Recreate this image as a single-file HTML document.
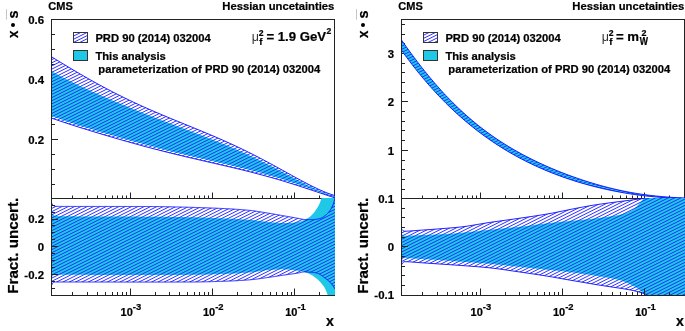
<!DOCTYPE html>
<html><head><meta charset="utf-8"><style>
html,body{margin:0;padding:0;background:#fff;}
svg{display:block;will-change:transform;}
text{font-family:"Liberation Sans",sans-serif;font-weight:bold;fill:#000;stroke:#000;stroke-width:0.22px;}
.lab{font-size:11px;}
.ylab{font-size:11.4px;}
.sup{font-size:9.4px;}
.ax{font-size:15.3px;}
.t{font-size:11px;}
.t2{font-size:11.28px;}
.lg{font-size:11.22px;}
.eq{font-size:13.2px;}
.sup2{font-size:8.6px;}
.mu{font-size:12.5px;font-weight:normal;fill:#333;stroke:none;}
.s2{font-size:8.6px;}
.sf{font-size:9.6px;}
.sw{font-size:10px;}
.s2b{font-size:8.9px;}
</style></head><body>
<svg width="685" height="331" viewBox="0 0 685 331">
<defs>
<pattern id="hatch" patternUnits="userSpaceOnUse" width="38" height="19"><path d="M-82.333,38.000L31.667,-19.000M-76.000,38.000L38.000,-19.000M-69.667,38.000L44.333,-19.000M-63.333,38.000L50.667,-19.000M-57.000,38.000L57.000,-19.000M-50.667,38.000L63.333,-19.000M-44.333,38.000L69.667,-19.000M-38.000,38.000L76.000,-19.000M-31.667,38.000L82.333,-19.000M-25.333,38.000L88.667,-19.000M-19.000,38.000L95.000,-19.000M-12.667,38.000L101.333,-19.000M-6.333,38.000L107.667,-19.000M0.000,38.000L114.000,-19.000M6.333,38.000L120.333,-19.000M12.667,38.000L126.667,-19.000M19.000,38.000L133.000,-19.000M25.333,38.000L139.333,-19.000M31.667,38.000L145.667,-19.000M38.000,38.000L152.000,-19.000" stroke="#1a1aff" stroke-width="0.92" fill="none"/></pattern>
<pattern id="hatchC" patternUnits="userSpaceOnUse" width="38" height="19"><path d="M-82.333,38.000L31.667,-19.000M-76.000,38.000L38.000,-19.000M-69.667,38.000L44.333,-19.000M-63.333,38.000L50.667,-19.000M-57.000,38.000L57.000,-19.000M-50.667,38.000L63.333,-19.000M-44.333,38.000L69.667,-19.000M-38.000,38.000L76.000,-19.000M-31.667,38.000L82.333,-19.000M-25.333,38.000L88.667,-19.000M-19.000,38.000L95.000,-19.000M-12.667,38.000L101.333,-19.000M-6.333,38.000L107.667,-19.000M0.000,38.000L114.000,-19.000M6.333,38.000L120.333,-19.000M12.667,38.000L126.667,-19.000M19.000,38.000L133.000,-19.000M25.333,38.000L139.333,-19.000M31.667,38.000L145.667,-19.000M38.000,38.000L152.000,-19.000" stroke="#1a1aff" stroke-width="0.88" fill="none"/></pattern>
<pattern id="hatchL" patternUnits="userSpaceOnUse" width="38" height="19"><path d="M-82.333,38.000L31.667,-19.000M-76.000,38.000L38.000,-19.000M-69.667,38.000L44.333,-19.000M-63.333,38.000L50.667,-19.000M-57.000,38.000L57.000,-19.000M-50.667,38.000L63.333,-19.000M-44.333,38.000L69.667,-19.000M-38.000,38.000L76.000,-19.000M-31.667,38.000L82.333,-19.000M-25.333,38.000L88.667,-19.000M-19.000,38.000L95.000,-19.000M-12.667,38.000L101.333,-19.000M-6.333,38.000L107.667,-19.000M0.000,38.000L114.000,-19.000M6.333,38.000L120.333,-19.000M12.667,38.000L126.667,-19.000M19.000,38.000L133.000,-19.000M25.333,38.000L139.333,-19.000M31.667,38.000L145.667,-19.000M38.000,38.000L152.000,-19.000" stroke="#1a1aff" stroke-width="0.92" fill="none"/></pattern>
</defs>
<rect width="685" height="331" fill="#fff"/>
<path d="M72.5,198.5v-3 M87.5,198.5v-3 M97.5,198.5v-3 M105.5,198.5v-3 M112.5,198.5v-3 M117.5,198.5v-3 M122.5,198.5v-3 M126.5,198.5v-3 M130.5,198.5v-6 M155.5,198.5v-3 M169.5,198.5v-3 M179.5,198.5v-3 M187.5,198.5v-3 M194.5,198.5v-3 M199.5,198.5v-3 M204.5,198.5v-3 M208.5,198.5v-3 M212.5,198.5v-6 M237.5,198.5v-3 M251.5,198.5v-3 M262.5,198.5v-3 M270.5,198.5v-3 M276.5,198.5v-3 M282.5,198.5v-3 M287.5,198.5v-3 M291.5,198.5v-3 M294.5,198.5v-6 M319.5,198.5v-3 M51.5,184.5h3.5 M51.5,169.5h3.5 M51.5,154.5h3.5 M51.5,139.5h6.5 M51.5,124.5h3.5 M51.5,109.5h3.5 M51.5,94.5h3.5 M51.5,79.5h6.5 M51.5,64.5h3.5 M51.5,49.5h3.5 M51.5,34.5h3.5" stroke="#222" stroke-width="1" fill="none"/>
<rect x="51.5" y="19.5" width="283" height="179" fill="none" stroke="#222" stroke-width="1"/>
<rect x="51.5" y="198.5" width="283" height="97" fill="none" stroke="#222" stroke-width="1"/>
<clipPath id="cLu"><rect x="52" y="20" width="283" height="179"/></clipPath>
<clipPath id="cLl"><rect x="52" y="198" width="283" height="97"/></clipPath>
<clipPath id="cLuc"><path d="M51.0,70.75 L52.0,71.34 L53.0,71.91 L54.0,72.49 L55.0,73.05 L56.0,73.62 L57.0,74.17 L58.0,74.72 L59.0,75.27 L60.0,75.81 L61.0,76.35 L62.0,76.88 L63.0,77.41 L64.0,77.94 L65.0,78.46 L66.0,78.98 L67.0,79.49 L68.0,80.00 L69.0,80.51 L70.0,81.01 L71.0,81.51 L72.0,82.01 L73.0,82.50 L74.0,83.00 L75.0,83.49 L76.0,83.97 L77.0,84.46 L78.0,84.94 L79.0,85.42 L80.0,85.89 L81.0,86.37 L82.0,86.84 L83.0,87.31 L84.0,87.78 L85.0,88.24 L86.0,88.71 L87.0,89.17 L88.0,89.63 L89.0,90.09 L90.0,90.55 L91.0,91.00 L92.0,91.45 L93.0,91.91 L94.0,92.36 L95.0,92.81 L96.0,93.25 L97.0,93.70 L98.0,94.14 L99.0,94.59 L100.0,95.03 L101.0,95.47 L102.0,95.91 L103.0,96.35 L104.0,96.78 L105.0,97.22 L106.0,97.65 L107.0,98.09 L108.0,98.52 L109.0,98.95 L110.0,99.38 L111.0,99.81 L112.0,100.24 L113.0,100.66 L114.0,101.09 L115.0,101.51 L116.0,101.94 L117.0,102.36 L118.0,102.78 L119.0,103.20 L120.0,103.62 L121.0,104.04 L122.0,104.45 L123.0,104.87 L124.0,105.29 L125.0,105.70 L126.0,106.11 L127.0,106.53 L128.0,106.94 L129.0,107.35 L130.0,107.76 L131.0,108.17 L132.0,108.57 L133.0,108.98 L134.0,109.39 L135.0,109.79 L136.0,110.20 L137.0,110.60 L138.0,111.00 L139.0,111.40 L140.0,111.80 L141.0,112.20 L142.0,112.60 L143.0,113.00 L144.0,113.40 L145.0,113.79 L146.0,114.19 L147.0,114.58 L148.0,114.98 L149.0,115.37 L150.0,115.76 L151.0,116.15 L152.0,116.54 L153.0,116.93 L154.0,117.32 L155.0,117.71 L156.0,118.10 L157.0,118.48 L158.0,118.87 L159.0,119.26 L160.0,119.64 L161.0,120.03 L162.0,120.41 L163.0,120.79 L164.0,121.18 L165.0,121.56 L166.0,121.94 L167.0,122.32 L168.0,122.70 L169.0,123.08 L170.0,123.46 L171.0,123.84 L172.0,124.22 L173.0,124.60 L174.0,124.98 L175.0,125.35 L176.0,125.73 L177.0,126.11 L178.0,126.49 L179.0,126.86 L180.0,127.24 L181.0,127.62 L182.0,127.99 L183.0,128.37 L184.0,128.75 L185.0,129.12 L186.0,129.50 L187.0,129.88 L188.0,130.26 L189.0,130.63 L190.0,131.01 L191.0,131.39 L192.0,131.77 L193.0,132.14 L194.0,132.52 L195.0,132.90 L196.0,133.28 L197.0,133.66 L198.0,134.04 L199.0,134.42 L200.0,134.81 L201.0,135.19 L202.0,135.57 L203.0,135.96 L204.0,136.34 L205.0,136.73 L206.0,137.11 L207.0,137.50 L208.0,137.89 L209.0,138.28 L210.0,138.67 L211.0,139.06 L212.0,139.46 L213.0,139.85 L214.0,140.25 L215.0,140.64 L216.0,141.04 L217.0,141.44 L218.0,141.84 L219.0,142.24 L220.0,142.65 L221.0,143.05 L222.0,143.46 L223.0,143.87 L224.0,144.28 L225.0,144.69 L226.0,145.11 L227.0,145.52 L228.0,145.94 L229.0,146.36 L230.0,146.78 L231.0,147.20 L232.0,147.63 L233.0,148.06 L234.0,148.49 L235.0,148.92 L236.0,149.35 L237.0,149.79 L238.0,150.23 L239.0,150.67 L240.0,151.11 L241.0,151.56 L242.0,152.00 L243.0,152.45 L244.0,152.90 L245.0,153.36 L246.0,153.81 L247.0,154.27 L248.0,154.74 L249.0,155.20 L250.0,155.67 L251.0,156.13 L252.0,156.61 L253.0,157.08 L254.0,157.55 L255.0,158.03 L256.0,158.51 L257.0,159.00 L258.0,159.48 L259.0,159.97 L260.0,160.46 L261.0,160.95 L262.0,161.45 L263.0,161.94 L264.0,162.44 L265.0,162.94 L266.0,163.45 L267.0,163.95 L268.0,164.46 L269.0,164.97 L270.0,165.48 L271.0,166.00 L272.0,166.51 L273.0,167.03 L274.0,167.55 L275.0,168.07 L276.0,168.59 L277.0,169.12 L278.0,169.64 L279.0,170.17 L280.0,170.70 L281.0,171.22 L282.0,171.75 L283.0,172.28 L284.0,172.82 L285.0,173.35 L286.0,173.88 L287.0,174.41 L288.0,174.95 L289.0,175.48 L290.0,176.01 L291.0,176.55 L292.0,177.08 L293.0,177.61 L294.0,178.14 L295.0,178.67 L296.0,179.20 L297.0,179.73 L298.0,180.26 L299.0,180.78 L300.0,181.31 L301.0,181.83 L302.0,182.35 L303.0,182.86 L304.0,183.38 L305.0,183.89 L306.0,184.39 L307.0,184.90 L308.0,185.40 L309.0,185.89 L310.0,186.38 L311.0,186.87 L312.0,187.35 L313.0,187.82 L314.0,188.29 L315.0,188.76 L316.0,189.21 L317.0,189.66 L318.0,190.11 L319.0,190.54 L320.0,190.97 L321.0,191.39 L322.0,191.80 L323.0,192.20 L324.0,192.60 L325.0,192.98 L326.0,193.35 L327.0,193.71 L328.0,194.06 L329.0,194.40 L330.0,194.72 L331.0,195.04 L332.0,195.34 L333.0,195.62 L334.0,195.89 L335.0,196.15 L335.0,197.74 L334.0,197.39 L333.0,197.04 L332.0,196.68 L331.0,196.32 L330.0,195.96 L329.0,195.60 L328.0,195.24 L327.0,194.88 L326.0,194.51 L325.0,194.15 L324.0,193.78 L323.0,193.41 L322.0,193.04 L321.0,192.68 L320.0,192.31 L319.0,191.94 L318.0,191.57 L317.0,191.20 L316.0,190.83 L315.0,190.47 L314.0,190.10 L313.0,189.73 L312.0,189.37 L311.0,189.00 L310.0,188.64 L309.0,188.27 L308.0,187.91 L307.0,187.55 L306.0,187.19 L305.0,186.83 L304.0,186.48 L303.0,186.12 L302.0,185.76 L301.0,185.41 L300.0,185.06 L299.0,184.71 L298.0,184.36 L297.0,184.02 L296.0,183.67 L295.0,183.33 L294.0,182.99 L293.0,182.65 L292.0,182.31 L291.0,181.97 L290.0,181.64 L289.0,181.31 L288.0,180.98 L287.0,180.65 L286.0,180.33 L285.0,180.00 L284.0,179.68 L283.0,179.36 L282.0,179.04 L281.0,178.73 L280.0,178.41 L279.0,178.10 L278.0,177.79 L277.0,177.49 L276.0,177.18 L275.0,176.88 L274.0,176.58 L273.0,176.28 L272.0,175.98 L271.0,175.69 L270.0,175.39 L269.0,175.10 L268.0,174.82 L267.0,174.53 L266.0,174.24 L265.0,173.96 L264.0,173.68 L263.0,173.40 L262.0,173.12 L261.0,172.85 L260.0,172.57 L259.0,172.30 L258.0,172.03 L257.0,171.76 L256.0,171.49 L255.0,171.23 L254.0,170.96 L253.0,170.70 L252.0,170.44 L251.0,170.18 L250.0,169.92 L249.0,169.67 L248.0,169.41 L247.0,169.16 L246.0,168.91 L245.0,168.66 L244.0,168.41 L243.0,168.16 L242.0,167.91 L241.0,167.67 L240.0,167.42 L239.0,167.18 L238.0,166.93 L237.0,166.69 L236.0,166.45 L235.0,166.21 L234.0,165.97 L233.0,165.73 L232.0,165.50 L231.0,165.26 L230.0,165.02 L229.0,164.79 L228.0,164.55 L227.0,164.32 L226.0,164.09 L225.0,163.85 L224.0,163.62 L223.0,163.39 L222.0,163.16 L221.0,162.93 L220.0,162.70 L219.0,162.47 L218.0,162.24 L217.0,162.01 L216.0,161.78 L215.0,161.55 L214.0,161.32 L213.0,161.09 L212.0,160.86 L211.0,160.63 L210.0,160.40 L209.0,160.17 L208.0,159.94 L207.0,159.71 L206.0,159.48 L205.0,159.25 L204.0,159.02 L203.0,158.79 L202.0,158.56 L201.0,158.33 L200.0,158.10 L199.0,157.87 L198.0,157.64 L197.0,157.41 L196.0,157.17 L195.0,156.94 L194.0,156.71 L193.0,156.47 L192.0,156.24 L191.0,156.00 L190.0,155.77 L189.0,155.53 L188.0,155.30 L187.0,155.06 L186.0,154.82 L185.0,154.58 L184.0,154.35 L183.0,154.11 L182.0,153.87 L181.0,153.63 L180.0,153.38 L179.0,153.14 L178.0,152.90 L177.0,152.66 L176.0,152.41 L175.0,152.17 L174.0,151.92 L173.0,151.67 L172.0,151.43 L171.0,151.18 L170.0,150.93 L169.0,150.68 L168.0,150.43 L167.0,150.18 L166.0,149.93 L165.0,149.67 L164.0,149.42 L163.0,149.16 L162.0,148.91 L161.0,148.65 L160.0,148.40 L159.0,148.14 L158.0,147.88 L157.0,147.62 L156.0,147.36 L155.0,147.10 L154.0,146.84 L153.0,146.57 L152.0,146.31 L151.0,146.05 L150.0,145.78 L149.0,145.52 L148.0,145.25 L147.0,144.98 L146.0,144.71 L145.0,144.44 L144.0,144.18 L143.0,143.90 L142.0,143.63 L141.0,143.36 L140.0,143.09 L139.0,142.82 L138.0,142.54 L137.0,142.27 L136.0,141.99 L135.0,141.72 L134.0,141.44 L133.0,141.16 L132.0,140.88 L131.0,140.61 L130.0,140.33 L129.0,140.05 L128.0,139.77 L127.0,139.48 L126.0,139.20 L125.0,138.92 L124.0,138.64 L123.0,138.35 L122.0,138.07 L121.0,137.78 L120.0,137.50 L119.0,137.21 L118.0,136.93 L117.0,136.64 L116.0,136.35 L115.0,136.06 L114.0,135.78 L113.0,135.49 L112.0,135.20 L111.0,134.91 L110.0,134.61 L109.0,134.32 L108.0,134.03 L107.0,133.74 L106.0,133.45 L105.0,133.15 L104.0,132.86 L103.0,132.56 L102.0,132.27 L101.0,131.97 L100.0,131.67 L99.0,131.38 L98.0,131.08 L97.0,130.78 L96.0,130.48 L95.0,130.18 L94.0,129.88 L93.0,129.58 L92.0,129.27 L91.0,128.97 L90.0,128.67 L89.0,128.36 L88.0,128.06 L87.0,127.75 L86.0,127.44 L85.0,127.13 L84.0,126.83 L83.0,126.51 L82.0,126.20 L81.0,125.89 L80.0,125.58 L79.0,125.26 L78.0,124.94 L77.0,124.63 L76.0,124.31 L75.0,123.99 L74.0,123.66 L73.0,123.34 L72.0,123.01 L71.0,122.69 L70.0,122.36 L69.0,122.03 L68.0,121.69 L67.0,121.36 L66.0,121.02 L65.0,120.68 L64.0,120.34 L63.0,120.00 L62.0,119.65 L61.0,119.30 L60.0,118.95 L59.0,118.59 L58.0,118.24 L57.0,117.88 L56.0,117.51 L55.0,117.15 L54.0,116.77 L53.0,116.40 L52.0,116.02 L51.0,115.64 Z"/></clipPath>
<g clip-path="url(#cLu)">
<path d="M51.0,56.48 L52.0,57.09 L53.0,57.70 L54.0,58.31 L55.0,58.92 L56.0,59.53 L57.0,60.14 L58.0,60.75 L59.0,61.36 L60.0,61.97 L61.0,62.57 L62.0,63.18 L63.0,63.79 L64.0,64.39 L65.0,64.99 L66.0,65.60 L67.0,66.20 L68.0,66.80 L69.0,67.40 L70.0,67.99 L71.0,68.59 L72.0,69.19 L73.0,69.78 L74.0,70.37 L75.0,70.96 L76.0,71.55 L77.0,72.14 L78.0,72.73 L79.0,73.31 L80.0,73.90 L81.0,74.48 L82.0,75.06 L83.0,75.64 L84.0,76.21 L85.0,76.79 L86.0,77.36 L87.0,77.93 L88.0,78.50 L89.0,79.07 L90.0,79.64 L91.0,80.20 L92.0,80.76 L93.0,81.32 L94.0,81.88 L95.0,82.43 L96.0,82.99 L97.0,83.54 L98.0,84.09 L99.0,84.63 L100.0,85.18 L101.0,85.72 L102.0,86.26 L103.0,86.80 L104.0,87.34 L105.0,87.87 L106.0,88.40 L107.0,88.93 L108.0,89.46 L109.0,89.99 L110.0,90.51 L111.0,91.03 L112.0,91.55 L113.0,92.07 L114.0,92.58 L115.0,93.09 L116.0,93.60 L117.0,94.11 L118.0,94.61 L119.0,95.12 L120.0,95.62 L121.0,96.11 L122.0,96.61 L123.0,97.10 L124.0,97.60 L125.0,98.08 L126.0,98.57 L127.0,99.06 L128.0,99.54 L129.0,100.02 L130.0,100.50 L131.0,100.97 L132.0,101.45 L133.0,101.92 L134.0,102.39 L135.0,102.86 L136.0,103.32 L137.0,103.79 L138.0,104.25 L139.0,104.71 L140.0,105.17 L141.0,105.62 L142.0,106.08 L143.0,106.53 L144.0,106.98 L145.0,107.43 L146.0,107.87 L147.0,108.32 L148.0,108.76 L149.0,109.20 L150.0,109.64 L151.0,110.08 L152.0,110.52 L153.0,110.95 L154.0,111.38 L155.0,111.82 L156.0,112.25 L157.0,112.68 L158.0,113.10 L159.0,113.53 L160.0,113.95 L161.0,114.38 L162.0,114.80 L163.0,115.22 L164.0,115.64 L165.0,116.06 L166.0,116.48 L167.0,116.90 L168.0,117.31 L169.0,117.73 L170.0,118.14 L171.0,118.56 L172.0,118.97 L173.0,119.38 L174.0,119.80 L175.0,120.21 L176.0,120.62 L177.0,121.03 L178.0,121.44 L179.0,121.85 L180.0,122.26 L181.0,122.66 L182.0,123.07 L183.0,123.48 L184.0,123.89 L185.0,124.30 L186.0,124.70 L187.0,125.11 L188.0,125.52 L189.0,125.93 L190.0,126.34 L191.0,126.75 L192.0,127.15 L193.0,127.56 L194.0,127.97 L195.0,128.38 L196.0,128.79 L197.0,129.21 L198.0,129.62 L199.0,130.03 L200.0,130.44 L201.0,130.86 L202.0,131.27 L203.0,131.69 L204.0,132.10 L205.0,132.52 L206.0,132.94 L207.0,133.36 L208.0,133.78 L209.0,134.20 L210.0,134.62 L211.0,135.05 L212.0,135.47 L213.0,135.90 L214.0,136.33 L215.0,136.76 L216.0,137.19 L217.0,137.62 L218.0,138.06 L219.0,138.49 L220.0,138.93 L221.0,139.37 L222.0,139.81 L223.0,140.25 L224.0,140.70 L225.0,141.14 L226.0,141.59 L227.0,142.04 L228.0,142.49 L229.0,142.95 L230.0,143.40 L231.0,143.86 L232.0,144.32 L233.0,144.78 L234.0,145.25 L235.0,145.71 L236.0,146.18 L237.0,146.65 L238.0,147.12 L239.0,147.60 L240.0,148.08 L241.0,148.55 L242.0,149.04 L243.0,149.52 L244.0,150.01 L245.0,150.49 L246.0,150.98 L247.0,151.48 L248.0,151.97 L249.0,152.47 L250.0,152.97 L251.0,153.47 L252.0,153.97 L253.0,154.48 L254.0,154.99 L255.0,155.50 L256.0,156.01 L257.0,156.53 L258.0,157.04 L259.0,157.56 L260.0,158.08 L261.0,158.61 L262.0,159.13 L263.0,159.66 L264.0,160.19 L265.0,160.72 L266.0,161.25 L267.0,161.78 L268.0,162.32 L269.0,162.86 L270.0,163.40 L271.0,163.94 L272.0,164.48 L273.0,165.02 L274.0,165.57 L275.0,166.11 L276.0,166.66 L277.0,167.21 L278.0,167.76 L279.0,168.31 L280.0,168.86 L281.0,169.41 L282.0,169.96 L283.0,170.52 L284.0,171.07 L285.0,171.62 L286.0,172.18 L287.0,172.73 L288.0,173.28 L289.0,173.84 L290.0,174.39 L291.0,174.94 L292.0,175.49 L293.0,176.04 L294.0,176.59 L295.0,177.14 L296.0,177.69 L297.0,178.23 L298.0,178.78 L299.0,179.32 L300.0,179.86 L301.0,180.40 L302.0,180.93 L303.0,181.47 L304.0,182.00 L305.0,182.52 L306.0,183.05 L307.0,183.57 L308.0,184.09 L309.0,184.60 L310.0,185.11 L311.0,185.61 L312.0,186.11 L313.0,186.61 L314.0,187.10 L315.0,187.58 L316.0,188.06 L317.0,188.53 L318.0,189.00 L319.0,189.46 L320.0,189.91 L321.0,190.36 L322.0,190.79 L323.0,191.23 L324.0,191.65 L325.0,192.06 L326.0,192.47 L327.0,192.86 L328.0,193.25 L329.0,193.63 L330.0,193.99 L331.0,194.35 L332.0,194.69 L333.0,195.03 L334.0,195.35 L335.0,195.66 L335.0,197.85 L334.0,197.53 L333.0,197.22 L332.0,196.90 L331.0,196.58 L330.0,196.25 L329.0,195.93 L328.0,195.60 L327.0,195.27 L326.0,194.95 L325.0,194.62 L324.0,194.28 L323.0,193.95 L322.0,193.62 L321.0,193.29 L320.0,192.95 L319.0,192.62 L318.0,192.28 L317.0,191.95 L316.0,191.62 L315.0,191.28 L314.0,190.95 L313.0,190.61 L312.0,190.28 L311.0,189.94 L310.0,189.61 L309.0,189.28 L308.0,188.95 L307.0,188.61 L306.0,188.28 L305.0,187.95 L304.0,187.62 L303.0,187.29 L302.0,186.97 L301.0,186.64 L300.0,186.31 L299.0,185.99 L298.0,185.67 L297.0,185.35 L296.0,185.02 L295.0,184.70 L294.0,184.39 L293.0,184.07 L292.0,183.75 L291.0,183.44 L290.0,183.13 L289.0,182.82 L288.0,182.51 L287.0,182.20 L286.0,181.89 L285.0,181.59 L284.0,181.28 L283.0,180.98 L282.0,180.68 L281.0,180.38 L280.0,180.08 L279.0,179.79 L278.0,179.49 L277.0,179.20 L276.0,178.91 L275.0,178.62 L274.0,178.33 L273.0,178.04 L272.0,177.76 L271.0,177.47 L270.0,177.19 L269.0,176.91 L268.0,176.63 L267.0,176.36 L266.0,176.08 L265.0,175.81 L264.0,175.53 L263.0,175.26 L262.0,174.99 L261.0,174.73 L260.0,174.46 L259.0,174.19 L258.0,173.93 L257.0,173.67 L256.0,173.41 L255.0,173.15 L254.0,172.89 L253.0,172.63 L252.0,172.37 L251.0,172.12 L250.0,171.87 L249.0,171.61 L248.0,171.36 L247.0,171.11 L246.0,170.86 L245.0,170.61 L244.0,170.37 L243.0,170.12 L242.0,169.88 L241.0,169.63 L240.0,169.39 L239.0,169.15 L238.0,168.91 L237.0,168.67 L236.0,168.43 L235.0,168.19 L234.0,167.95 L233.0,167.71 L232.0,167.47 L231.0,167.24 L230.0,167.00 L229.0,166.77 L228.0,166.53 L227.0,166.30 L226.0,166.07 L225.0,165.83 L224.0,165.60 L223.0,165.37 L222.0,165.14 L221.0,164.91 L220.0,164.68 L219.0,164.45 L218.0,164.21 L217.0,163.98 L216.0,163.75 L215.0,163.52 L214.0,163.29 L213.0,163.07 L212.0,162.84 L211.0,162.61 L210.0,162.38 L209.0,162.15 L208.0,161.92 L207.0,161.69 L206.0,161.46 L205.0,161.23 L204.0,161.00 L203.0,160.77 L202.0,160.54 L201.0,160.31 L200.0,160.08 L199.0,159.84 L198.0,159.61 L197.0,159.38 L196.0,159.15 L195.0,158.92 L194.0,158.68 L193.0,158.45 L192.0,158.22 L191.0,157.98 L190.0,157.75 L189.0,157.51 L188.0,157.28 L187.0,157.04 L186.0,156.80 L185.0,156.57 L184.0,156.33 L183.0,156.09 L182.0,155.85 L181.0,155.61 L180.0,155.37 L179.0,155.13 L178.0,154.89 L177.0,154.65 L176.0,154.40 L175.0,154.16 L174.0,153.91 L173.0,153.67 L172.0,153.42 L171.0,153.18 L170.0,152.93 L169.0,152.68 L168.0,152.43 L167.0,152.18 L166.0,151.93 L165.0,151.68 L164.0,151.43 L163.0,151.17 L162.0,150.92 L161.0,150.67 L160.0,150.41 L159.0,150.15 L158.0,149.90 L157.0,149.64 L156.0,149.38 L155.0,149.12 L154.0,148.86 L153.0,148.60 L152.0,148.34 L151.0,148.07 L150.0,147.81 L149.0,147.54 L148.0,147.28 L147.0,147.01 L146.0,146.74 L145.0,146.48 L144.0,146.21 L143.0,145.94 L142.0,145.67 L141.0,145.40 L140.0,145.12 L139.0,144.85 L138.0,144.58 L137.0,144.30 L136.0,144.03 L135.0,143.75 L134.0,143.47 L133.0,143.20 L132.0,142.92 L131.0,142.64 L130.0,142.36 L129.0,142.08 L128.0,141.80 L127.0,141.51 L126.0,141.23 L125.0,140.95 L124.0,140.66 L123.0,140.38 L122.0,140.09 L121.0,139.80 L120.0,139.52 L119.0,139.23 L118.0,138.94 L117.0,138.65 L116.0,138.36 L115.0,138.07 L114.0,137.78 L113.0,137.49 L112.0,137.20 L111.0,136.90 L110.0,136.61 L109.0,136.31 L108.0,136.02 L107.0,135.72 L106.0,135.43 L105.0,135.13 L104.0,134.83 L103.0,134.53 L102.0,134.24 L101.0,133.94 L100.0,133.64 L99.0,133.34 L98.0,133.04 L97.0,132.73 L96.0,132.43 L95.0,132.13 L94.0,131.82 L93.0,131.52 L92.0,131.21 L91.0,130.91 L90.0,130.60 L89.0,130.30 L88.0,129.99 L87.0,129.68 L86.0,129.37 L85.0,129.06 L84.0,128.75 L83.0,128.44 L82.0,128.13 L81.0,127.81 L80.0,127.50 L79.0,127.19 L78.0,126.87 L77.0,126.56 L76.0,126.24 L75.0,125.92 L74.0,125.60 L73.0,125.28 L72.0,124.96 L71.0,124.64 L70.0,124.32 L69.0,123.99 L68.0,123.67 L67.0,123.34 L66.0,123.01 L65.0,122.68 L64.0,122.35 L63.0,122.02 L62.0,121.69 L61.0,121.36 L60.0,121.02 L59.0,120.68 L58.0,120.34 L57.0,120.00 L56.0,119.66 L55.0,119.31 L54.0,118.97 L53.0,118.62 L52.0,118.27 L51.0,117.92 Z" fill="url(#hatch)"/>
<path d="M51.0,70.75 L52.0,71.34 L53.0,71.91 L54.0,72.49 L55.0,73.05 L56.0,73.62 L57.0,74.17 L58.0,74.72 L59.0,75.27 L60.0,75.81 L61.0,76.35 L62.0,76.88 L63.0,77.41 L64.0,77.94 L65.0,78.46 L66.0,78.98 L67.0,79.49 L68.0,80.00 L69.0,80.51 L70.0,81.01 L71.0,81.51 L72.0,82.01 L73.0,82.50 L74.0,83.00 L75.0,83.49 L76.0,83.97 L77.0,84.46 L78.0,84.94 L79.0,85.42 L80.0,85.89 L81.0,86.37 L82.0,86.84 L83.0,87.31 L84.0,87.78 L85.0,88.24 L86.0,88.71 L87.0,89.17 L88.0,89.63 L89.0,90.09 L90.0,90.55 L91.0,91.00 L92.0,91.45 L93.0,91.91 L94.0,92.36 L95.0,92.81 L96.0,93.25 L97.0,93.70 L98.0,94.14 L99.0,94.59 L100.0,95.03 L101.0,95.47 L102.0,95.91 L103.0,96.35 L104.0,96.78 L105.0,97.22 L106.0,97.65 L107.0,98.09 L108.0,98.52 L109.0,98.95 L110.0,99.38 L111.0,99.81 L112.0,100.24 L113.0,100.66 L114.0,101.09 L115.0,101.51 L116.0,101.94 L117.0,102.36 L118.0,102.78 L119.0,103.20 L120.0,103.62 L121.0,104.04 L122.0,104.45 L123.0,104.87 L124.0,105.29 L125.0,105.70 L126.0,106.11 L127.0,106.53 L128.0,106.94 L129.0,107.35 L130.0,107.76 L131.0,108.17 L132.0,108.57 L133.0,108.98 L134.0,109.39 L135.0,109.79 L136.0,110.20 L137.0,110.60 L138.0,111.00 L139.0,111.40 L140.0,111.80 L141.0,112.20 L142.0,112.60 L143.0,113.00 L144.0,113.40 L145.0,113.79 L146.0,114.19 L147.0,114.58 L148.0,114.98 L149.0,115.37 L150.0,115.76 L151.0,116.15 L152.0,116.54 L153.0,116.93 L154.0,117.32 L155.0,117.71 L156.0,118.10 L157.0,118.48 L158.0,118.87 L159.0,119.26 L160.0,119.64 L161.0,120.03 L162.0,120.41 L163.0,120.79 L164.0,121.18 L165.0,121.56 L166.0,121.94 L167.0,122.32 L168.0,122.70 L169.0,123.08 L170.0,123.46 L171.0,123.84 L172.0,124.22 L173.0,124.60 L174.0,124.98 L175.0,125.35 L176.0,125.73 L177.0,126.11 L178.0,126.49 L179.0,126.86 L180.0,127.24 L181.0,127.62 L182.0,127.99 L183.0,128.37 L184.0,128.75 L185.0,129.12 L186.0,129.50 L187.0,129.88 L188.0,130.26 L189.0,130.63 L190.0,131.01 L191.0,131.39 L192.0,131.77 L193.0,132.14 L194.0,132.52 L195.0,132.90 L196.0,133.28 L197.0,133.66 L198.0,134.04 L199.0,134.42 L200.0,134.81 L201.0,135.19 L202.0,135.57 L203.0,135.96 L204.0,136.34 L205.0,136.73 L206.0,137.11 L207.0,137.50 L208.0,137.89 L209.0,138.28 L210.0,138.67 L211.0,139.06 L212.0,139.46 L213.0,139.85 L214.0,140.25 L215.0,140.64 L216.0,141.04 L217.0,141.44 L218.0,141.84 L219.0,142.24 L220.0,142.65 L221.0,143.05 L222.0,143.46 L223.0,143.87 L224.0,144.28 L225.0,144.69 L226.0,145.11 L227.0,145.52 L228.0,145.94 L229.0,146.36 L230.0,146.78 L231.0,147.20 L232.0,147.63 L233.0,148.06 L234.0,148.49 L235.0,148.92 L236.0,149.35 L237.0,149.79 L238.0,150.23 L239.0,150.67 L240.0,151.11 L241.0,151.56 L242.0,152.00 L243.0,152.45 L244.0,152.90 L245.0,153.36 L246.0,153.81 L247.0,154.27 L248.0,154.74 L249.0,155.20 L250.0,155.67 L251.0,156.13 L252.0,156.61 L253.0,157.08 L254.0,157.55 L255.0,158.03 L256.0,158.51 L257.0,159.00 L258.0,159.48 L259.0,159.97 L260.0,160.46 L261.0,160.95 L262.0,161.45 L263.0,161.94 L264.0,162.44 L265.0,162.94 L266.0,163.45 L267.0,163.95 L268.0,164.46 L269.0,164.97 L270.0,165.48 L271.0,166.00 L272.0,166.51 L273.0,167.03 L274.0,167.55 L275.0,168.07 L276.0,168.59 L277.0,169.12 L278.0,169.64 L279.0,170.17 L280.0,170.70 L281.0,171.22 L282.0,171.75 L283.0,172.28 L284.0,172.82 L285.0,173.35 L286.0,173.88 L287.0,174.41 L288.0,174.95 L289.0,175.48 L290.0,176.01 L291.0,176.55 L292.0,177.08 L293.0,177.61 L294.0,178.14 L295.0,178.67 L296.0,179.20 L297.0,179.73 L298.0,180.26 L299.0,180.78 L300.0,181.31 L301.0,181.83 L302.0,182.35 L303.0,182.86 L304.0,183.38 L305.0,183.89 L306.0,184.39 L307.0,184.90 L308.0,185.40 L309.0,185.89 L310.0,186.38 L311.0,186.87 L312.0,187.35 L313.0,187.82 L314.0,188.29 L315.0,188.76 L316.0,189.21 L317.0,189.66 L318.0,190.11 L319.0,190.54 L320.0,190.97 L321.0,191.39 L322.0,191.80 L323.0,192.20 L324.0,192.60 L325.0,192.98 L326.0,193.35 L327.0,193.71 L328.0,194.06 L329.0,194.40 L330.0,194.72 L331.0,195.04 L332.0,195.34 L333.0,195.62 L334.0,195.89 L335.0,196.15 L335.0,197.74 L334.0,197.39 L333.0,197.04 L332.0,196.68 L331.0,196.32 L330.0,195.96 L329.0,195.60 L328.0,195.24 L327.0,194.88 L326.0,194.51 L325.0,194.15 L324.0,193.78 L323.0,193.41 L322.0,193.04 L321.0,192.68 L320.0,192.31 L319.0,191.94 L318.0,191.57 L317.0,191.20 L316.0,190.83 L315.0,190.47 L314.0,190.10 L313.0,189.73 L312.0,189.37 L311.0,189.00 L310.0,188.64 L309.0,188.27 L308.0,187.91 L307.0,187.55 L306.0,187.19 L305.0,186.83 L304.0,186.48 L303.0,186.12 L302.0,185.76 L301.0,185.41 L300.0,185.06 L299.0,184.71 L298.0,184.36 L297.0,184.02 L296.0,183.67 L295.0,183.33 L294.0,182.99 L293.0,182.65 L292.0,182.31 L291.0,181.97 L290.0,181.64 L289.0,181.31 L288.0,180.98 L287.0,180.65 L286.0,180.33 L285.0,180.00 L284.0,179.68 L283.0,179.36 L282.0,179.04 L281.0,178.73 L280.0,178.41 L279.0,178.10 L278.0,177.79 L277.0,177.49 L276.0,177.18 L275.0,176.88 L274.0,176.58 L273.0,176.28 L272.0,175.98 L271.0,175.69 L270.0,175.39 L269.0,175.10 L268.0,174.82 L267.0,174.53 L266.0,174.24 L265.0,173.96 L264.0,173.68 L263.0,173.40 L262.0,173.12 L261.0,172.85 L260.0,172.57 L259.0,172.30 L258.0,172.03 L257.0,171.76 L256.0,171.49 L255.0,171.23 L254.0,170.96 L253.0,170.70 L252.0,170.44 L251.0,170.18 L250.0,169.92 L249.0,169.67 L248.0,169.41 L247.0,169.16 L246.0,168.91 L245.0,168.66 L244.0,168.41 L243.0,168.16 L242.0,167.91 L241.0,167.67 L240.0,167.42 L239.0,167.18 L238.0,166.93 L237.0,166.69 L236.0,166.45 L235.0,166.21 L234.0,165.97 L233.0,165.73 L232.0,165.50 L231.0,165.26 L230.0,165.02 L229.0,164.79 L228.0,164.55 L227.0,164.32 L226.0,164.09 L225.0,163.85 L224.0,163.62 L223.0,163.39 L222.0,163.16 L221.0,162.93 L220.0,162.70 L219.0,162.47 L218.0,162.24 L217.0,162.01 L216.0,161.78 L215.0,161.55 L214.0,161.32 L213.0,161.09 L212.0,160.86 L211.0,160.63 L210.0,160.40 L209.0,160.17 L208.0,159.94 L207.0,159.71 L206.0,159.48 L205.0,159.25 L204.0,159.02 L203.0,158.79 L202.0,158.56 L201.0,158.33 L200.0,158.10 L199.0,157.87 L198.0,157.64 L197.0,157.41 L196.0,157.17 L195.0,156.94 L194.0,156.71 L193.0,156.47 L192.0,156.24 L191.0,156.00 L190.0,155.77 L189.0,155.53 L188.0,155.30 L187.0,155.06 L186.0,154.82 L185.0,154.58 L184.0,154.35 L183.0,154.11 L182.0,153.87 L181.0,153.63 L180.0,153.38 L179.0,153.14 L178.0,152.90 L177.0,152.66 L176.0,152.41 L175.0,152.17 L174.0,151.92 L173.0,151.67 L172.0,151.43 L171.0,151.18 L170.0,150.93 L169.0,150.68 L168.0,150.43 L167.0,150.18 L166.0,149.93 L165.0,149.67 L164.0,149.42 L163.0,149.16 L162.0,148.91 L161.0,148.65 L160.0,148.40 L159.0,148.14 L158.0,147.88 L157.0,147.62 L156.0,147.36 L155.0,147.10 L154.0,146.84 L153.0,146.57 L152.0,146.31 L151.0,146.05 L150.0,145.78 L149.0,145.52 L148.0,145.25 L147.0,144.98 L146.0,144.71 L145.0,144.44 L144.0,144.18 L143.0,143.90 L142.0,143.63 L141.0,143.36 L140.0,143.09 L139.0,142.82 L138.0,142.54 L137.0,142.27 L136.0,141.99 L135.0,141.72 L134.0,141.44 L133.0,141.16 L132.0,140.88 L131.0,140.61 L130.0,140.33 L129.0,140.05 L128.0,139.77 L127.0,139.48 L126.0,139.20 L125.0,138.92 L124.0,138.64 L123.0,138.35 L122.0,138.07 L121.0,137.78 L120.0,137.50 L119.0,137.21 L118.0,136.93 L117.0,136.64 L116.0,136.35 L115.0,136.06 L114.0,135.78 L113.0,135.49 L112.0,135.20 L111.0,134.91 L110.0,134.61 L109.0,134.32 L108.0,134.03 L107.0,133.74 L106.0,133.45 L105.0,133.15 L104.0,132.86 L103.0,132.56 L102.0,132.27 L101.0,131.97 L100.0,131.67 L99.0,131.38 L98.0,131.08 L97.0,130.78 L96.0,130.48 L95.0,130.18 L94.0,129.88 L93.0,129.58 L92.0,129.27 L91.0,128.97 L90.0,128.67 L89.0,128.36 L88.0,128.06 L87.0,127.75 L86.0,127.44 L85.0,127.13 L84.0,126.83 L83.0,126.51 L82.0,126.20 L81.0,125.89 L80.0,125.58 L79.0,125.26 L78.0,124.94 L77.0,124.63 L76.0,124.31 L75.0,123.99 L74.0,123.66 L73.0,123.34 L72.0,123.01 L71.0,122.69 L70.0,122.36 L69.0,122.03 L68.0,121.69 L67.0,121.36 L66.0,121.02 L65.0,120.68 L64.0,120.34 L63.0,120.00 L62.0,119.65 L61.0,119.30 L60.0,118.95 L59.0,118.59 L58.0,118.24 L57.0,117.88 L56.0,117.51 L55.0,117.15 L54.0,116.77 L53.0,116.40 L52.0,116.02 L51.0,115.64 Z" fill="#1ec8e6"/>
<path d="M51.0,56.48 L52.0,57.09 L53.0,57.70 L54.0,58.31 L55.0,58.92 L56.0,59.53 L57.0,60.14 L58.0,60.75 L59.0,61.36 L60.0,61.97 L61.0,62.57 L62.0,63.18 L63.0,63.79 L64.0,64.39 L65.0,64.99 L66.0,65.60 L67.0,66.20 L68.0,66.80 L69.0,67.40 L70.0,67.99 L71.0,68.59 L72.0,69.19 L73.0,69.78 L74.0,70.37 L75.0,70.96 L76.0,71.55 L77.0,72.14 L78.0,72.73 L79.0,73.31 L80.0,73.90 L81.0,74.48 L82.0,75.06 L83.0,75.64 L84.0,76.21 L85.0,76.79 L86.0,77.36 L87.0,77.93 L88.0,78.50 L89.0,79.07 L90.0,79.64 L91.0,80.20 L92.0,80.76 L93.0,81.32 L94.0,81.88 L95.0,82.43 L96.0,82.99 L97.0,83.54 L98.0,84.09 L99.0,84.63 L100.0,85.18 L101.0,85.72 L102.0,86.26 L103.0,86.80 L104.0,87.34 L105.0,87.87 L106.0,88.40 L107.0,88.93 L108.0,89.46 L109.0,89.99 L110.0,90.51 L111.0,91.03 L112.0,91.55 L113.0,92.07 L114.0,92.58 L115.0,93.09 L116.0,93.60 L117.0,94.11 L118.0,94.61 L119.0,95.12 L120.0,95.62 L121.0,96.11 L122.0,96.61 L123.0,97.10 L124.0,97.60 L125.0,98.08 L126.0,98.57 L127.0,99.06 L128.0,99.54 L129.0,100.02 L130.0,100.50 L131.0,100.97 L132.0,101.45 L133.0,101.92 L134.0,102.39 L135.0,102.86 L136.0,103.32 L137.0,103.79 L138.0,104.25 L139.0,104.71 L140.0,105.17 L141.0,105.62 L142.0,106.08 L143.0,106.53 L144.0,106.98 L145.0,107.43 L146.0,107.87 L147.0,108.32 L148.0,108.76 L149.0,109.20 L150.0,109.64 L151.0,110.08 L152.0,110.52 L153.0,110.95 L154.0,111.38 L155.0,111.82 L156.0,112.25 L157.0,112.68 L158.0,113.10 L159.0,113.53 L160.0,113.95 L161.0,114.38 L162.0,114.80 L163.0,115.22 L164.0,115.64 L165.0,116.06 L166.0,116.48 L167.0,116.90 L168.0,117.31 L169.0,117.73 L170.0,118.14 L171.0,118.56 L172.0,118.97 L173.0,119.38 L174.0,119.80 L175.0,120.21 L176.0,120.62 L177.0,121.03 L178.0,121.44 L179.0,121.85 L180.0,122.26 L181.0,122.66 L182.0,123.07 L183.0,123.48 L184.0,123.89 L185.0,124.30 L186.0,124.70 L187.0,125.11 L188.0,125.52 L189.0,125.93 L190.0,126.34 L191.0,126.75 L192.0,127.15 L193.0,127.56 L194.0,127.97 L195.0,128.38 L196.0,128.79 L197.0,129.21 L198.0,129.62 L199.0,130.03 L200.0,130.44 L201.0,130.86 L202.0,131.27 L203.0,131.69 L204.0,132.10 L205.0,132.52 L206.0,132.94 L207.0,133.36 L208.0,133.78 L209.0,134.20 L210.0,134.62 L211.0,135.05 L212.0,135.47 L213.0,135.90 L214.0,136.33 L215.0,136.76 L216.0,137.19 L217.0,137.62 L218.0,138.06 L219.0,138.49 L220.0,138.93 L221.0,139.37 L222.0,139.81 L223.0,140.25 L224.0,140.70 L225.0,141.14 L226.0,141.59 L227.0,142.04 L228.0,142.49 L229.0,142.95 L230.0,143.40 L231.0,143.86 L232.0,144.32 L233.0,144.78 L234.0,145.25 L235.0,145.71 L236.0,146.18 L237.0,146.65 L238.0,147.12 L239.0,147.60 L240.0,148.08 L241.0,148.55 L242.0,149.04 L243.0,149.52 L244.0,150.01 L245.0,150.49 L246.0,150.98 L247.0,151.48 L248.0,151.97 L249.0,152.47 L250.0,152.97 L251.0,153.47 L252.0,153.97 L253.0,154.48 L254.0,154.99 L255.0,155.50 L256.0,156.01 L257.0,156.53 L258.0,157.04 L259.0,157.56 L260.0,158.08 L261.0,158.61 L262.0,159.13 L263.0,159.66 L264.0,160.19 L265.0,160.72 L266.0,161.25 L267.0,161.78 L268.0,162.32 L269.0,162.86 L270.0,163.40 L271.0,163.94 L272.0,164.48 L273.0,165.02 L274.0,165.57 L275.0,166.11 L276.0,166.66 L277.0,167.21 L278.0,167.76 L279.0,168.31 L280.0,168.86 L281.0,169.41 L282.0,169.96 L283.0,170.52 L284.0,171.07 L285.0,171.62 L286.0,172.18 L287.0,172.73 L288.0,173.28 L289.0,173.84 L290.0,174.39 L291.0,174.94 L292.0,175.49 L293.0,176.04 L294.0,176.59 L295.0,177.14 L296.0,177.69 L297.0,178.23 L298.0,178.78 L299.0,179.32 L300.0,179.86 L301.0,180.40 L302.0,180.93 L303.0,181.47 L304.0,182.00 L305.0,182.52 L306.0,183.05 L307.0,183.57 L308.0,184.09 L309.0,184.60 L310.0,185.11 L311.0,185.61 L312.0,186.11 L313.0,186.61 L314.0,187.10 L315.0,187.58 L316.0,188.06 L317.0,188.53 L318.0,189.00 L319.0,189.46 L320.0,189.91 L321.0,190.36 L322.0,190.79 L323.0,191.23 L324.0,191.65 L325.0,192.06 L326.0,192.47 L327.0,192.86 L328.0,193.25 L329.0,193.63 L330.0,193.99 L331.0,194.35 L332.0,194.69 L333.0,195.03 L334.0,195.35 L335.0,195.66 L335.0,197.85 L334.0,197.53 L333.0,197.22 L332.0,196.90 L331.0,196.58 L330.0,196.25 L329.0,195.93 L328.0,195.60 L327.0,195.27 L326.0,194.95 L325.0,194.62 L324.0,194.28 L323.0,193.95 L322.0,193.62 L321.0,193.29 L320.0,192.95 L319.0,192.62 L318.0,192.28 L317.0,191.95 L316.0,191.62 L315.0,191.28 L314.0,190.95 L313.0,190.61 L312.0,190.28 L311.0,189.94 L310.0,189.61 L309.0,189.28 L308.0,188.95 L307.0,188.61 L306.0,188.28 L305.0,187.95 L304.0,187.62 L303.0,187.29 L302.0,186.97 L301.0,186.64 L300.0,186.31 L299.0,185.99 L298.0,185.67 L297.0,185.35 L296.0,185.02 L295.0,184.70 L294.0,184.39 L293.0,184.07 L292.0,183.75 L291.0,183.44 L290.0,183.13 L289.0,182.82 L288.0,182.51 L287.0,182.20 L286.0,181.89 L285.0,181.59 L284.0,181.28 L283.0,180.98 L282.0,180.68 L281.0,180.38 L280.0,180.08 L279.0,179.79 L278.0,179.49 L277.0,179.20 L276.0,178.91 L275.0,178.62 L274.0,178.33 L273.0,178.04 L272.0,177.76 L271.0,177.47 L270.0,177.19 L269.0,176.91 L268.0,176.63 L267.0,176.36 L266.0,176.08 L265.0,175.81 L264.0,175.53 L263.0,175.26 L262.0,174.99 L261.0,174.73 L260.0,174.46 L259.0,174.19 L258.0,173.93 L257.0,173.67 L256.0,173.41 L255.0,173.15 L254.0,172.89 L253.0,172.63 L252.0,172.37 L251.0,172.12 L250.0,171.87 L249.0,171.61 L248.0,171.36 L247.0,171.11 L246.0,170.86 L245.0,170.61 L244.0,170.37 L243.0,170.12 L242.0,169.88 L241.0,169.63 L240.0,169.39 L239.0,169.15 L238.0,168.91 L237.0,168.67 L236.0,168.43 L235.0,168.19 L234.0,167.95 L233.0,167.71 L232.0,167.47 L231.0,167.24 L230.0,167.00 L229.0,166.77 L228.0,166.53 L227.0,166.30 L226.0,166.07 L225.0,165.83 L224.0,165.60 L223.0,165.37 L222.0,165.14 L221.0,164.91 L220.0,164.68 L219.0,164.45 L218.0,164.21 L217.0,163.98 L216.0,163.75 L215.0,163.52 L214.0,163.29 L213.0,163.07 L212.0,162.84 L211.0,162.61 L210.0,162.38 L209.0,162.15 L208.0,161.92 L207.0,161.69 L206.0,161.46 L205.0,161.23 L204.0,161.00 L203.0,160.77 L202.0,160.54 L201.0,160.31 L200.0,160.08 L199.0,159.84 L198.0,159.61 L197.0,159.38 L196.0,159.15 L195.0,158.92 L194.0,158.68 L193.0,158.45 L192.0,158.22 L191.0,157.98 L190.0,157.75 L189.0,157.51 L188.0,157.28 L187.0,157.04 L186.0,156.80 L185.0,156.57 L184.0,156.33 L183.0,156.09 L182.0,155.85 L181.0,155.61 L180.0,155.37 L179.0,155.13 L178.0,154.89 L177.0,154.65 L176.0,154.40 L175.0,154.16 L174.0,153.91 L173.0,153.67 L172.0,153.42 L171.0,153.18 L170.0,152.93 L169.0,152.68 L168.0,152.43 L167.0,152.18 L166.0,151.93 L165.0,151.68 L164.0,151.43 L163.0,151.17 L162.0,150.92 L161.0,150.67 L160.0,150.41 L159.0,150.15 L158.0,149.90 L157.0,149.64 L156.0,149.38 L155.0,149.12 L154.0,148.86 L153.0,148.60 L152.0,148.34 L151.0,148.07 L150.0,147.81 L149.0,147.54 L148.0,147.28 L147.0,147.01 L146.0,146.74 L145.0,146.48 L144.0,146.21 L143.0,145.94 L142.0,145.67 L141.0,145.40 L140.0,145.12 L139.0,144.85 L138.0,144.58 L137.0,144.30 L136.0,144.03 L135.0,143.75 L134.0,143.47 L133.0,143.20 L132.0,142.92 L131.0,142.64 L130.0,142.36 L129.0,142.08 L128.0,141.80 L127.0,141.51 L126.0,141.23 L125.0,140.95 L124.0,140.66 L123.0,140.38 L122.0,140.09 L121.0,139.80 L120.0,139.52 L119.0,139.23 L118.0,138.94 L117.0,138.65 L116.0,138.36 L115.0,138.07 L114.0,137.78 L113.0,137.49 L112.0,137.20 L111.0,136.90 L110.0,136.61 L109.0,136.31 L108.0,136.02 L107.0,135.72 L106.0,135.43 L105.0,135.13 L104.0,134.83 L103.0,134.53 L102.0,134.24 L101.0,133.94 L100.0,133.64 L99.0,133.34 L98.0,133.04 L97.0,132.73 L96.0,132.43 L95.0,132.13 L94.0,131.82 L93.0,131.52 L92.0,131.21 L91.0,130.91 L90.0,130.60 L89.0,130.30 L88.0,129.99 L87.0,129.68 L86.0,129.37 L85.0,129.06 L84.0,128.75 L83.0,128.44 L82.0,128.13 L81.0,127.81 L80.0,127.50 L79.0,127.19 L78.0,126.87 L77.0,126.56 L76.0,126.24 L75.0,125.92 L74.0,125.60 L73.0,125.28 L72.0,124.96 L71.0,124.64 L70.0,124.32 L69.0,123.99 L68.0,123.67 L67.0,123.34 L66.0,123.01 L65.0,122.68 L64.0,122.35 L63.0,122.02 L62.0,121.69 L61.0,121.36 L60.0,121.02 L59.0,120.68 L58.0,120.34 L57.0,120.00 L56.0,119.66 L55.0,119.31 L54.0,118.97 L53.0,118.62 L52.0,118.27 L51.0,117.92 Z" fill="url(#hatchC)" clip-path="url(#cLuc)"/>
<path d="M51.0,56.48 L52.0,57.09 L53.0,57.70 L54.0,58.31 L55.0,58.92 L56.0,59.53 L57.0,60.14 L58.0,60.75 L59.0,61.36 L60.0,61.97 L61.0,62.57 L62.0,63.18 L63.0,63.79 L64.0,64.39 L65.0,64.99 L66.0,65.60 L67.0,66.20 L68.0,66.80 L69.0,67.40 L70.0,67.99 L71.0,68.59 L72.0,69.19 L73.0,69.78 L74.0,70.37 L75.0,70.96 L76.0,71.55 L77.0,72.14 L78.0,72.73 L79.0,73.31 L80.0,73.90 L81.0,74.48 L82.0,75.06 L83.0,75.64 L84.0,76.21 L85.0,76.79 L86.0,77.36 L87.0,77.93 L88.0,78.50 L89.0,79.07 L90.0,79.64 L91.0,80.20 L92.0,80.76 L93.0,81.32 L94.0,81.88 L95.0,82.43 L96.0,82.99 L97.0,83.54 L98.0,84.09 L99.0,84.63 L100.0,85.18 L101.0,85.72 L102.0,86.26 L103.0,86.80 L104.0,87.34 L105.0,87.87 L106.0,88.40 L107.0,88.93 L108.0,89.46 L109.0,89.99 L110.0,90.51 L111.0,91.03 L112.0,91.55 L113.0,92.07 L114.0,92.58 L115.0,93.09 L116.0,93.60 L117.0,94.11 L118.0,94.61 L119.0,95.12 L120.0,95.62 L121.0,96.11 L122.0,96.61 L123.0,97.10 L124.0,97.60 L125.0,98.08 L126.0,98.57 L127.0,99.06 L128.0,99.54 L129.0,100.02 L130.0,100.50 L131.0,100.97 L132.0,101.45 L133.0,101.92 L134.0,102.39 L135.0,102.86 L136.0,103.32 L137.0,103.79 L138.0,104.25 L139.0,104.71 L140.0,105.17 L141.0,105.62 L142.0,106.08 L143.0,106.53 L144.0,106.98 L145.0,107.43 L146.0,107.87 L147.0,108.32 L148.0,108.76 L149.0,109.20 L150.0,109.64 L151.0,110.08 L152.0,110.52 L153.0,110.95 L154.0,111.38 L155.0,111.82 L156.0,112.25 L157.0,112.68 L158.0,113.10 L159.0,113.53 L160.0,113.95 L161.0,114.38 L162.0,114.80 L163.0,115.22 L164.0,115.64 L165.0,116.06 L166.0,116.48 L167.0,116.90 L168.0,117.31 L169.0,117.73 L170.0,118.14 L171.0,118.56 L172.0,118.97 L173.0,119.38 L174.0,119.80 L175.0,120.21 L176.0,120.62 L177.0,121.03 L178.0,121.44 L179.0,121.85 L180.0,122.26 L181.0,122.66 L182.0,123.07 L183.0,123.48 L184.0,123.89 L185.0,124.30 L186.0,124.70 L187.0,125.11 L188.0,125.52 L189.0,125.93 L190.0,126.34 L191.0,126.75 L192.0,127.15 L193.0,127.56 L194.0,127.97 L195.0,128.38 L196.0,128.79 L197.0,129.21 L198.0,129.62 L199.0,130.03 L200.0,130.44 L201.0,130.86 L202.0,131.27 L203.0,131.69 L204.0,132.10 L205.0,132.52 L206.0,132.94 L207.0,133.36 L208.0,133.78 L209.0,134.20 L210.0,134.62 L211.0,135.05 L212.0,135.47 L213.0,135.90 L214.0,136.33 L215.0,136.76 L216.0,137.19 L217.0,137.62 L218.0,138.06 L219.0,138.49 L220.0,138.93 L221.0,139.37 L222.0,139.81 L223.0,140.25 L224.0,140.70 L225.0,141.14 L226.0,141.59 L227.0,142.04 L228.0,142.49 L229.0,142.95 L230.0,143.40 L231.0,143.86 L232.0,144.32 L233.0,144.78 L234.0,145.25 L235.0,145.71 L236.0,146.18 L237.0,146.65 L238.0,147.12 L239.0,147.60 L240.0,148.08 L241.0,148.55 L242.0,149.04 L243.0,149.52 L244.0,150.01 L245.0,150.49 L246.0,150.98 L247.0,151.48 L248.0,151.97 L249.0,152.47 L250.0,152.97 L251.0,153.47 L252.0,153.97 L253.0,154.48 L254.0,154.99 L255.0,155.50 L256.0,156.01 L257.0,156.53 L258.0,157.04 L259.0,157.56 L260.0,158.08 L261.0,158.61 L262.0,159.13 L263.0,159.66 L264.0,160.19 L265.0,160.72 L266.0,161.25 L267.0,161.78 L268.0,162.32 L269.0,162.86 L270.0,163.40 L271.0,163.94 L272.0,164.48 L273.0,165.02 L274.0,165.57 L275.0,166.11 L276.0,166.66 L277.0,167.21 L278.0,167.76 L279.0,168.31 L280.0,168.86 L281.0,169.41 L282.0,169.96 L283.0,170.52 L284.0,171.07 L285.0,171.62 L286.0,172.18 L287.0,172.73 L288.0,173.28 L289.0,173.84 L290.0,174.39 L291.0,174.94 L292.0,175.49 L293.0,176.04 L294.0,176.59 L295.0,177.14 L296.0,177.69 L297.0,178.23 L298.0,178.78 L299.0,179.32 L300.0,179.86 L301.0,180.40 L302.0,180.93 L303.0,181.47 L304.0,182.00 L305.0,182.52 L306.0,183.05 L307.0,183.57 L308.0,184.09 L309.0,184.60 L310.0,185.11 L311.0,185.61 L312.0,186.11 L313.0,186.61 L314.0,187.10 L315.0,187.58 L316.0,188.06 L317.0,188.53 L318.0,189.00 L319.0,189.46 L320.0,189.91 L321.0,190.36 L322.0,190.79 L323.0,191.23 L324.0,191.65 L325.0,192.06 L326.0,192.47 L327.0,192.86 L328.0,193.25 L329.0,193.63 L330.0,193.99 L331.0,194.35 L332.0,194.69 L333.0,195.03 L334.0,195.35 L335.0,195.66" fill="none" stroke="#1010ff" stroke-width="0.9"/>
<path d="M51.0,117.92 L52.0,118.27 L53.0,118.62 L54.0,118.97 L55.0,119.31 L56.0,119.66 L57.0,120.00 L58.0,120.34 L59.0,120.68 L60.0,121.02 L61.0,121.36 L62.0,121.69 L63.0,122.02 L64.0,122.35 L65.0,122.68 L66.0,123.01 L67.0,123.34 L68.0,123.67 L69.0,123.99 L70.0,124.32 L71.0,124.64 L72.0,124.96 L73.0,125.28 L74.0,125.60 L75.0,125.92 L76.0,126.24 L77.0,126.56 L78.0,126.87 L79.0,127.19 L80.0,127.50 L81.0,127.81 L82.0,128.13 L83.0,128.44 L84.0,128.75 L85.0,129.06 L86.0,129.37 L87.0,129.68 L88.0,129.99 L89.0,130.30 L90.0,130.60 L91.0,130.91 L92.0,131.21 L93.0,131.52 L94.0,131.82 L95.0,132.13 L96.0,132.43 L97.0,132.73 L98.0,133.04 L99.0,133.34 L100.0,133.64 L101.0,133.94 L102.0,134.24 L103.0,134.53 L104.0,134.83 L105.0,135.13 L106.0,135.43 L107.0,135.72 L108.0,136.02 L109.0,136.31 L110.0,136.61 L111.0,136.90 L112.0,137.20 L113.0,137.49 L114.0,137.78 L115.0,138.07 L116.0,138.36 L117.0,138.65 L118.0,138.94 L119.0,139.23 L120.0,139.52 L121.0,139.80 L122.0,140.09 L123.0,140.38 L124.0,140.66 L125.0,140.95 L126.0,141.23 L127.0,141.51 L128.0,141.80 L129.0,142.08 L130.0,142.36 L131.0,142.64 L132.0,142.92 L133.0,143.20 L134.0,143.47 L135.0,143.75 L136.0,144.03 L137.0,144.30 L138.0,144.58 L139.0,144.85 L140.0,145.12 L141.0,145.40 L142.0,145.67 L143.0,145.94 L144.0,146.21 L145.0,146.48 L146.0,146.74 L147.0,147.01 L148.0,147.28 L149.0,147.54 L150.0,147.81 L151.0,148.07 L152.0,148.34 L153.0,148.60 L154.0,148.86 L155.0,149.12 L156.0,149.38 L157.0,149.64 L158.0,149.90 L159.0,150.15 L160.0,150.41 L161.0,150.67 L162.0,150.92 L163.0,151.17 L164.0,151.43 L165.0,151.68 L166.0,151.93 L167.0,152.18 L168.0,152.43 L169.0,152.68 L170.0,152.93 L171.0,153.18 L172.0,153.42 L173.0,153.67 L174.0,153.91 L175.0,154.16 L176.0,154.40 L177.0,154.65 L178.0,154.89 L179.0,155.13 L180.0,155.37 L181.0,155.61 L182.0,155.85 L183.0,156.09 L184.0,156.33 L185.0,156.57 L186.0,156.80 L187.0,157.04 L188.0,157.28 L189.0,157.51 L190.0,157.75 L191.0,157.98 L192.0,158.22 L193.0,158.45 L194.0,158.68 L195.0,158.92 L196.0,159.15 L197.0,159.38 L198.0,159.61 L199.0,159.84 L200.0,160.08 L201.0,160.31 L202.0,160.54 L203.0,160.77 L204.0,161.00 L205.0,161.23 L206.0,161.46 L207.0,161.69 L208.0,161.92 L209.0,162.15 L210.0,162.38 L211.0,162.61 L212.0,162.84 L213.0,163.07 L214.0,163.29 L215.0,163.52 L216.0,163.75 L217.0,163.98 L218.0,164.21 L219.0,164.45 L220.0,164.68 L221.0,164.91 L222.0,165.14 L223.0,165.37 L224.0,165.60 L225.0,165.83 L226.0,166.07 L227.0,166.30 L228.0,166.53 L229.0,166.77 L230.0,167.00 L231.0,167.24 L232.0,167.47 L233.0,167.71 L234.0,167.95 L235.0,168.19 L236.0,168.43 L237.0,168.67 L238.0,168.91 L239.0,169.15 L240.0,169.39 L241.0,169.63 L242.0,169.88 L243.0,170.12 L244.0,170.37 L245.0,170.61 L246.0,170.86 L247.0,171.11 L248.0,171.36 L249.0,171.61 L250.0,171.87 L251.0,172.12 L252.0,172.37 L253.0,172.63 L254.0,172.89 L255.0,173.15 L256.0,173.41 L257.0,173.67 L258.0,173.93 L259.0,174.19 L260.0,174.46 L261.0,174.73 L262.0,174.99 L263.0,175.26 L264.0,175.53 L265.0,175.81 L266.0,176.08 L267.0,176.36 L268.0,176.63 L269.0,176.91 L270.0,177.19 L271.0,177.47 L272.0,177.76 L273.0,178.04 L274.0,178.33 L275.0,178.62 L276.0,178.91 L277.0,179.20 L278.0,179.49 L279.0,179.79 L280.0,180.08 L281.0,180.38 L282.0,180.68 L283.0,180.98 L284.0,181.28 L285.0,181.59 L286.0,181.89 L287.0,182.20 L288.0,182.51 L289.0,182.82 L290.0,183.13 L291.0,183.44 L292.0,183.75 L293.0,184.07 L294.0,184.39 L295.0,184.70 L296.0,185.02 L297.0,185.35 L298.0,185.67 L299.0,185.99 L300.0,186.31 L301.0,186.64 L302.0,186.97 L303.0,187.29 L304.0,187.62 L305.0,187.95 L306.0,188.28 L307.0,188.61 L308.0,188.95 L309.0,189.28 L310.0,189.61 L311.0,189.94 L312.0,190.28 L313.0,190.61 L314.0,190.95 L315.0,191.28 L316.0,191.62 L317.0,191.95 L318.0,192.28 L319.0,192.62 L320.0,192.95 L321.0,193.29 L322.0,193.62 L323.0,193.95 L324.0,194.28 L325.0,194.62 L326.0,194.95 L327.0,195.27 L328.0,195.60 L329.0,195.93 L330.0,196.25 L331.0,196.58 L332.0,196.90 L333.0,197.22 L334.0,197.53 L335.0,197.85" fill="none" stroke="#1010ff" stroke-width="0.9"/>
</g>
<clipPath id="cLlc"><path d="M51.5,212.60 L52.5,213.67 L53.5,214.80 L54.5,215.62 L55.5,215.87 L56.5,216.00 L57.5,216.09 L58.5,216.15 L59.5,216.19 L60.5,216.21 L61.5,216.22 L62.5,216.23 L63.5,216.25 L64.5,216.26 L65.5,216.27 L66.5,216.28 L67.5,216.29 L68.5,216.30 L69.5,216.31 L70.5,216.32 L71.5,216.33 L72.5,216.34 L73.5,216.35 L74.5,216.36 L75.5,216.37 L76.5,216.38 L77.5,216.39 L78.5,216.39 L79.5,216.40 L80.5,216.41 L81.5,216.41 L82.5,216.42 L83.5,216.43 L84.5,216.43 L85.5,216.44 L86.5,216.44 L87.5,216.45 L88.5,216.45 L89.5,216.46 L90.5,216.46 L91.5,216.47 L92.5,216.47 L93.5,216.48 L94.5,216.48 L95.5,216.48 L96.5,216.49 L97.5,216.49 L98.5,216.49 L99.5,216.50 L100.5,216.50 L101.5,216.50 L102.5,216.51 L103.5,216.51 L104.5,216.51 L105.5,216.52 L106.5,216.52 L107.5,216.52 L108.5,216.52 L109.5,216.53 L110.5,216.53 L111.5,216.53 L112.5,216.53 L113.5,216.54 L114.5,216.54 L115.5,216.54 L116.5,216.54 L117.5,216.55 L118.5,216.55 L119.5,216.55 L120.5,216.55 L121.5,216.56 L122.5,216.56 L123.5,216.56 L124.5,216.57 L125.5,216.57 L126.5,216.57 L127.5,216.58 L128.5,216.58 L129.5,216.58 L130.5,216.59 L131.5,216.59 L132.5,216.59 L133.5,216.60 L134.5,216.60 L135.5,216.61 L136.5,216.61 L137.5,216.62 L138.5,216.62 L139.5,216.63 L140.5,216.63 L141.5,216.64 L142.5,216.65 L143.5,216.65 L144.5,216.66 L145.5,216.67 L146.5,216.67 L147.5,216.68 L148.5,216.69 L149.5,216.70 L150.5,216.70 L151.5,216.71 L152.5,216.72 L153.5,216.73 L154.5,216.74 L155.5,216.75 L156.5,216.76 L157.5,216.77 L158.5,216.78 L159.5,216.79 L160.5,216.80 L161.5,216.81 L162.5,216.82 L163.5,216.83 L164.5,216.84 L165.5,216.85 L166.5,216.86 L167.5,216.88 L168.5,216.89 L169.5,216.90 L170.5,216.91 L171.5,216.93 L172.5,216.94 L173.5,216.95 L174.5,216.97 L175.5,216.98 L176.5,217.00 L177.5,217.01 L178.5,217.03 L179.5,217.04 L180.5,217.06 L181.5,217.07 L182.5,217.09 L183.5,217.11 L184.5,217.12 L185.5,217.14 L186.5,217.16 L187.5,217.18 L188.5,217.20 L189.5,217.21 L190.5,217.23 L191.5,217.25 L192.5,217.27 L193.5,217.29 L194.5,217.31 L195.5,217.34 L196.5,217.36 L197.5,217.39 L198.5,217.42 L199.5,217.45 L200.5,217.48 L201.5,217.51 L202.5,217.54 L203.5,217.58 L204.5,217.61 L205.5,217.65 L206.5,217.69 L207.5,217.73 L208.5,217.77 L209.5,217.81 L210.5,217.85 L211.5,217.89 L212.5,217.93 L213.5,217.98 L214.5,218.02 L215.5,218.06 L216.5,218.11 L217.5,218.15 L218.5,218.20 L219.5,218.24 L220.5,218.29 L221.5,218.33 L222.5,218.38 L223.5,218.42 L224.5,218.47 L225.5,218.51 L226.5,218.56 L227.5,218.60 L228.5,218.65 L229.5,218.70 L230.5,218.74 L231.5,218.79 L232.5,218.84 L233.5,218.89 L234.5,218.94 L235.5,218.99 L236.5,219.04 L237.5,219.10 L238.5,219.15 L239.5,219.21 L240.5,219.27 L241.5,219.33 L242.5,219.39 L243.5,219.45 L244.5,219.51 L245.5,219.58 L246.5,219.65 L247.5,219.72 L248.5,219.79 L249.5,219.86 L250.5,219.94 L251.5,220.03 L252.5,220.12 L253.5,220.23 L254.5,220.34 L255.5,220.46 L256.5,220.58 L257.5,220.71 L258.5,220.84 L259.5,220.97 L260.5,221.10 L261.5,221.23 L262.5,221.36 L263.5,221.49 L264.5,221.61 L265.5,221.73 L266.5,221.84 L267.5,221.94 L268.5,222.04 L269.5,222.13 L270.5,222.21 L271.5,222.31 L272.5,222.40 L273.5,222.49 L274.5,222.58 L275.5,222.67 L276.5,222.75 L277.5,222.83 L278.5,222.90 L279.5,222.97 L280.5,223.02 L281.5,223.06 L282.5,223.09 L283.5,223.10 L284.5,223.10 L285.5,223.09 L286.5,223.06 L287.5,223.03 L288.5,222.99 L289.5,222.94 L290.5,222.88 L291.5,222.81 L292.5,222.73 L293.5,222.64 L294.5,222.55 L295.5,222.44 L296.5,222.33 L297.5,222.21 L298.5,222.09 L299.5,221.87 L300.5,221.54 L301.5,221.13 L302.5,220.68 L303.5,220.21 L304.5,219.77 L305.5,219.33 L306.5,218.86 L307.5,218.35 L308.5,217.76 L309.5,217.07 L310.5,216.26 L311.5,215.34 L312.5,214.33 L313.5,213.23 L314.5,211.95 L315.5,210.52 L316.5,209.00 L317.5,207.43 L318.5,205.74 L319.5,203.77 L320.5,201.14 L321.5,198.00 L322.5,195.32 L323.0,194.00 L330.0,150.00 L340.0,150.00 L340.0,340.00 L328.5,298.00 L327.5,294.51 L326.5,291.75 L325.5,289.47 L324.5,287.62 L323.5,286.05 L322.5,284.68 L321.5,283.44 L320.5,282.29 L319.5,281.22 L318.5,280.22 L317.5,279.30 L316.5,278.46 L315.5,277.68 L314.5,276.94 L313.5,276.25 L312.5,275.60 L311.5,275.00 L310.5,274.45 L309.5,273.96 L308.5,273.49 L307.5,273.05 L306.5,272.64 L305.5,272.28 L304.5,271.98 L303.5,271.73 L302.5,271.50 L301.5,271.30 L300.5,271.12 L299.5,270.96 L298.5,270.81 L297.5,270.67 L296.5,270.53 L295.5,270.39 L294.5,270.24 L293.5,270.11 L292.5,269.97 L291.5,269.84 L290.5,269.73 L289.5,269.62 L288.5,269.52 L287.5,269.44 L286.5,269.38 L285.5,269.33 L284.5,269.31 L283.5,269.30 L282.5,269.31 L281.5,269.33 L280.5,269.35 L279.5,269.39 L278.5,269.43 L277.5,269.47 L276.5,269.52 L275.5,269.58 L274.5,269.64 L273.5,269.71 L272.5,269.77 L271.5,269.84 L270.5,269.91 L269.5,269.98 L268.5,270.05 L267.5,270.14 L266.5,270.25 L265.5,270.36 L264.5,270.49 L263.5,270.63 L262.5,270.77 L261.5,270.93 L260.5,271.08 L259.5,271.24 L258.5,271.40 L257.5,271.55 L256.5,271.71 L255.5,271.86 L254.5,272.00 L253.5,272.13 L252.5,272.25 L251.5,272.36 L250.5,272.46 L249.5,272.54 L248.5,272.62 L247.5,272.69 L246.5,272.77 L245.5,272.84 L244.5,272.91 L243.5,272.97 L242.5,273.04 L241.5,273.10 L240.5,273.16 L239.5,273.22 L238.5,273.28 L237.5,273.34 L236.5,273.39 L235.5,273.45 L234.5,273.50 L233.5,273.55 L232.5,273.60 L231.5,273.65 L230.5,273.69 L229.5,273.74 L228.5,273.78 L227.5,273.82 L226.5,273.86 L225.5,273.90 L224.5,273.94 L223.5,273.98 L222.5,274.02 L221.5,274.06 L220.5,274.09 L219.5,274.13 L218.5,274.16 L217.5,274.20 L216.5,274.23 L215.5,274.27 L214.5,274.30 L213.5,274.33 L212.5,274.37 L211.5,274.40 L210.5,274.43 L209.5,274.46 L208.5,274.49 L207.5,274.52 L206.5,274.55 L205.5,274.57 L204.5,274.60 L203.5,274.62 L202.5,274.65 L201.5,274.67 L200.5,274.69 L199.5,274.71 L198.5,274.73 L197.5,274.75 L196.5,274.76 L195.5,274.78 L194.5,274.79 L193.5,274.80 L192.5,274.81 L191.5,274.83 L190.5,274.84 L189.5,274.85 L188.5,274.86 L187.5,274.87 L186.5,274.88 L185.5,274.89 L184.5,274.90 L183.5,274.91 L182.5,274.92 L181.5,274.93 L180.5,274.94 L179.5,274.95 L178.5,274.96 L177.5,274.97 L176.5,274.98 L175.5,274.98 L174.5,274.99 L173.5,275.00 L172.5,275.01 L171.5,275.02 L170.5,275.02 L169.5,275.03 L168.5,275.04 L167.5,275.04 L166.5,275.05 L165.5,275.05 L164.5,275.06 L163.5,275.06 L162.5,275.07 L161.5,275.07 L160.5,275.08 L159.5,275.08 L158.5,275.09 L157.5,275.09 L156.5,275.09 L155.5,275.09 L154.5,275.10 L153.5,275.10 L152.5,275.10 L151.5,275.10 L150.5,275.10 L149.5,275.10 L148.5,275.10 L147.5,275.10 L146.5,275.10 L145.5,275.10 L144.5,275.10 L143.5,275.10 L142.5,275.09 L141.5,275.09 L140.5,275.09 L139.5,275.09 L138.5,275.09 L137.5,275.08 L136.5,275.08 L135.5,275.08 L134.5,275.08 L133.5,275.07 L132.5,275.07 L131.5,275.07 L130.5,275.06 L129.5,275.06 L128.5,275.06 L127.5,275.05 L126.5,275.05 L125.5,275.05 L124.5,275.04 L123.5,275.04 L122.5,275.03 L121.5,275.03 L120.5,275.02 L119.5,275.02 L118.5,275.02 L117.5,275.01 L116.5,275.01 L115.5,275.00 L114.5,275.00 L113.5,274.99 L112.5,274.99 L111.5,274.98 L110.5,274.98 L109.5,274.97 L108.5,274.97 L107.5,274.96 L106.5,274.96 L105.5,274.95 L104.5,274.95 L103.5,274.94 L102.5,274.94 L101.5,274.93 L100.5,274.93 L99.5,274.92 L98.5,274.92 L97.5,274.91 L96.5,274.91 L95.5,274.90 L94.5,274.90 L93.5,274.89 L92.5,274.89 L91.5,274.88 L90.5,274.88 L89.5,274.88 L88.5,274.87 L87.5,274.87 L86.5,274.86 L85.5,274.86 L84.5,274.85 L83.5,274.85 L82.5,274.85 L81.5,274.84 L80.5,274.84 L79.5,274.84 L78.5,274.83 L77.5,274.83 L76.5,274.83 L75.5,274.82 L74.5,274.82 L73.5,274.82 L72.5,274.82 L71.5,274.81 L70.5,274.81 L69.5,274.81 L68.5,274.81 L67.5,274.81 L66.5,274.80 L65.5,274.80 L64.5,274.80 L63.5,274.80 L62.5,274.80 L61.5,274.80 L60.5,274.80 L59.5,274.80 L58.5,274.81 L57.5,274.82 L56.5,274.85 L55.5,274.89 L54.5,274.94 L53.5,275.00 L52.5,276.14 L51.5,278.00 Z"/></clipPath>
<g clip-path="url(#cLl)">
<path d="M51.5,203.10 L52.5,204.44 L53.5,205.76 L54.5,206.30 L55.5,206.34 L56.5,206.36 L57.5,206.38 L58.5,206.39 L59.5,206.40 L60.5,206.40 L61.5,206.40 L62.5,206.41 L63.5,206.41 L64.5,206.41 L65.5,206.41 L66.5,206.42 L67.5,206.42 L68.5,206.42 L69.5,206.42 L70.5,206.42 L71.5,206.43 L72.5,206.43 L73.5,206.43 L74.5,206.43 L75.5,206.43 L76.5,206.43 L77.5,206.44 L78.5,206.44 L79.5,206.44 L80.5,206.44 L81.5,206.44 L82.5,206.44 L83.5,206.44 L84.5,206.44 L85.5,206.44 L86.5,206.44 L87.5,206.45 L88.5,206.45 L89.5,206.45 L90.5,206.45 L91.5,206.45 L92.5,206.45 L93.5,206.45 L94.5,206.45 L95.5,206.45 L96.5,206.45 L97.5,206.45 L98.5,206.45 L99.5,206.45 L100.5,206.45 L101.5,206.45 L102.5,206.45 L103.5,206.45 L104.5,206.45 L105.5,206.45 L106.5,206.45 L107.5,206.46 L108.5,206.46 L109.5,206.46 L110.5,206.46 L111.5,206.46 L112.5,206.46 L113.5,206.46 L114.5,206.46 L115.5,206.46 L116.5,206.46 L117.5,206.46 L118.5,206.46 L119.5,206.46 L120.5,206.46 L121.5,206.46 L122.5,206.46 L123.5,206.46 L124.5,206.46 L125.5,206.46 L126.5,206.46 L127.5,206.47 L128.5,206.47 L129.5,206.47 L130.5,206.47 L131.5,206.47 L132.5,206.47 L133.5,206.47 L134.5,206.47 L135.5,206.47 L136.5,206.47 L137.5,206.48 L138.5,206.48 L139.5,206.48 L140.5,206.48 L141.5,206.48 L142.5,206.48 L143.5,206.49 L144.5,206.49 L145.5,206.49 L146.5,206.49 L147.5,206.49 L148.5,206.50 L149.5,206.50 L150.5,206.50 L151.5,206.51 L152.5,206.51 L153.5,206.52 L154.5,206.53 L155.5,206.54 L156.5,206.55 L157.5,206.56 L158.5,206.57 L159.5,206.59 L160.5,206.60 L161.5,206.62 L162.5,206.64 L163.5,206.66 L164.5,206.68 L165.5,206.70 L166.5,206.72 L167.5,206.74 L168.5,206.76 L169.5,206.78 L170.5,206.80 L171.5,206.83 L172.5,206.85 L173.5,206.87 L174.5,206.89 L175.5,206.92 L176.5,206.94 L177.5,206.96 L178.5,206.98 L179.5,207.01 L180.5,207.03 L181.5,207.05 L182.5,207.08 L183.5,207.10 L184.5,207.13 L185.5,207.15 L186.5,207.18 L187.5,207.21 L188.5,207.24 L189.5,207.26 L190.5,207.29 L191.5,207.32 L192.5,207.35 L193.5,207.39 L194.5,207.42 L195.5,207.45 L196.5,207.48 L197.5,207.51 L198.5,207.55 L199.5,207.58 L200.5,207.62 L201.5,207.65 L202.5,207.69 L203.5,207.72 L204.5,207.76 L205.5,207.79 L206.5,207.83 L207.5,207.87 L208.5,207.90 L209.5,207.94 L210.5,207.98 L211.5,208.02 L212.5,208.06 L213.5,208.10 L214.5,208.14 L215.5,208.18 L216.5,208.22 L217.5,208.26 L218.5,208.31 L219.5,208.35 L220.5,208.40 L221.5,208.44 L222.5,208.49 L223.5,208.54 L224.5,208.59 L225.5,208.64 L226.5,208.69 L227.5,208.74 L228.5,208.80 L229.5,208.85 L230.5,208.91 L231.5,208.97 L232.5,209.03 L233.5,209.09 L234.5,209.15 L235.5,209.22 L236.5,209.28 L237.5,209.35 L238.5,209.42 L239.5,209.49 L240.5,209.57 L241.5,209.64 L242.5,209.72 L243.5,209.80 L244.5,209.89 L245.5,209.97 L246.5,210.06 L247.5,210.16 L248.5,210.25 L249.5,210.35 L250.5,210.45 L251.5,210.56 L252.5,210.68 L253.5,210.81 L254.5,210.94 L255.5,211.08 L256.5,211.23 L257.5,211.38 L258.5,211.53 L259.5,211.69 L260.5,211.85 L261.5,212.02 L262.5,212.18 L263.5,212.35 L264.5,212.52 L265.5,212.69 L266.5,212.86 L267.5,213.02 L268.5,213.19 L269.5,213.35 L270.5,213.51 L271.5,213.68 L272.5,213.84 L273.5,214.01 L274.5,214.18 L275.5,214.35 L276.5,214.53 L277.5,214.70 L278.5,214.87 L279.5,215.05 L280.5,215.22 L281.5,215.40 L282.5,215.57 L283.5,215.75 L284.5,215.92 L285.5,216.10 L286.5,216.28 L287.5,216.46 L288.5,216.64 L289.5,216.82 L290.5,217.00 L291.5,217.18 L292.5,217.36 L293.5,217.54 L294.5,217.72 L295.5,217.90 L296.5,218.07 L297.5,218.25 L298.5,218.42 L299.5,218.61 L300.5,218.82 L301.5,219.04 L302.5,219.24 L303.5,219.42 L304.5,219.54 L305.5,219.60 L306.5,219.60 L307.5,219.60 L308.5,219.60 L309.5,219.60 L310.5,219.60 L311.5,219.60 L312.5,219.60 L313.5,219.59 L314.5,219.53 L315.5,219.42 L316.5,219.27 L317.5,219.08 L318.5,218.85 L319.5,218.61 L320.5,218.34 L321.5,217.96 L322.5,217.44 L323.5,216.80 L324.5,216.07 L325.5,215.29 L326.5,214.46 L327.5,213.50 L328.5,212.39 L329.5,211.13 L330.5,209.70 L331.5,208.04 L332.5,206.01 L333.5,203.52 L334.5,199.96 L335.5,196.02 L336.0,194.00 L336.0,290.50 L335.5,289.67 L334.5,288.09 L333.5,286.60 L332.5,285.16 L331.5,283.85 L330.5,282.70 L329.5,281.71 L328.5,280.80 L327.5,279.97 L326.5,279.19 L325.5,278.44 L324.5,277.68 L323.5,276.91 L322.5,276.11 L321.5,275.36 L320.5,274.71 L319.5,274.17 L318.5,273.67 L317.5,273.24 L316.5,272.94 L315.5,272.76 L314.5,272.62 L313.5,272.50 L312.5,272.40 L311.5,272.31 L310.5,272.24 L309.5,272.16 L308.5,272.09 L307.5,272.02 L306.5,271.97 L305.5,271.92 L304.5,271.90 L303.5,271.93 L302.5,272.07 L301.5,272.28 L300.5,272.53 L299.5,272.78 L298.5,272.98 L297.5,273.15 L296.5,273.31 L295.5,273.46 L294.5,273.61 L293.5,273.75 L292.5,273.89 L291.5,274.03 L290.5,274.17 L289.5,274.30 L288.5,274.44 L287.5,274.58 L286.5,274.72 L285.5,274.86 L284.5,275.00 L283.5,275.14 L282.5,275.29 L281.5,275.44 L280.5,275.60 L279.5,275.75 L278.5,275.90 L277.5,276.06 L276.5,276.21 L275.5,276.37 L274.5,276.52 L273.5,276.67 L272.5,276.82 L271.5,276.97 L270.5,277.12 L269.5,277.26 L268.5,277.40 L267.5,277.54 L266.5,277.69 L265.5,277.83 L264.5,277.98 L263.5,278.13 L262.5,278.28 L261.5,278.42 L260.5,278.57 L259.5,278.71 L258.5,278.85 L257.5,278.98 L256.5,279.11 L255.5,279.24 L254.5,279.36 L253.5,279.47 L252.5,279.57 L251.5,279.67 L250.5,279.76 L249.5,279.84 L248.5,279.92 L247.5,279.99 L246.5,280.07 L245.5,280.14 L244.5,280.21 L243.5,280.28 L242.5,280.34 L241.5,280.41 L240.5,280.47 L239.5,280.53 L238.5,280.59 L237.5,280.65 L236.5,280.71 L235.5,280.76 L234.5,280.81 L233.5,280.86 L232.5,280.91 L231.5,280.96 L230.5,281.01 L229.5,281.05 L228.5,281.09 L227.5,281.13 L226.5,281.17 L225.5,281.21 L224.5,281.25 L223.5,281.28 L222.5,281.32 L221.5,281.35 L220.5,281.38 L219.5,281.42 L218.5,281.45 L217.5,281.48 L216.5,281.52 L215.5,281.55 L214.5,281.58 L213.5,281.61 L212.5,281.64 L211.5,281.67 L210.5,281.70 L209.5,281.73 L208.5,281.75 L207.5,281.78 L206.5,281.81 L205.5,281.83 L204.5,281.85 L203.5,281.87 L202.5,281.89 L201.5,281.91 L200.5,281.93 L199.5,281.94 L198.5,281.96 L197.5,281.97 L196.5,281.98 L195.5,281.99 L194.5,282.00 L193.5,282.00 L192.5,282.01 L191.5,282.01 L190.5,282.01 L189.5,282.02 L188.5,282.02 L187.5,282.03 L186.5,282.03 L185.5,282.03 L184.5,282.04 L183.5,282.04 L182.5,282.04 L181.5,282.05 L180.5,282.05 L179.5,282.05 L178.5,282.06 L177.5,282.06 L176.5,282.06 L175.5,282.07 L174.5,282.07 L173.5,282.07 L172.5,282.07 L171.5,282.08 L170.5,282.08 L169.5,282.08 L168.5,282.08 L167.5,282.08 L166.5,282.09 L165.5,282.09 L164.5,282.09 L163.5,282.09 L162.5,282.09 L161.5,282.09 L160.5,282.09 L159.5,282.10 L158.5,282.10 L157.5,282.10 L156.5,282.10 L155.5,282.10 L154.5,282.10 L153.5,282.10 L152.5,282.10 L151.5,282.10 L150.5,282.10 L149.5,282.10 L148.5,282.10 L147.5,282.10 L146.5,282.10 L145.5,282.10 L144.5,282.10 L143.5,282.10 L142.5,282.10 L141.5,282.10 L140.5,282.10 L139.5,282.10 L138.5,282.10 L137.5,282.09 L136.5,282.09 L135.5,282.09 L134.5,282.09 L133.5,282.09 L132.5,282.09 L131.5,282.09 L130.5,282.09 L129.5,282.09 L128.5,282.09 L127.5,282.08 L126.5,282.08 L125.5,282.08 L124.5,282.08 L123.5,282.08 L122.5,282.08 L121.5,282.08 L120.5,282.07 L119.5,282.07 L118.5,282.07 L117.5,282.07 L116.5,282.07 L115.5,282.07 L114.5,282.07 L113.5,282.06 L112.5,282.06 L111.5,282.06 L110.5,282.06 L109.5,282.06 L108.5,282.06 L107.5,282.05 L106.5,282.05 L105.5,282.05 L104.5,282.05 L103.5,282.05 L102.5,282.05 L101.5,282.04 L100.5,282.04 L99.5,282.04 L98.5,282.04 L97.5,282.04 L96.5,282.04 L95.5,282.03 L94.5,282.03 L93.5,282.03 L92.5,282.03 L91.5,282.03 L90.5,282.03 L89.5,282.03 L88.5,282.02 L87.5,282.02 L86.5,282.02 L85.5,282.02 L84.5,282.02 L83.5,282.02 L82.5,282.02 L81.5,282.01 L80.5,282.01 L79.5,282.01 L78.5,282.01 L77.5,282.01 L76.5,282.01 L75.5,282.01 L74.5,282.01 L73.5,282.01 L72.5,282.01 L71.5,282.00 L70.5,282.00 L69.5,282.00 L68.5,282.00 L67.5,282.00 L66.5,282.00 L65.5,282.00 L64.5,282.00 L63.5,282.00 L62.5,282.00 L61.5,282.00 L60.5,282.00 L59.5,282.00 L58.5,282.00 L57.5,282.01 L56.5,282.02 L55.5,282.04 L54.5,282.07 L53.5,282.10 L52.5,283.35 L51.5,285.40 Z" fill="url(#hatch)"/>
<path d="M51.5,212.60 L52.5,213.67 L53.5,214.80 L54.5,215.62 L55.5,215.87 L56.5,216.00 L57.5,216.09 L58.5,216.15 L59.5,216.19 L60.5,216.21 L61.5,216.22 L62.5,216.23 L63.5,216.25 L64.5,216.26 L65.5,216.27 L66.5,216.28 L67.5,216.29 L68.5,216.30 L69.5,216.31 L70.5,216.32 L71.5,216.33 L72.5,216.34 L73.5,216.35 L74.5,216.36 L75.5,216.37 L76.5,216.38 L77.5,216.39 L78.5,216.39 L79.5,216.40 L80.5,216.41 L81.5,216.41 L82.5,216.42 L83.5,216.43 L84.5,216.43 L85.5,216.44 L86.5,216.44 L87.5,216.45 L88.5,216.45 L89.5,216.46 L90.5,216.46 L91.5,216.47 L92.5,216.47 L93.5,216.48 L94.5,216.48 L95.5,216.48 L96.5,216.49 L97.5,216.49 L98.5,216.49 L99.5,216.50 L100.5,216.50 L101.5,216.50 L102.5,216.51 L103.5,216.51 L104.5,216.51 L105.5,216.52 L106.5,216.52 L107.5,216.52 L108.5,216.52 L109.5,216.53 L110.5,216.53 L111.5,216.53 L112.5,216.53 L113.5,216.54 L114.5,216.54 L115.5,216.54 L116.5,216.54 L117.5,216.55 L118.5,216.55 L119.5,216.55 L120.5,216.55 L121.5,216.56 L122.5,216.56 L123.5,216.56 L124.5,216.57 L125.5,216.57 L126.5,216.57 L127.5,216.58 L128.5,216.58 L129.5,216.58 L130.5,216.59 L131.5,216.59 L132.5,216.59 L133.5,216.60 L134.5,216.60 L135.5,216.61 L136.5,216.61 L137.5,216.62 L138.5,216.62 L139.5,216.63 L140.5,216.63 L141.5,216.64 L142.5,216.65 L143.5,216.65 L144.5,216.66 L145.5,216.67 L146.5,216.67 L147.5,216.68 L148.5,216.69 L149.5,216.70 L150.5,216.70 L151.5,216.71 L152.5,216.72 L153.5,216.73 L154.5,216.74 L155.5,216.75 L156.5,216.76 L157.5,216.77 L158.5,216.78 L159.5,216.79 L160.5,216.80 L161.5,216.81 L162.5,216.82 L163.5,216.83 L164.5,216.84 L165.5,216.85 L166.5,216.86 L167.5,216.88 L168.5,216.89 L169.5,216.90 L170.5,216.91 L171.5,216.93 L172.5,216.94 L173.5,216.95 L174.5,216.97 L175.5,216.98 L176.5,217.00 L177.5,217.01 L178.5,217.03 L179.5,217.04 L180.5,217.06 L181.5,217.07 L182.5,217.09 L183.5,217.11 L184.5,217.12 L185.5,217.14 L186.5,217.16 L187.5,217.18 L188.5,217.20 L189.5,217.21 L190.5,217.23 L191.5,217.25 L192.5,217.27 L193.5,217.29 L194.5,217.31 L195.5,217.34 L196.5,217.36 L197.5,217.39 L198.5,217.42 L199.5,217.45 L200.5,217.48 L201.5,217.51 L202.5,217.54 L203.5,217.58 L204.5,217.61 L205.5,217.65 L206.5,217.69 L207.5,217.73 L208.5,217.77 L209.5,217.81 L210.5,217.85 L211.5,217.89 L212.5,217.93 L213.5,217.98 L214.5,218.02 L215.5,218.06 L216.5,218.11 L217.5,218.15 L218.5,218.20 L219.5,218.24 L220.5,218.29 L221.5,218.33 L222.5,218.38 L223.5,218.42 L224.5,218.47 L225.5,218.51 L226.5,218.56 L227.5,218.60 L228.5,218.65 L229.5,218.70 L230.5,218.74 L231.5,218.79 L232.5,218.84 L233.5,218.89 L234.5,218.94 L235.5,218.99 L236.5,219.04 L237.5,219.10 L238.5,219.15 L239.5,219.21 L240.5,219.27 L241.5,219.33 L242.5,219.39 L243.5,219.45 L244.5,219.51 L245.5,219.58 L246.5,219.65 L247.5,219.72 L248.5,219.79 L249.5,219.86 L250.5,219.94 L251.5,220.03 L252.5,220.12 L253.5,220.23 L254.5,220.34 L255.5,220.46 L256.5,220.58 L257.5,220.71 L258.5,220.84 L259.5,220.97 L260.5,221.10 L261.5,221.23 L262.5,221.36 L263.5,221.49 L264.5,221.61 L265.5,221.73 L266.5,221.84 L267.5,221.94 L268.5,222.04 L269.5,222.13 L270.5,222.21 L271.5,222.31 L272.5,222.40 L273.5,222.49 L274.5,222.58 L275.5,222.67 L276.5,222.75 L277.5,222.83 L278.5,222.90 L279.5,222.97 L280.5,223.02 L281.5,223.06 L282.5,223.09 L283.5,223.10 L284.5,223.10 L285.5,223.09 L286.5,223.06 L287.5,223.03 L288.5,222.99 L289.5,222.94 L290.5,222.88 L291.5,222.81 L292.5,222.73 L293.5,222.64 L294.5,222.55 L295.5,222.44 L296.5,222.33 L297.5,222.21 L298.5,222.09 L299.5,221.87 L300.5,221.54 L301.5,221.13 L302.5,220.68 L303.5,220.21 L304.5,219.77 L305.5,219.33 L306.5,218.86 L307.5,218.35 L308.5,217.76 L309.5,217.07 L310.5,216.26 L311.5,215.34 L312.5,214.33 L313.5,213.23 L314.5,211.95 L315.5,210.52 L316.5,209.00 L317.5,207.43 L318.5,205.74 L319.5,203.77 L320.5,201.14 L321.5,198.00 L322.5,195.32 L323.0,194.00 L330.0,150.00 L340.0,150.00 L340.0,340.00 L328.5,298.00 L327.5,294.51 L326.5,291.75 L325.5,289.47 L324.5,287.62 L323.5,286.05 L322.5,284.68 L321.5,283.44 L320.5,282.29 L319.5,281.22 L318.5,280.22 L317.5,279.30 L316.5,278.46 L315.5,277.68 L314.5,276.94 L313.5,276.25 L312.5,275.60 L311.5,275.00 L310.5,274.45 L309.5,273.96 L308.5,273.49 L307.5,273.05 L306.5,272.64 L305.5,272.28 L304.5,271.98 L303.5,271.73 L302.5,271.50 L301.5,271.30 L300.5,271.12 L299.5,270.96 L298.5,270.81 L297.5,270.67 L296.5,270.53 L295.5,270.39 L294.5,270.24 L293.5,270.11 L292.5,269.97 L291.5,269.84 L290.5,269.73 L289.5,269.62 L288.5,269.52 L287.5,269.44 L286.5,269.38 L285.5,269.33 L284.5,269.31 L283.5,269.30 L282.5,269.31 L281.5,269.33 L280.5,269.35 L279.5,269.39 L278.5,269.43 L277.5,269.47 L276.5,269.52 L275.5,269.58 L274.5,269.64 L273.5,269.71 L272.5,269.77 L271.5,269.84 L270.5,269.91 L269.5,269.98 L268.5,270.05 L267.5,270.14 L266.5,270.25 L265.5,270.36 L264.5,270.49 L263.5,270.63 L262.5,270.77 L261.5,270.93 L260.5,271.08 L259.5,271.24 L258.5,271.40 L257.5,271.55 L256.5,271.71 L255.5,271.86 L254.5,272.00 L253.5,272.13 L252.5,272.25 L251.5,272.36 L250.5,272.46 L249.5,272.54 L248.5,272.62 L247.5,272.69 L246.5,272.77 L245.5,272.84 L244.5,272.91 L243.5,272.97 L242.5,273.04 L241.5,273.10 L240.5,273.16 L239.5,273.22 L238.5,273.28 L237.5,273.34 L236.5,273.39 L235.5,273.45 L234.5,273.50 L233.5,273.55 L232.5,273.60 L231.5,273.65 L230.5,273.69 L229.5,273.74 L228.5,273.78 L227.5,273.82 L226.5,273.86 L225.5,273.90 L224.5,273.94 L223.5,273.98 L222.5,274.02 L221.5,274.06 L220.5,274.09 L219.5,274.13 L218.5,274.16 L217.5,274.20 L216.5,274.23 L215.5,274.27 L214.5,274.30 L213.5,274.33 L212.5,274.37 L211.5,274.40 L210.5,274.43 L209.5,274.46 L208.5,274.49 L207.5,274.52 L206.5,274.55 L205.5,274.57 L204.5,274.60 L203.5,274.62 L202.5,274.65 L201.5,274.67 L200.5,274.69 L199.5,274.71 L198.5,274.73 L197.5,274.75 L196.5,274.76 L195.5,274.78 L194.5,274.79 L193.5,274.80 L192.5,274.81 L191.5,274.83 L190.5,274.84 L189.5,274.85 L188.5,274.86 L187.5,274.87 L186.5,274.88 L185.5,274.89 L184.5,274.90 L183.5,274.91 L182.5,274.92 L181.5,274.93 L180.5,274.94 L179.5,274.95 L178.5,274.96 L177.5,274.97 L176.5,274.98 L175.5,274.98 L174.5,274.99 L173.5,275.00 L172.5,275.01 L171.5,275.02 L170.5,275.02 L169.5,275.03 L168.5,275.04 L167.5,275.04 L166.5,275.05 L165.5,275.05 L164.5,275.06 L163.5,275.06 L162.5,275.07 L161.5,275.07 L160.5,275.08 L159.5,275.08 L158.5,275.09 L157.5,275.09 L156.5,275.09 L155.5,275.09 L154.5,275.10 L153.5,275.10 L152.5,275.10 L151.5,275.10 L150.5,275.10 L149.5,275.10 L148.5,275.10 L147.5,275.10 L146.5,275.10 L145.5,275.10 L144.5,275.10 L143.5,275.10 L142.5,275.09 L141.5,275.09 L140.5,275.09 L139.5,275.09 L138.5,275.09 L137.5,275.08 L136.5,275.08 L135.5,275.08 L134.5,275.08 L133.5,275.07 L132.5,275.07 L131.5,275.07 L130.5,275.06 L129.5,275.06 L128.5,275.06 L127.5,275.05 L126.5,275.05 L125.5,275.05 L124.5,275.04 L123.5,275.04 L122.5,275.03 L121.5,275.03 L120.5,275.02 L119.5,275.02 L118.5,275.02 L117.5,275.01 L116.5,275.01 L115.5,275.00 L114.5,275.00 L113.5,274.99 L112.5,274.99 L111.5,274.98 L110.5,274.98 L109.5,274.97 L108.5,274.97 L107.5,274.96 L106.5,274.96 L105.5,274.95 L104.5,274.95 L103.5,274.94 L102.5,274.94 L101.5,274.93 L100.5,274.93 L99.5,274.92 L98.5,274.92 L97.5,274.91 L96.5,274.91 L95.5,274.90 L94.5,274.90 L93.5,274.89 L92.5,274.89 L91.5,274.88 L90.5,274.88 L89.5,274.88 L88.5,274.87 L87.5,274.87 L86.5,274.86 L85.5,274.86 L84.5,274.85 L83.5,274.85 L82.5,274.85 L81.5,274.84 L80.5,274.84 L79.5,274.84 L78.5,274.83 L77.5,274.83 L76.5,274.83 L75.5,274.82 L74.5,274.82 L73.5,274.82 L72.5,274.82 L71.5,274.81 L70.5,274.81 L69.5,274.81 L68.5,274.81 L67.5,274.81 L66.5,274.80 L65.5,274.80 L64.5,274.80 L63.5,274.80 L62.5,274.80 L61.5,274.80 L60.5,274.80 L59.5,274.80 L58.5,274.81 L57.5,274.82 L56.5,274.85 L55.5,274.89 L54.5,274.94 L53.5,275.00 L52.5,276.14 L51.5,278.00 Z" fill="#1ec8e6"/>
<path d="M51.5,203.10 L52.5,204.44 L53.5,205.76 L54.5,206.30 L55.5,206.34 L56.5,206.36 L57.5,206.38 L58.5,206.39 L59.5,206.40 L60.5,206.40 L61.5,206.40 L62.5,206.41 L63.5,206.41 L64.5,206.41 L65.5,206.41 L66.5,206.42 L67.5,206.42 L68.5,206.42 L69.5,206.42 L70.5,206.42 L71.5,206.43 L72.5,206.43 L73.5,206.43 L74.5,206.43 L75.5,206.43 L76.5,206.43 L77.5,206.44 L78.5,206.44 L79.5,206.44 L80.5,206.44 L81.5,206.44 L82.5,206.44 L83.5,206.44 L84.5,206.44 L85.5,206.44 L86.5,206.44 L87.5,206.45 L88.5,206.45 L89.5,206.45 L90.5,206.45 L91.5,206.45 L92.5,206.45 L93.5,206.45 L94.5,206.45 L95.5,206.45 L96.5,206.45 L97.5,206.45 L98.5,206.45 L99.5,206.45 L100.5,206.45 L101.5,206.45 L102.5,206.45 L103.5,206.45 L104.5,206.45 L105.5,206.45 L106.5,206.45 L107.5,206.46 L108.5,206.46 L109.5,206.46 L110.5,206.46 L111.5,206.46 L112.5,206.46 L113.5,206.46 L114.5,206.46 L115.5,206.46 L116.5,206.46 L117.5,206.46 L118.5,206.46 L119.5,206.46 L120.5,206.46 L121.5,206.46 L122.5,206.46 L123.5,206.46 L124.5,206.46 L125.5,206.46 L126.5,206.46 L127.5,206.47 L128.5,206.47 L129.5,206.47 L130.5,206.47 L131.5,206.47 L132.5,206.47 L133.5,206.47 L134.5,206.47 L135.5,206.47 L136.5,206.47 L137.5,206.48 L138.5,206.48 L139.5,206.48 L140.5,206.48 L141.5,206.48 L142.5,206.48 L143.5,206.49 L144.5,206.49 L145.5,206.49 L146.5,206.49 L147.5,206.49 L148.5,206.50 L149.5,206.50 L150.5,206.50 L151.5,206.51 L152.5,206.51 L153.5,206.52 L154.5,206.53 L155.5,206.54 L156.5,206.55 L157.5,206.56 L158.5,206.57 L159.5,206.59 L160.5,206.60 L161.5,206.62 L162.5,206.64 L163.5,206.66 L164.5,206.68 L165.5,206.70 L166.5,206.72 L167.5,206.74 L168.5,206.76 L169.5,206.78 L170.5,206.80 L171.5,206.83 L172.5,206.85 L173.5,206.87 L174.5,206.89 L175.5,206.92 L176.5,206.94 L177.5,206.96 L178.5,206.98 L179.5,207.01 L180.5,207.03 L181.5,207.05 L182.5,207.08 L183.5,207.10 L184.5,207.13 L185.5,207.15 L186.5,207.18 L187.5,207.21 L188.5,207.24 L189.5,207.26 L190.5,207.29 L191.5,207.32 L192.5,207.35 L193.5,207.39 L194.5,207.42 L195.5,207.45 L196.5,207.48 L197.5,207.51 L198.5,207.55 L199.5,207.58 L200.5,207.62 L201.5,207.65 L202.5,207.69 L203.5,207.72 L204.5,207.76 L205.5,207.79 L206.5,207.83 L207.5,207.87 L208.5,207.90 L209.5,207.94 L210.5,207.98 L211.5,208.02 L212.5,208.06 L213.5,208.10 L214.5,208.14 L215.5,208.18 L216.5,208.22 L217.5,208.26 L218.5,208.31 L219.5,208.35 L220.5,208.40 L221.5,208.44 L222.5,208.49 L223.5,208.54 L224.5,208.59 L225.5,208.64 L226.5,208.69 L227.5,208.74 L228.5,208.80 L229.5,208.85 L230.5,208.91 L231.5,208.97 L232.5,209.03 L233.5,209.09 L234.5,209.15 L235.5,209.22 L236.5,209.28 L237.5,209.35 L238.5,209.42 L239.5,209.49 L240.5,209.57 L241.5,209.64 L242.5,209.72 L243.5,209.80 L244.5,209.89 L245.5,209.97 L246.5,210.06 L247.5,210.16 L248.5,210.25 L249.5,210.35 L250.5,210.45 L251.5,210.56 L252.5,210.68 L253.5,210.81 L254.5,210.94 L255.5,211.08 L256.5,211.23 L257.5,211.38 L258.5,211.53 L259.5,211.69 L260.5,211.85 L261.5,212.02 L262.5,212.18 L263.5,212.35 L264.5,212.52 L265.5,212.69 L266.5,212.86 L267.5,213.02 L268.5,213.19 L269.5,213.35 L270.5,213.51 L271.5,213.68 L272.5,213.84 L273.5,214.01 L274.5,214.18 L275.5,214.35 L276.5,214.53 L277.5,214.70 L278.5,214.87 L279.5,215.05 L280.5,215.22 L281.5,215.40 L282.5,215.57 L283.5,215.75 L284.5,215.92 L285.5,216.10 L286.5,216.28 L287.5,216.46 L288.5,216.64 L289.5,216.82 L290.5,217.00 L291.5,217.18 L292.5,217.36 L293.5,217.54 L294.5,217.72 L295.5,217.90 L296.5,218.07 L297.5,218.25 L298.5,218.42 L299.5,218.61 L300.5,218.82 L301.5,219.04 L302.5,219.24 L303.5,219.42 L304.5,219.54 L305.5,219.60 L306.5,219.60 L307.5,219.60 L308.5,219.60 L309.5,219.60 L310.5,219.60 L311.5,219.60 L312.5,219.60 L313.5,219.59 L314.5,219.53 L315.5,219.42 L316.5,219.27 L317.5,219.08 L318.5,218.85 L319.5,218.61 L320.5,218.34 L321.5,217.96 L322.5,217.44 L323.5,216.80 L324.5,216.07 L325.5,215.29 L326.5,214.46 L327.5,213.50 L328.5,212.39 L329.5,211.13 L330.5,209.70 L331.5,208.04 L332.5,206.01 L333.5,203.52 L334.5,199.96 L335.5,196.02 L336.0,194.00 L336.0,290.50 L335.5,289.67 L334.5,288.09 L333.5,286.60 L332.5,285.16 L331.5,283.85 L330.5,282.70 L329.5,281.71 L328.5,280.80 L327.5,279.97 L326.5,279.19 L325.5,278.44 L324.5,277.68 L323.5,276.91 L322.5,276.11 L321.5,275.36 L320.5,274.71 L319.5,274.17 L318.5,273.67 L317.5,273.24 L316.5,272.94 L315.5,272.76 L314.5,272.62 L313.5,272.50 L312.5,272.40 L311.5,272.31 L310.5,272.24 L309.5,272.16 L308.5,272.09 L307.5,272.02 L306.5,271.97 L305.5,271.92 L304.5,271.90 L303.5,271.93 L302.5,272.07 L301.5,272.28 L300.5,272.53 L299.5,272.78 L298.5,272.98 L297.5,273.15 L296.5,273.31 L295.5,273.46 L294.5,273.61 L293.5,273.75 L292.5,273.89 L291.5,274.03 L290.5,274.17 L289.5,274.30 L288.5,274.44 L287.5,274.58 L286.5,274.72 L285.5,274.86 L284.5,275.00 L283.5,275.14 L282.5,275.29 L281.5,275.44 L280.5,275.60 L279.5,275.75 L278.5,275.90 L277.5,276.06 L276.5,276.21 L275.5,276.37 L274.5,276.52 L273.5,276.67 L272.5,276.82 L271.5,276.97 L270.5,277.12 L269.5,277.26 L268.5,277.40 L267.5,277.54 L266.5,277.69 L265.5,277.83 L264.5,277.98 L263.5,278.13 L262.5,278.28 L261.5,278.42 L260.5,278.57 L259.5,278.71 L258.5,278.85 L257.5,278.98 L256.5,279.11 L255.5,279.24 L254.5,279.36 L253.5,279.47 L252.5,279.57 L251.5,279.67 L250.5,279.76 L249.5,279.84 L248.5,279.92 L247.5,279.99 L246.5,280.07 L245.5,280.14 L244.5,280.21 L243.5,280.28 L242.5,280.34 L241.5,280.41 L240.5,280.47 L239.5,280.53 L238.5,280.59 L237.5,280.65 L236.5,280.71 L235.5,280.76 L234.5,280.81 L233.5,280.86 L232.5,280.91 L231.5,280.96 L230.5,281.01 L229.5,281.05 L228.5,281.09 L227.5,281.13 L226.5,281.17 L225.5,281.21 L224.5,281.25 L223.5,281.28 L222.5,281.32 L221.5,281.35 L220.5,281.38 L219.5,281.42 L218.5,281.45 L217.5,281.48 L216.5,281.52 L215.5,281.55 L214.5,281.58 L213.5,281.61 L212.5,281.64 L211.5,281.67 L210.5,281.70 L209.5,281.73 L208.5,281.75 L207.5,281.78 L206.5,281.81 L205.5,281.83 L204.5,281.85 L203.5,281.87 L202.5,281.89 L201.5,281.91 L200.5,281.93 L199.5,281.94 L198.5,281.96 L197.5,281.97 L196.5,281.98 L195.5,281.99 L194.5,282.00 L193.5,282.00 L192.5,282.01 L191.5,282.01 L190.5,282.01 L189.5,282.02 L188.5,282.02 L187.5,282.03 L186.5,282.03 L185.5,282.03 L184.5,282.04 L183.5,282.04 L182.5,282.04 L181.5,282.05 L180.5,282.05 L179.5,282.05 L178.5,282.06 L177.5,282.06 L176.5,282.06 L175.5,282.07 L174.5,282.07 L173.5,282.07 L172.5,282.07 L171.5,282.08 L170.5,282.08 L169.5,282.08 L168.5,282.08 L167.5,282.08 L166.5,282.09 L165.5,282.09 L164.5,282.09 L163.5,282.09 L162.5,282.09 L161.5,282.09 L160.5,282.09 L159.5,282.10 L158.5,282.10 L157.5,282.10 L156.5,282.10 L155.5,282.10 L154.5,282.10 L153.5,282.10 L152.5,282.10 L151.5,282.10 L150.5,282.10 L149.5,282.10 L148.5,282.10 L147.5,282.10 L146.5,282.10 L145.5,282.10 L144.5,282.10 L143.5,282.10 L142.5,282.10 L141.5,282.10 L140.5,282.10 L139.5,282.10 L138.5,282.10 L137.5,282.09 L136.5,282.09 L135.5,282.09 L134.5,282.09 L133.5,282.09 L132.5,282.09 L131.5,282.09 L130.5,282.09 L129.5,282.09 L128.5,282.09 L127.5,282.08 L126.5,282.08 L125.5,282.08 L124.5,282.08 L123.5,282.08 L122.5,282.08 L121.5,282.08 L120.5,282.07 L119.5,282.07 L118.5,282.07 L117.5,282.07 L116.5,282.07 L115.5,282.07 L114.5,282.07 L113.5,282.06 L112.5,282.06 L111.5,282.06 L110.5,282.06 L109.5,282.06 L108.5,282.06 L107.5,282.05 L106.5,282.05 L105.5,282.05 L104.5,282.05 L103.5,282.05 L102.5,282.05 L101.5,282.04 L100.5,282.04 L99.5,282.04 L98.5,282.04 L97.5,282.04 L96.5,282.04 L95.5,282.03 L94.5,282.03 L93.5,282.03 L92.5,282.03 L91.5,282.03 L90.5,282.03 L89.5,282.03 L88.5,282.02 L87.5,282.02 L86.5,282.02 L85.5,282.02 L84.5,282.02 L83.5,282.02 L82.5,282.02 L81.5,282.01 L80.5,282.01 L79.5,282.01 L78.5,282.01 L77.5,282.01 L76.5,282.01 L75.5,282.01 L74.5,282.01 L73.5,282.01 L72.5,282.01 L71.5,282.00 L70.5,282.00 L69.5,282.00 L68.5,282.00 L67.5,282.00 L66.5,282.00 L65.5,282.00 L64.5,282.00 L63.5,282.00 L62.5,282.00 L61.5,282.00 L60.5,282.00 L59.5,282.00 L58.5,282.00 L57.5,282.01 L56.5,282.02 L55.5,282.04 L54.5,282.07 L53.5,282.10 L52.5,283.35 L51.5,285.40 Z" fill="url(#hatchC)" clip-path="url(#cLlc)"/>
<path d="M51.5,203.10 L52.5,204.44 L53.5,205.76 L54.5,206.30 L55.5,206.34 L56.5,206.36 L57.5,206.38 L58.5,206.39 L59.5,206.40 L60.5,206.40 L61.5,206.40 L62.5,206.41 L63.5,206.41 L64.5,206.41 L65.5,206.41 L66.5,206.42 L67.5,206.42 L68.5,206.42 L69.5,206.42 L70.5,206.42 L71.5,206.43 L72.5,206.43 L73.5,206.43 L74.5,206.43 L75.5,206.43 L76.5,206.43 L77.5,206.44 L78.5,206.44 L79.5,206.44 L80.5,206.44 L81.5,206.44 L82.5,206.44 L83.5,206.44 L84.5,206.44 L85.5,206.44 L86.5,206.44 L87.5,206.45 L88.5,206.45 L89.5,206.45 L90.5,206.45 L91.5,206.45 L92.5,206.45 L93.5,206.45 L94.5,206.45 L95.5,206.45 L96.5,206.45 L97.5,206.45 L98.5,206.45 L99.5,206.45 L100.5,206.45 L101.5,206.45 L102.5,206.45 L103.5,206.45 L104.5,206.45 L105.5,206.45 L106.5,206.45 L107.5,206.46 L108.5,206.46 L109.5,206.46 L110.5,206.46 L111.5,206.46 L112.5,206.46 L113.5,206.46 L114.5,206.46 L115.5,206.46 L116.5,206.46 L117.5,206.46 L118.5,206.46 L119.5,206.46 L120.5,206.46 L121.5,206.46 L122.5,206.46 L123.5,206.46 L124.5,206.46 L125.5,206.46 L126.5,206.46 L127.5,206.47 L128.5,206.47 L129.5,206.47 L130.5,206.47 L131.5,206.47 L132.5,206.47 L133.5,206.47 L134.5,206.47 L135.5,206.47 L136.5,206.47 L137.5,206.48 L138.5,206.48 L139.5,206.48 L140.5,206.48 L141.5,206.48 L142.5,206.48 L143.5,206.49 L144.5,206.49 L145.5,206.49 L146.5,206.49 L147.5,206.49 L148.5,206.50 L149.5,206.50 L150.5,206.50 L151.5,206.51 L152.5,206.51 L153.5,206.52 L154.5,206.53 L155.5,206.54 L156.5,206.55 L157.5,206.56 L158.5,206.57 L159.5,206.59 L160.5,206.60 L161.5,206.62 L162.5,206.64 L163.5,206.66 L164.5,206.68 L165.5,206.70 L166.5,206.72 L167.5,206.74 L168.5,206.76 L169.5,206.78 L170.5,206.80 L171.5,206.83 L172.5,206.85 L173.5,206.87 L174.5,206.89 L175.5,206.92 L176.5,206.94 L177.5,206.96 L178.5,206.98 L179.5,207.01 L180.5,207.03 L181.5,207.05 L182.5,207.08 L183.5,207.10 L184.5,207.13 L185.5,207.15 L186.5,207.18 L187.5,207.21 L188.5,207.24 L189.5,207.26 L190.5,207.29 L191.5,207.32 L192.5,207.35 L193.5,207.39 L194.5,207.42 L195.5,207.45 L196.5,207.48 L197.5,207.51 L198.5,207.55 L199.5,207.58 L200.5,207.62 L201.5,207.65 L202.5,207.69 L203.5,207.72 L204.5,207.76 L205.5,207.79 L206.5,207.83 L207.5,207.87 L208.5,207.90 L209.5,207.94 L210.5,207.98 L211.5,208.02 L212.5,208.06 L213.5,208.10 L214.5,208.14 L215.5,208.18 L216.5,208.22 L217.5,208.26 L218.5,208.31 L219.5,208.35 L220.5,208.40 L221.5,208.44 L222.5,208.49 L223.5,208.54 L224.5,208.59 L225.5,208.64 L226.5,208.69 L227.5,208.74 L228.5,208.80 L229.5,208.85 L230.5,208.91 L231.5,208.97 L232.5,209.03 L233.5,209.09 L234.5,209.15 L235.5,209.22 L236.5,209.28 L237.5,209.35 L238.5,209.42 L239.5,209.49 L240.5,209.57 L241.5,209.64 L242.5,209.72 L243.5,209.80 L244.5,209.89 L245.5,209.97 L246.5,210.06 L247.5,210.16 L248.5,210.25 L249.5,210.35 L250.5,210.45 L251.5,210.56 L252.5,210.68 L253.5,210.81 L254.5,210.94 L255.5,211.08 L256.5,211.23 L257.5,211.38 L258.5,211.53 L259.5,211.69 L260.5,211.85 L261.5,212.02 L262.5,212.18 L263.5,212.35 L264.5,212.52 L265.5,212.69 L266.5,212.86 L267.5,213.02 L268.5,213.19 L269.5,213.35 L270.5,213.51 L271.5,213.68 L272.5,213.84 L273.5,214.01 L274.5,214.18 L275.5,214.35 L276.5,214.53 L277.5,214.70 L278.5,214.87 L279.5,215.05 L280.5,215.22 L281.5,215.40 L282.5,215.57 L283.5,215.75 L284.5,215.92 L285.5,216.10 L286.5,216.28 L287.5,216.46 L288.5,216.64 L289.5,216.82 L290.5,217.00 L291.5,217.18 L292.5,217.36 L293.5,217.54 L294.5,217.72 L295.5,217.90 L296.5,218.07 L297.5,218.25 L298.5,218.42 L299.5,218.61 L300.5,218.82 L301.5,219.04 L302.5,219.24 L303.5,219.42 L304.5,219.54 L305.5,219.60 L306.5,219.60 L307.5,219.60 L308.5,219.60 L309.5,219.60 L310.5,219.60 L311.5,219.60 L312.5,219.60 L313.5,219.59 L314.5,219.53 L315.5,219.42 L316.5,219.27 L317.5,219.08 L318.5,218.85 L319.5,218.61 L320.5,218.34 L321.5,217.96 L322.5,217.44 L323.5,216.80 L324.5,216.07 L325.5,215.29 L326.5,214.46 L327.5,213.50 L328.5,212.39 L329.5,211.13 L330.5,209.70 L331.5,208.04 L332.5,206.01 L333.5,203.52 L334.5,199.96 L335.5,196.02 L336.0,194.00" fill="none" stroke="#1010ff" stroke-width="0.9"/>
<path d="M51.5,285.40 L52.5,283.35 L53.5,282.10 L54.5,282.07 L55.5,282.04 L56.5,282.02 L57.5,282.01 L58.5,282.00 L59.5,282.00 L60.5,282.00 L61.5,282.00 L62.5,282.00 L63.5,282.00 L64.5,282.00 L65.5,282.00 L66.5,282.00 L67.5,282.00 L68.5,282.00 L69.5,282.00 L70.5,282.00 L71.5,282.00 L72.5,282.01 L73.5,282.01 L74.5,282.01 L75.5,282.01 L76.5,282.01 L77.5,282.01 L78.5,282.01 L79.5,282.01 L80.5,282.01 L81.5,282.01 L82.5,282.02 L83.5,282.02 L84.5,282.02 L85.5,282.02 L86.5,282.02 L87.5,282.02 L88.5,282.02 L89.5,282.03 L90.5,282.03 L91.5,282.03 L92.5,282.03 L93.5,282.03 L94.5,282.03 L95.5,282.03 L96.5,282.04 L97.5,282.04 L98.5,282.04 L99.5,282.04 L100.5,282.04 L101.5,282.04 L102.5,282.05 L103.5,282.05 L104.5,282.05 L105.5,282.05 L106.5,282.05 L107.5,282.05 L108.5,282.06 L109.5,282.06 L110.5,282.06 L111.5,282.06 L112.5,282.06 L113.5,282.06 L114.5,282.07 L115.5,282.07 L116.5,282.07 L117.5,282.07 L118.5,282.07 L119.5,282.07 L120.5,282.07 L121.5,282.08 L122.5,282.08 L123.5,282.08 L124.5,282.08 L125.5,282.08 L126.5,282.08 L127.5,282.08 L128.5,282.09 L129.5,282.09 L130.5,282.09 L131.5,282.09 L132.5,282.09 L133.5,282.09 L134.5,282.09 L135.5,282.09 L136.5,282.09 L137.5,282.09 L138.5,282.10 L139.5,282.10 L140.5,282.10 L141.5,282.10 L142.5,282.10 L143.5,282.10 L144.5,282.10 L145.5,282.10 L146.5,282.10 L147.5,282.10 L148.5,282.10 L149.5,282.10 L150.5,282.10 L151.5,282.10 L152.5,282.10 L153.5,282.10 L154.5,282.10 L155.5,282.10 L156.5,282.10 L157.5,282.10 L158.5,282.10 L159.5,282.10 L160.5,282.09 L161.5,282.09 L162.5,282.09 L163.5,282.09 L164.5,282.09 L165.5,282.09 L166.5,282.09 L167.5,282.08 L168.5,282.08 L169.5,282.08 L170.5,282.08 L171.5,282.08 L172.5,282.07 L173.5,282.07 L174.5,282.07 L175.5,282.07 L176.5,282.06 L177.5,282.06 L178.5,282.06 L179.5,282.05 L180.5,282.05 L181.5,282.05 L182.5,282.04 L183.5,282.04 L184.5,282.04 L185.5,282.03 L186.5,282.03 L187.5,282.03 L188.5,282.02 L189.5,282.02 L190.5,282.01 L191.5,282.01 L192.5,282.01 L193.5,282.00 L194.5,282.00 L195.5,281.99 L196.5,281.98 L197.5,281.97 L198.5,281.96 L199.5,281.94 L200.5,281.93 L201.5,281.91 L202.5,281.89 L203.5,281.87 L204.5,281.85 L205.5,281.83 L206.5,281.81 L207.5,281.78 L208.5,281.75 L209.5,281.73 L210.5,281.70 L211.5,281.67 L212.5,281.64 L213.5,281.61 L214.5,281.58 L215.5,281.55 L216.5,281.52 L217.5,281.48 L218.5,281.45 L219.5,281.42 L220.5,281.38 L221.5,281.35 L222.5,281.32 L223.5,281.28 L224.5,281.25 L225.5,281.21 L226.5,281.17 L227.5,281.13 L228.5,281.09 L229.5,281.05 L230.5,281.01 L231.5,280.96 L232.5,280.91 L233.5,280.86 L234.5,280.81 L235.5,280.76 L236.5,280.71 L237.5,280.65 L238.5,280.59 L239.5,280.53 L240.5,280.47 L241.5,280.41 L242.5,280.34 L243.5,280.28 L244.5,280.21 L245.5,280.14 L246.5,280.07 L247.5,279.99 L248.5,279.92 L249.5,279.84 L250.5,279.76 L251.5,279.67 L252.5,279.57 L253.5,279.47 L254.5,279.36 L255.5,279.24 L256.5,279.11 L257.5,278.98 L258.5,278.85 L259.5,278.71 L260.5,278.57 L261.5,278.42 L262.5,278.28 L263.5,278.13 L264.5,277.98 L265.5,277.83 L266.5,277.69 L267.5,277.54 L268.5,277.40 L269.5,277.26 L270.5,277.12 L271.5,276.97 L272.5,276.82 L273.5,276.67 L274.5,276.52 L275.5,276.37 L276.5,276.21 L277.5,276.06 L278.5,275.90 L279.5,275.75 L280.5,275.60 L281.5,275.44 L282.5,275.29 L283.5,275.14 L284.5,275.00 L285.5,274.86 L286.5,274.72 L287.5,274.58 L288.5,274.44 L289.5,274.30 L290.5,274.17 L291.5,274.03 L292.5,273.89 L293.5,273.75 L294.5,273.61 L295.5,273.46 L296.5,273.31 L297.5,273.15 L298.5,272.98 L299.5,272.78 L300.5,272.53 L301.5,272.28 L302.5,272.07 L303.5,271.93 L304.5,271.90 L305.5,271.92 L306.5,271.97 L307.5,272.02 L308.5,272.09 L309.5,272.16 L310.5,272.24 L311.5,272.31 L312.5,272.40 L313.5,272.50 L314.5,272.62 L315.5,272.76 L316.5,272.94 L317.5,273.24 L318.5,273.67 L319.5,274.17 L320.5,274.71 L321.5,275.36 L322.5,276.11 L323.5,276.91 L324.5,277.68 L325.5,278.44 L326.5,279.19 L327.5,279.97 L328.5,280.80 L329.5,281.71 L330.5,282.70 L331.5,283.85 L332.5,285.16 L333.5,286.60 L334.5,288.09 L335.5,289.67 L336.0,290.50" fill="none" stroke="#1010ff" stroke-width="0.9"/>
</g>
<path d="M51.5,19V199" stroke="#222" stroke-width="1" fill="none"/>
<path d="M72.5,295.5v-3.5 M87.5,295.5v-3.5 M97.5,295.5v-3.5 M105.5,295.5v-3.5 M112.5,295.5v-3.5 M117.5,295.5v-3.5 M122.5,295.5v-3.5 M126.5,295.5v-3.5 M130.5,295.5v-7 M155.5,295.5v-3.5 M169.5,295.5v-3.5 M179.5,295.5v-3.5 M187.5,295.5v-3.5 M194.5,295.5v-3.5 M199.5,295.5v-3.5 M204.5,295.5v-3.5 M208.5,295.5v-3.5 M212.5,295.5v-7 M237.5,295.5v-3.5 M251.5,295.5v-3.5 M262.5,295.5v-3.5 M270.5,295.5v-3.5 M276.5,295.5v-3.5 M282.5,295.5v-3.5 M287.5,295.5v-3.5 M291.5,295.5v-3.5 M294.5,295.5v-7 M319.5,295.5v-3.5 M51.5,288.5h3.5 M51.5,281.5h3.5 M51.5,274.5h6.5 M51.5,267.5h3.5 M51.5,260.5h3.5 M51.5,253.5h3.5 M51.5,246.5h6.5 M51.5,239.5h3.5 M51.5,232.5h3.5 M51.5,225.5h3.5 M51.5,219.5h6.5 M51.5,212.5h3.5 M51.5,205.5h3.5" stroke="#222" stroke-width="1" fill="none"/>
<path d="M51.5,198V295.5H335" stroke="#222" stroke-width="1" fill="none"/>
<text x="44.0" y="23.85" text-anchor="end" class="ylab">0.6</text>
<text x="44.0" y="83.85" text-anchor="end" class="ylab">0.4</text>
<text x="44.0" y="143.85" text-anchor="end" class="ylab">0.2</text>
<text x="44.0" y="223.38" text-anchor="end" class="ylab">0.2</text>
<text x="44.0" y="251.10" text-anchor="end" class="ylab">0</text>
<text x="44.0" y="278.82" text-anchor="end" class="ylab">-0.2</text>
<text x="120.60" y="315.8" class="lab">10<tspan class="sup" dy="-5.4">-3</tspan></text>
<text x="202.90" y="315.8" class="lab">10<tspan class="sup" dy="-5.4">-2</tspan></text>
<text x="285.20" y="315.8" class="lab">10<tspan class="sup" dy="-5.4">-1</tspan></text>
<text transform="translate(325.9,325.8) scale(0.93,1)" class="ax">x</text>
<text x="48.3" y="10.25" class="t">CMS</text>
<text x="334.4" y="10.3" text-anchor="end" class="t2">Hessian uncetainties</text>
<text transform="translate(18.1,37.9) rotate(-90) scale(0.87,1)" class="ax">x</text>
<circle cx="13.0" cy="25.0" r="2.0" fill="#000"/>
<text transform="translate(18.1,18.6) rotate(-90) scale(0.94,1)" class="ax">s</text>
<text transform="translate(18.3,293.7) rotate(-90) scale(0.99,1)" class="ax">Fract. uncert.</text>
<rect x="6" y="9.2" width="1" height="10.4" fill="#c4c4c4"/>
<rect x="73.5" y="32.5" width="14" height="10" fill="#fff" stroke="#333" stroke-width="1"/>
<rect x="73.5" y="32.5" width="14" height="10" fill="url(#hatchL)"/>
<rect x="73.5" y="32.5" width="14" height="10" fill="none" stroke="#333" stroke-width="1"/>
<rect x="73.5" y="50.5" width="14" height="10" fill="#1ec8e6" stroke="#333" stroke-width="1"/>
<text x="95.4" y="41.7" class="lg">PRD 90 (2014) 032004</text>
<text x="95.4" y="59.6" class="lg">This analysis</text>
<text x="98.3" y="72.9" class="lg">parameterization of PRD 90 (2014) 032004</text>
<path d="M422.5,198.5v-3 M437.5,198.5v-3 M447.5,198.5v-3 M455.5,198.5v-3 M462.5,198.5v-3 M467.5,198.5v-3 M472.5,198.5v-3 M476.5,198.5v-3 M480.5,198.5v-6 M505.5,198.5v-3 M519.5,198.5v-3 M529.5,198.5v-3 M537.5,198.5v-3 M544.5,198.5v-3 M549.5,198.5v-3 M554.5,198.5v-3 M558.5,198.5v-3 M562.5,198.5v-6 M587.5,198.5v-3 M601.5,198.5v-3 M612.5,198.5v-3 M620.5,198.5v-3 M626.5,198.5v-3 M632.5,198.5v-3 M637.5,198.5v-3 M641.5,198.5v-3 M644.5,198.5v-6 M669.5,198.5v-3 M401.5,189.5h3.5 M401.5,179.5h3.5 M401.5,169.5h3.5 M401.5,160.5h3.5 M401.5,150.5h6.5 M401.5,140.5h3.5 M401.5,130.5h3.5 M401.5,121.5h3.5 M401.5,111.5h3.5 M401.5,101.5h6.5 M401.5,92.5h3.5 M401.5,82.5h3.5 M401.5,72.5h3.5 M401.5,63.5h3.5 M401.5,53.5h6.5 M401.5,43.5h3.5 M401.5,34.5h3.5 M401.5,24.5h3.5" stroke="#222" stroke-width="1" fill="none"/>
<rect x="401.5" y="19.5" width="283" height="179" fill="none" stroke="#222" stroke-width="1"/>
<rect x="401.5" y="198.5" width="283" height="97" fill="none" stroke="#222" stroke-width="1"/>
<clipPath id="cRu"><rect x="402" y="20" width="283" height="179"/></clipPath>
<clipPath id="cRl"><rect x="402" y="198" width="283" height="97"/></clipPath>
<clipPath id="cRuc"><path d="M401.0,39.25 L402.0,40.68 L403.0,42.11 L404.0,43.52 L405.0,44.93 L406.0,46.33 L407.0,47.72 L408.0,49.11 L409.0,50.49 L410.0,51.86 L411.0,53.22 L412.0,54.58 L413.0,55.93 L414.0,57.27 L415.0,58.60 L416.0,59.92 L417.0,61.24 L418.0,62.54 L419.0,63.84 L420.0,65.13 L421.0,66.42 L422.0,67.69 L423.0,68.95 L424.0,70.21 L425.0,71.46 L426.0,72.70 L427.0,73.93 L428.0,75.15 L429.0,76.36 L430.0,77.57 L431.0,78.76 L432.0,79.95 L433.0,81.13 L434.0,82.30 L435.0,83.46 L436.0,84.61 L437.0,85.75 L438.0,86.88 L439.0,88.01 L440.0,89.12 L441.0,90.23 L442.0,91.33 L443.0,92.42 L444.0,93.50 L445.0,94.57 L446.0,95.63 L447.0,96.68 L448.0,97.73 L449.0,98.77 L450.0,99.79 L451.0,100.81 L452.0,101.82 L453.0,102.83 L454.0,103.82 L455.0,104.80 L456.0,105.78 L457.0,106.75 L458.0,107.71 L459.0,108.66 L460.0,109.60 L461.0,110.54 L462.0,111.46 L463.0,112.38 L464.0,113.29 L465.0,114.19 L466.0,115.09 L467.0,115.97 L468.0,116.85 L469.0,117.72 L470.0,118.58 L471.0,119.44 L472.0,120.28 L473.0,121.12 L474.0,121.95 L475.0,122.78 L476.0,123.60 L477.0,124.40 L478.0,125.21 L479.0,126.00 L480.0,126.79 L481.0,127.57 L482.0,128.34 L483.0,129.11 L484.0,129.87 L485.0,130.62 L486.0,131.36 L487.0,132.10 L488.0,132.84 L489.0,133.56 L490.0,134.28 L491.0,134.99 L492.0,135.70 L493.0,136.40 L494.0,137.09 L495.0,137.78 L496.0,138.46 L497.0,139.13 L498.0,139.80 L499.0,140.46 L500.0,141.12 L501.0,141.77 L502.0,142.41 L503.0,143.05 L504.0,143.69 L505.0,144.32 L506.0,144.94 L507.0,145.55 L508.0,146.17 L509.0,146.77 L510.0,147.37 L511.0,147.97 L512.0,148.56 L513.0,149.14 L514.0,149.72 L515.0,150.30 L516.0,150.87 L517.0,151.44 L518.0,152.00 L519.0,152.55 L520.0,153.10 L521.0,153.65 L522.0,154.19 L523.0,154.73 L524.0,155.26 L525.0,155.79 L526.0,156.32 L527.0,156.84 L528.0,157.35 L529.0,157.86 L530.0,158.37 L531.0,158.87 L532.0,159.37 L533.0,159.87 L534.0,160.36 L535.0,160.84 L536.0,161.33 L537.0,161.81 L538.0,162.28 L539.0,162.75 L540.0,163.22 L541.0,163.68 L542.0,164.15 L543.0,164.60 L544.0,165.05 L545.0,165.50 L546.0,165.95 L547.0,166.39 L548.0,166.83 L549.0,167.27 L550.0,167.70 L551.0,168.13 L552.0,168.55 L553.0,168.98 L554.0,169.39 L555.0,169.81 L556.0,170.22 L557.0,170.63 L558.0,171.04 L559.0,171.44 L560.0,171.84 L561.0,172.24 L562.0,172.63 L563.0,173.02 L564.0,173.41 L565.0,173.79 L566.0,174.17 L567.0,174.55 L568.0,174.92 L569.0,175.29 L570.0,175.66 L571.0,176.03 L572.0,176.39 L573.0,176.75 L574.0,177.11 L575.0,177.46 L576.0,177.81 L577.0,178.16 L578.0,178.51 L579.0,178.85 L580.0,179.19 L581.0,179.52 L582.0,179.86 L583.0,180.19 L584.0,180.51 L585.0,180.84 L586.0,181.16 L587.0,181.48 L588.0,181.79 L589.0,182.11 L590.0,182.42 L591.0,182.72 L592.0,183.03 L593.0,183.33 L594.0,183.62 L595.0,183.92 L596.0,184.21 L597.0,184.50 L598.0,184.78 L599.0,185.07 L600.0,185.35 L601.0,185.62 L602.0,185.90 L603.0,186.17 L604.0,186.44 L605.0,186.70 L606.0,186.96 L607.0,187.22 L608.0,187.48 L609.0,187.73 L610.0,187.98 L611.0,188.22 L612.0,188.47 L613.0,188.71 L614.0,188.94 L615.0,189.18 L616.0,189.41 L617.0,189.63 L618.0,189.86 L619.0,190.08 L620.0,190.30 L621.0,190.51 L622.0,190.72 L623.0,190.93 L624.0,191.14 L625.0,191.34 L626.0,191.54 L627.0,191.73 L628.0,191.92 L629.0,192.11 L630.0,192.30 L631.0,192.48 L632.0,192.66 L633.0,192.84 L634.0,193.01 L635.0,193.18 L636.0,193.35 L637.0,193.51 L638.0,193.67 L639.0,193.83 L640.0,193.98 L641.0,194.13 L642.0,194.28 L643.0,194.42 L644.0,194.56 L645.0,194.70 L646.0,194.83 L647.0,194.96 L648.0,195.09 L649.0,195.22 L650.0,195.34 L651.0,195.46 L652.0,195.58 L653.0,195.69 L654.0,195.80 L655.0,195.91 L656.0,196.01 L657.0,196.11 L658.0,196.21 L659.0,196.31 L660.0,196.40 L661.0,196.49 L662.0,196.58 L663.0,196.67 L664.0,196.75 L665.0,196.83 L666.0,196.91 L667.0,196.99 L668.0,197.06 L669.0,197.13 L670.0,197.20 L671.0,197.27 L672.0,197.33 L673.0,197.40 L674.0,197.46 L675.0,197.52 L676.0,197.58 L677.0,197.64 L678.0,197.69 L679.0,197.75 L680.0,197.80 L681.0,197.85 L682.0,197.90 L683.0,197.95 L684.0,198.00 L685.0,198.05 L685.0,198.32 L684.0,198.32 L683.0,198.31 L682.0,198.30 L681.0,198.29 L680.0,198.27 L679.0,198.25 L678.0,198.23 L677.0,198.21 L676.0,198.18 L675.0,198.15 L674.0,198.11 L673.0,198.07 L672.0,198.03 L671.0,197.99 L670.0,197.95 L669.0,197.90 L668.0,197.85 L667.0,197.79 L666.0,197.73 L665.0,197.67 L664.0,197.61 L663.0,197.54 L662.0,197.47 L661.0,197.40 L660.0,197.33 L659.0,197.25 L658.0,197.17 L657.0,197.09 L656.0,197.00 L655.0,196.92 L654.0,196.82 L653.0,196.73 L652.0,196.63 L651.0,196.54 L650.0,196.43 L649.0,196.33 L648.0,196.22 L647.0,196.11 L646.0,196.00 L645.0,195.89 L644.0,195.77 L643.0,195.65 L642.0,195.52 L641.0,195.40 L640.0,195.27 L639.0,195.14 L638.0,195.01 L637.0,194.87 L636.0,194.73 L635.0,194.59 L634.0,194.45 L633.0,194.30 L632.0,194.15 L631.0,194.00 L630.0,193.84 L629.0,193.68 L628.0,193.52 L627.0,193.36 L626.0,193.20 L625.0,193.03 L624.0,192.86 L623.0,192.68 L622.0,192.51 L621.0,192.33 L620.0,192.15 L619.0,191.96 L618.0,191.78 L617.0,191.59 L616.0,191.40 L615.0,191.20 L614.0,191.00 L613.0,190.80 L612.0,190.60 L611.0,190.40 L610.0,190.19 L609.0,189.98 L608.0,189.76 L607.0,189.54 L606.0,189.33 L605.0,189.10 L604.0,188.88 L603.0,188.65 L602.0,188.42 L601.0,188.18 L600.0,187.95 L599.0,187.71 L598.0,187.47 L597.0,187.22 L596.0,186.97 L595.0,186.72 L594.0,186.47 L593.0,186.21 L592.0,185.95 L591.0,185.69 L590.0,185.42 L589.0,185.15 L588.0,184.88 L587.0,184.61 L586.0,184.33 L585.0,184.05 L584.0,183.76 L583.0,183.48 L582.0,183.19 L581.0,182.89 L580.0,182.60 L579.0,182.30 L578.0,181.99 L577.0,181.69 L576.0,181.38 L575.0,181.07 L574.0,180.75 L573.0,180.43 L572.0,180.11 L571.0,179.78 L570.0,179.45 L569.0,179.12 L568.0,178.78 L567.0,178.45 L566.0,178.10 L565.0,177.76 L564.0,177.41 L563.0,177.05 L562.0,176.70 L561.0,176.34 L560.0,175.97 L559.0,175.60 L558.0,175.23 L557.0,174.86 L556.0,174.48 L555.0,174.10 L554.0,173.71 L553.0,173.32 L552.0,172.93 L551.0,172.53 L550.0,172.13 L549.0,171.73 L548.0,171.32 L547.0,170.90 L546.0,170.49 L545.0,170.07 L544.0,169.64 L543.0,169.21 L542.0,168.78 L541.0,168.35 L540.0,167.91 L539.0,167.46 L538.0,167.01 L537.0,166.56 L536.0,166.10 L535.0,165.64 L534.0,165.17 L533.0,164.70 L532.0,164.23 L531.0,163.75 L530.0,163.27 L529.0,162.78 L528.0,162.29 L527.0,161.79 L526.0,161.29 L525.0,160.78 L524.0,160.27 L523.0,159.76 L522.0,159.24 L521.0,158.71 L520.0,158.19 L519.0,157.65 L518.0,157.11 L517.0,156.57 L516.0,156.02 L515.0,155.47 L514.0,154.91 L513.0,154.35 L512.0,153.78 L511.0,153.21 L510.0,152.63 L509.0,152.05 L508.0,151.46 L507.0,150.87 L506.0,150.27 L505.0,149.66 L504.0,149.05 L503.0,148.44 L502.0,147.82 L501.0,147.19 L500.0,146.56 L499.0,145.93 L498.0,145.29 L497.0,144.64 L496.0,143.99 L495.0,143.33 L494.0,142.66 L493.0,141.99 L492.0,141.32 L491.0,140.64 L490.0,139.95 L489.0,139.26 L488.0,138.56 L487.0,137.85 L486.0,137.14 L485.0,136.42 L484.0,135.70 L483.0,134.97 L482.0,134.23 L481.0,133.49 L480.0,132.74 L479.0,131.99 L478.0,131.23 L477.0,130.46 L476.0,129.69 L475.0,128.91 L474.0,128.12 L473.0,127.33 L472.0,126.53 L471.0,125.72 L470.0,124.91 L469.0,124.09 L468.0,123.26 L467.0,122.43 L466.0,121.59 L465.0,120.74 L464.0,119.89 L463.0,119.02 L462.0,118.16 L461.0,117.28 L460.0,116.40 L459.0,115.51 L458.0,114.61 L457.0,113.70 L456.0,112.79 L455.0,111.87 L454.0,110.94 L453.0,110.01 L452.0,109.07 L451.0,108.12 L450.0,107.16 L449.0,106.19 L448.0,105.22 L447.0,104.24 L446.0,103.25 L445.0,102.25 L444.0,101.24 L443.0,100.23 L442.0,99.21 L441.0,98.18 L440.0,97.14 L439.0,96.09 L438.0,95.04 L437.0,93.97 L436.0,92.90 L435.0,91.82 L434.0,90.73 L433.0,89.63 L432.0,88.53 L431.0,87.41 L430.0,86.29 L429.0,85.15 L428.0,84.01 L427.0,82.86 L426.0,81.70 L425.0,80.53 L424.0,79.35 L423.0,78.16 L422.0,76.97 L421.0,75.76 L420.0,74.54 L419.0,73.32 L418.0,72.08 L417.0,70.84 L416.0,69.58 L415.0,68.32 L414.0,67.04 L413.0,65.76 L412.0,64.46 L411.0,63.16 L410.0,61.84 L409.0,60.52 L408.0,59.18 L407.0,57.84 L406.0,56.48 L405.0,55.12 L404.0,53.74 L403.0,52.35 L402.0,50.95 L401.0,49.54 Z"/></clipPath>
<g clip-path="url(#cRu)">
<path d="M401.0,39.25 L402.0,40.68 L403.0,42.11 L404.0,43.52 L405.0,44.93 L406.0,46.33 L407.0,47.72 L408.0,49.11 L409.0,50.49 L410.0,51.86 L411.0,53.22 L412.0,54.58 L413.0,55.93 L414.0,57.27 L415.0,58.60 L416.0,59.92 L417.0,61.24 L418.0,62.54 L419.0,63.84 L420.0,65.13 L421.0,66.42 L422.0,67.69 L423.0,68.95 L424.0,70.21 L425.0,71.46 L426.0,72.70 L427.0,73.93 L428.0,75.15 L429.0,76.36 L430.0,77.57 L431.0,78.76 L432.0,79.95 L433.0,81.13 L434.0,82.30 L435.0,83.46 L436.0,84.61 L437.0,85.75 L438.0,86.88 L439.0,88.01 L440.0,89.12 L441.0,90.23 L442.0,91.33 L443.0,92.42 L444.0,93.50 L445.0,94.57 L446.0,95.63 L447.0,96.68 L448.0,97.73 L449.0,98.77 L450.0,99.79 L451.0,100.81 L452.0,101.82 L453.0,102.83 L454.0,103.82 L455.0,104.80 L456.0,105.78 L457.0,106.75 L458.0,107.71 L459.0,108.66 L460.0,109.60 L461.0,110.54 L462.0,111.46 L463.0,112.38 L464.0,113.29 L465.0,114.19 L466.0,115.09 L467.0,115.97 L468.0,116.85 L469.0,117.72 L470.0,118.58 L471.0,119.44 L472.0,120.28 L473.0,121.12 L474.0,121.95 L475.0,122.78 L476.0,123.60 L477.0,124.40 L478.0,125.21 L479.0,126.00 L480.0,126.79 L481.0,127.57 L482.0,128.34 L483.0,129.11 L484.0,129.87 L485.0,130.62 L486.0,131.36 L487.0,132.10 L488.0,132.84 L489.0,133.56 L490.0,134.28 L491.0,134.99 L492.0,135.70 L493.0,136.40 L494.0,137.09 L495.0,137.78 L496.0,138.46 L497.0,139.13 L498.0,139.80 L499.0,140.46 L500.0,141.12 L501.0,141.77 L502.0,142.41 L503.0,143.05 L504.0,143.69 L505.0,144.32 L506.0,144.94 L507.0,145.55 L508.0,146.17 L509.0,146.77 L510.0,147.37 L511.0,147.97 L512.0,148.56 L513.0,149.14 L514.0,149.72 L515.0,150.30 L516.0,150.87 L517.0,151.44 L518.0,152.00 L519.0,152.55 L520.0,153.10 L521.0,153.65 L522.0,154.19 L523.0,154.73 L524.0,155.26 L525.0,155.79 L526.0,156.32 L527.0,156.84 L528.0,157.35 L529.0,157.86 L530.0,158.37 L531.0,158.87 L532.0,159.37 L533.0,159.87 L534.0,160.36 L535.0,160.84 L536.0,161.33 L537.0,161.81 L538.0,162.28 L539.0,162.75 L540.0,163.22 L541.0,163.68 L542.0,164.15 L543.0,164.60 L544.0,165.05 L545.0,165.50 L546.0,165.95 L547.0,166.39 L548.0,166.83 L549.0,167.27 L550.0,167.70 L551.0,168.13 L552.0,168.55 L553.0,168.98 L554.0,169.39 L555.0,169.81 L556.0,170.22 L557.0,170.63 L558.0,171.04 L559.0,171.44 L560.0,171.84 L561.0,172.24 L562.0,172.63 L563.0,173.02 L564.0,173.41 L565.0,173.79 L566.0,174.17 L567.0,174.55 L568.0,174.92 L569.0,175.29 L570.0,175.66 L571.0,176.03 L572.0,176.39 L573.0,176.75 L574.0,177.11 L575.0,177.46 L576.0,177.81 L577.0,178.16 L578.0,178.51 L579.0,178.85 L580.0,179.19 L581.0,179.52 L582.0,179.86 L583.0,180.19 L584.0,180.51 L585.0,180.84 L586.0,181.16 L587.0,181.48 L588.0,181.79 L589.0,182.11 L590.0,182.42 L591.0,182.72 L592.0,183.03 L593.0,183.33 L594.0,183.62 L595.0,183.92 L596.0,184.21 L597.0,184.50 L598.0,184.78 L599.0,185.07 L600.0,185.35 L601.0,185.62 L602.0,185.90 L603.0,186.17 L604.0,186.44 L605.0,186.70 L606.0,186.96 L607.0,187.22 L608.0,187.48 L609.0,187.73 L610.0,187.98 L611.0,188.22 L612.0,188.47 L613.0,188.71 L614.0,188.94 L615.0,189.18 L616.0,189.41 L617.0,189.63 L618.0,189.86 L619.0,190.08 L620.0,190.30 L621.0,190.51 L622.0,190.72 L623.0,190.93 L624.0,191.14 L625.0,191.34 L626.0,191.54 L627.0,191.73 L628.0,191.92 L629.0,192.11 L630.0,192.30 L631.0,192.48 L632.0,192.66 L633.0,192.84 L634.0,193.01 L635.0,193.18 L636.0,193.35 L637.0,193.51 L638.0,193.67 L639.0,193.83 L640.0,193.98 L641.0,194.13 L642.0,194.28 L643.0,194.42 L644.0,194.56 L645.0,194.70 L646.0,194.83 L647.0,194.96 L648.0,195.09 L649.0,195.22 L650.0,195.34 L651.0,195.46 L652.0,195.58 L653.0,195.69 L654.0,195.80 L655.0,195.91 L656.0,196.01 L657.0,196.11 L658.0,196.21 L659.0,196.31 L660.0,196.40 L661.0,196.49 L662.0,196.58 L663.0,196.67 L664.0,196.75 L665.0,196.83 L666.0,196.91 L667.0,196.99 L668.0,197.06 L669.0,197.13 L670.0,197.20 L671.0,197.27 L672.0,197.33 L673.0,197.40 L674.0,197.46 L675.0,197.52 L676.0,197.58 L677.0,197.64 L678.0,197.69 L679.0,197.75 L680.0,197.80 L681.0,197.85 L682.0,197.90 L683.0,197.95 L684.0,198.00 L685.0,198.05 L685.0,198.32 L684.0,198.32 L683.0,198.31 L682.0,198.30 L681.0,198.29 L680.0,198.27 L679.0,198.25 L678.0,198.23 L677.0,198.21 L676.0,198.18 L675.0,198.15 L674.0,198.11 L673.0,198.07 L672.0,198.03 L671.0,197.99 L670.0,197.95 L669.0,197.90 L668.0,197.85 L667.0,197.79 L666.0,197.73 L665.0,197.67 L664.0,197.61 L663.0,197.54 L662.0,197.47 L661.0,197.40 L660.0,197.33 L659.0,197.25 L658.0,197.17 L657.0,197.09 L656.0,197.00 L655.0,196.92 L654.0,196.82 L653.0,196.73 L652.0,196.63 L651.0,196.54 L650.0,196.43 L649.0,196.33 L648.0,196.22 L647.0,196.11 L646.0,196.00 L645.0,195.89 L644.0,195.77 L643.0,195.65 L642.0,195.52 L641.0,195.40 L640.0,195.27 L639.0,195.14 L638.0,195.01 L637.0,194.87 L636.0,194.73 L635.0,194.59 L634.0,194.45 L633.0,194.30 L632.0,194.15 L631.0,194.00 L630.0,193.84 L629.0,193.68 L628.0,193.52 L627.0,193.36 L626.0,193.20 L625.0,193.03 L624.0,192.86 L623.0,192.68 L622.0,192.51 L621.0,192.33 L620.0,192.15 L619.0,191.96 L618.0,191.78 L617.0,191.59 L616.0,191.40 L615.0,191.20 L614.0,191.00 L613.0,190.80 L612.0,190.60 L611.0,190.40 L610.0,190.19 L609.0,189.98 L608.0,189.76 L607.0,189.54 L606.0,189.33 L605.0,189.10 L604.0,188.88 L603.0,188.65 L602.0,188.42 L601.0,188.18 L600.0,187.95 L599.0,187.71 L598.0,187.47 L597.0,187.22 L596.0,186.97 L595.0,186.72 L594.0,186.47 L593.0,186.21 L592.0,185.95 L591.0,185.69 L590.0,185.42 L589.0,185.15 L588.0,184.88 L587.0,184.61 L586.0,184.33 L585.0,184.05 L584.0,183.76 L583.0,183.48 L582.0,183.19 L581.0,182.89 L580.0,182.60 L579.0,182.30 L578.0,181.99 L577.0,181.69 L576.0,181.38 L575.0,181.07 L574.0,180.75 L573.0,180.43 L572.0,180.11 L571.0,179.78 L570.0,179.45 L569.0,179.12 L568.0,178.78 L567.0,178.45 L566.0,178.10 L565.0,177.76 L564.0,177.41 L563.0,177.05 L562.0,176.70 L561.0,176.34 L560.0,175.97 L559.0,175.60 L558.0,175.23 L557.0,174.86 L556.0,174.48 L555.0,174.10 L554.0,173.71 L553.0,173.32 L552.0,172.93 L551.0,172.53 L550.0,172.13 L549.0,171.73 L548.0,171.32 L547.0,170.90 L546.0,170.49 L545.0,170.07 L544.0,169.64 L543.0,169.21 L542.0,168.78 L541.0,168.35 L540.0,167.91 L539.0,167.46 L538.0,167.01 L537.0,166.56 L536.0,166.10 L535.0,165.64 L534.0,165.17 L533.0,164.70 L532.0,164.23 L531.0,163.75 L530.0,163.27 L529.0,162.78 L528.0,162.29 L527.0,161.79 L526.0,161.29 L525.0,160.78 L524.0,160.27 L523.0,159.76 L522.0,159.24 L521.0,158.71 L520.0,158.19 L519.0,157.65 L518.0,157.11 L517.0,156.57 L516.0,156.02 L515.0,155.47 L514.0,154.91 L513.0,154.35 L512.0,153.78 L511.0,153.21 L510.0,152.63 L509.0,152.05 L508.0,151.46 L507.0,150.87 L506.0,150.27 L505.0,149.66 L504.0,149.05 L503.0,148.44 L502.0,147.82 L501.0,147.19 L500.0,146.56 L499.0,145.93 L498.0,145.29 L497.0,144.64 L496.0,143.99 L495.0,143.33 L494.0,142.66 L493.0,141.99 L492.0,141.32 L491.0,140.64 L490.0,139.95 L489.0,139.26 L488.0,138.56 L487.0,137.85 L486.0,137.14 L485.0,136.42 L484.0,135.70 L483.0,134.97 L482.0,134.23 L481.0,133.49 L480.0,132.74 L479.0,131.99 L478.0,131.23 L477.0,130.46 L476.0,129.69 L475.0,128.91 L474.0,128.12 L473.0,127.33 L472.0,126.53 L471.0,125.72 L470.0,124.91 L469.0,124.09 L468.0,123.26 L467.0,122.43 L466.0,121.59 L465.0,120.74 L464.0,119.89 L463.0,119.02 L462.0,118.16 L461.0,117.28 L460.0,116.40 L459.0,115.51 L458.0,114.61 L457.0,113.70 L456.0,112.79 L455.0,111.87 L454.0,110.94 L453.0,110.01 L452.0,109.07 L451.0,108.12 L450.0,107.16 L449.0,106.19 L448.0,105.22 L447.0,104.24 L446.0,103.25 L445.0,102.25 L444.0,101.24 L443.0,100.23 L442.0,99.21 L441.0,98.18 L440.0,97.14 L439.0,96.09 L438.0,95.04 L437.0,93.97 L436.0,92.90 L435.0,91.82 L434.0,90.73 L433.0,89.63 L432.0,88.53 L431.0,87.41 L430.0,86.29 L429.0,85.15 L428.0,84.01 L427.0,82.86 L426.0,81.70 L425.0,80.53 L424.0,79.35 L423.0,78.16 L422.0,76.97 L421.0,75.76 L420.0,74.54 L419.0,73.32 L418.0,72.08 L417.0,70.84 L416.0,69.58 L415.0,68.32 L414.0,67.04 L413.0,65.76 L412.0,64.46 L411.0,63.16 L410.0,61.84 L409.0,60.52 L408.0,59.18 L407.0,57.84 L406.0,56.48 L405.0,55.12 L404.0,53.74 L403.0,52.35 L402.0,50.95 L401.0,49.54 Z" fill="url(#hatch)"/>
<path d="M401.0,39.25 L402.0,40.68 L403.0,42.11 L404.0,43.52 L405.0,44.93 L406.0,46.33 L407.0,47.72 L408.0,49.11 L409.0,50.49 L410.0,51.86 L411.0,53.22 L412.0,54.58 L413.0,55.93 L414.0,57.27 L415.0,58.60 L416.0,59.92 L417.0,61.24 L418.0,62.54 L419.0,63.84 L420.0,65.13 L421.0,66.42 L422.0,67.69 L423.0,68.95 L424.0,70.21 L425.0,71.46 L426.0,72.70 L427.0,73.93 L428.0,75.15 L429.0,76.36 L430.0,77.57 L431.0,78.76 L432.0,79.95 L433.0,81.13 L434.0,82.30 L435.0,83.46 L436.0,84.61 L437.0,85.75 L438.0,86.88 L439.0,88.01 L440.0,89.12 L441.0,90.23 L442.0,91.33 L443.0,92.42 L444.0,93.50 L445.0,94.57 L446.0,95.63 L447.0,96.68 L448.0,97.73 L449.0,98.77 L450.0,99.79 L451.0,100.81 L452.0,101.82 L453.0,102.83 L454.0,103.82 L455.0,104.80 L456.0,105.78 L457.0,106.75 L458.0,107.71 L459.0,108.66 L460.0,109.60 L461.0,110.54 L462.0,111.46 L463.0,112.38 L464.0,113.29 L465.0,114.19 L466.0,115.09 L467.0,115.97 L468.0,116.85 L469.0,117.72 L470.0,118.58 L471.0,119.44 L472.0,120.28 L473.0,121.12 L474.0,121.95 L475.0,122.78 L476.0,123.60 L477.0,124.40 L478.0,125.21 L479.0,126.00 L480.0,126.79 L481.0,127.57 L482.0,128.34 L483.0,129.11 L484.0,129.87 L485.0,130.62 L486.0,131.36 L487.0,132.10 L488.0,132.84 L489.0,133.56 L490.0,134.28 L491.0,134.99 L492.0,135.70 L493.0,136.40 L494.0,137.09 L495.0,137.78 L496.0,138.46 L497.0,139.13 L498.0,139.80 L499.0,140.46 L500.0,141.12 L501.0,141.77 L502.0,142.41 L503.0,143.05 L504.0,143.69 L505.0,144.32 L506.0,144.94 L507.0,145.55 L508.0,146.17 L509.0,146.77 L510.0,147.37 L511.0,147.97 L512.0,148.56 L513.0,149.14 L514.0,149.72 L515.0,150.30 L516.0,150.87 L517.0,151.44 L518.0,152.00 L519.0,152.55 L520.0,153.10 L521.0,153.65 L522.0,154.19 L523.0,154.73 L524.0,155.26 L525.0,155.79 L526.0,156.32 L527.0,156.84 L528.0,157.35 L529.0,157.86 L530.0,158.37 L531.0,158.87 L532.0,159.37 L533.0,159.87 L534.0,160.36 L535.0,160.84 L536.0,161.33 L537.0,161.81 L538.0,162.28 L539.0,162.75 L540.0,163.22 L541.0,163.68 L542.0,164.15 L543.0,164.60 L544.0,165.05 L545.0,165.50 L546.0,165.95 L547.0,166.39 L548.0,166.83 L549.0,167.27 L550.0,167.70 L551.0,168.13 L552.0,168.55 L553.0,168.98 L554.0,169.39 L555.0,169.81 L556.0,170.22 L557.0,170.63 L558.0,171.04 L559.0,171.44 L560.0,171.84 L561.0,172.24 L562.0,172.63 L563.0,173.02 L564.0,173.41 L565.0,173.79 L566.0,174.17 L567.0,174.55 L568.0,174.92 L569.0,175.29 L570.0,175.66 L571.0,176.03 L572.0,176.39 L573.0,176.75 L574.0,177.11 L575.0,177.46 L576.0,177.81 L577.0,178.16 L578.0,178.51 L579.0,178.85 L580.0,179.19 L581.0,179.52 L582.0,179.86 L583.0,180.19 L584.0,180.51 L585.0,180.84 L586.0,181.16 L587.0,181.48 L588.0,181.79 L589.0,182.11 L590.0,182.42 L591.0,182.72 L592.0,183.03 L593.0,183.33 L594.0,183.62 L595.0,183.92 L596.0,184.21 L597.0,184.50 L598.0,184.78 L599.0,185.07 L600.0,185.35 L601.0,185.62 L602.0,185.90 L603.0,186.17 L604.0,186.44 L605.0,186.70 L606.0,186.96 L607.0,187.22 L608.0,187.48 L609.0,187.73 L610.0,187.98 L611.0,188.22 L612.0,188.47 L613.0,188.71 L614.0,188.94 L615.0,189.18 L616.0,189.41 L617.0,189.63 L618.0,189.86 L619.0,190.08 L620.0,190.30 L621.0,190.51 L622.0,190.72 L623.0,190.93 L624.0,191.14 L625.0,191.34 L626.0,191.54 L627.0,191.73 L628.0,191.92 L629.0,192.11 L630.0,192.30 L631.0,192.48 L632.0,192.66 L633.0,192.84 L634.0,193.01 L635.0,193.18 L636.0,193.35 L637.0,193.51 L638.0,193.67 L639.0,193.83 L640.0,193.98 L641.0,194.13 L642.0,194.28 L643.0,194.42 L644.0,194.56 L645.0,194.70 L646.0,194.83 L647.0,194.96 L648.0,195.09 L649.0,195.22 L650.0,195.34 L651.0,195.46 L652.0,195.58 L653.0,195.69 L654.0,195.80 L655.0,195.91 L656.0,196.01 L657.0,196.11 L658.0,196.21 L659.0,196.31 L660.0,196.40 L661.0,196.49 L662.0,196.58 L663.0,196.67 L664.0,196.75 L665.0,196.83 L666.0,196.91 L667.0,196.99 L668.0,197.06 L669.0,197.13 L670.0,197.20 L671.0,197.27 L672.0,197.33 L673.0,197.40 L674.0,197.46 L675.0,197.52 L676.0,197.58 L677.0,197.64 L678.0,197.69 L679.0,197.75 L680.0,197.80 L681.0,197.85 L682.0,197.90 L683.0,197.95 L684.0,198.00 L685.0,198.05 L685.0,198.32 L684.0,198.32 L683.0,198.31 L682.0,198.30 L681.0,198.29 L680.0,198.27 L679.0,198.25 L678.0,198.23 L677.0,198.21 L676.0,198.18 L675.0,198.15 L674.0,198.11 L673.0,198.07 L672.0,198.03 L671.0,197.99 L670.0,197.95 L669.0,197.90 L668.0,197.85 L667.0,197.79 L666.0,197.73 L665.0,197.67 L664.0,197.61 L663.0,197.54 L662.0,197.47 L661.0,197.40 L660.0,197.33 L659.0,197.25 L658.0,197.17 L657.0,197.09 L656.0,197.00 L655.0,196.92 L654.0,196.82 L653.0,196.73 L652.0,196.63 L651.0,196.54 L650.0,196.43 L649.0,196.33 L648.0,196.22 L647.0,196.11 L646.0,196.00 L645.0,195.89 L644.0,195.77 L643.0,195.65 L642.0,195.52 L641.0,195.40 L640.0,195.27 L639.0,195.14 L638.0,195.01 L637.0,194.87 L636.0,194.73 L635.0,194.59 L634.0,194.45 L633.0,194.30 L632.0,194.15 L631.0,194.00 L630.0,193.84 L629.0,193.68 L628.0,193.52 L627.0,193.36 L626.0,193.20 L625.0,193.03 L624.0,192.86 L623.0,192.68 L622.0,192.51 L621.0,192.33 L620.0,192.15 L619.0,191.96 L618.0,191.78 L617.0,191.59 L616.0,191.40 L615.0,191.20 L614.0,191.00 L613.0,190.80 L612.0,190.60 L611.0,190.40 L610.0,190.19 L609.0,189.98 L608.0,189.76 L607.0,189.54 L606.0,189.33 L605.0,189.10 L604.0,188.88 L603.0,188.65 L602.0,188.42 L601.0,188.18 L600.0,187.95 L599.0,187.71 L598.0,187.47 L597.0,187.22 L596.0,186.97 L595.0,186.72 L594.0,186.47 L593.0,186.21 L592.0,185.95 L591.0,185.69 L590.0,185.42 L589.0,185.15 L588.0,184.88 L587.0,184.61 L586.0,184.33 L585.0,184.05 L584.0,183.76 L583.0,183.48 L582.0,183.19 L581.0,182.89 L580.0,182.60 L579.0,182.30 L578.0,181.99 L577.0,181.69 L576.0,181.38 L575.0,181.07 L574.0,180.75 L573.0,180.43 L572.0,180.11 L571.0,179.78 L570.0,179.45 L569.0,179.12 L568.0,178.78 L567.0,178.45 L566.0,178.10 L565.0,177.76 L564.0,177.41 L563.0,177.05 L562.0,176.70 L561.0,176.34 L560.0,175.97 L559.0,175.60 L558.0,175.23 L557.0,174.86 L556.0,174.48 L555.0,174.10 L554.0,173.71 L553.0,173.32 L552.0,172.93 L551.0,172.53 L550.0,172.13 L549.0,171.73 L548.0,171.32 L547.0,170.90 L546.0,170.49 L545.0,170.07 L544.0,169.64 L543.0,169.21 L542.0,168.78 L541.0,168.35 L540.0,167.91 L539.0,167.46 L538.0,167.01 L537.0,166.56 L536.0,166.10 L535.0,165.64 L534.0,165.17 L533.0,164.70 L532.0,164.23 L531.0,163.75 L530.0,163.27 L529.0,162.78 L528.0,162.29 L527.0,161.79 L526.0,161.29 L525.0,160.78 L524.0,160.27 L523.0,159.76 L522.0,159.24 L521.0,158.71 L520.0,158.19 L519.0,157.65 L518.0,157.11 L517.0,156.57 L516.0,156.02 L515.0,155.47 L514.0,154.91 L513.0,154.35 L512.0,153.78 L511.0,153.21 L510.0,152.63 L509.0,152.05 L508.0,151.46 L507.0,150.87 L506.0,150.27 L505.0,149.66 L504.0,149.05 L503.0,148.44 L502.0,147.82 L501.0,147.19 L500.0,146.56 L499.0,145.93 L498.0,145.29 L497.0,144.64 L496.0,143.99 L495.0,143.33 L494.0,142.66 L493.0,141.99 L492.0,141.32 L491.0,140.64 L490.0,139.95 L489.0,139.26 L488.0,138.56 L487.0,137.85 L486.0,137.14 L485.0,136.42 L484.0,135.70 L483.0,134.97 L482.0,134.23 L481.0,133.49 L480.0,132.74 L479.0,131.99 L478.0,131.23 L477.0,130.46 L476.0,129.69 L475.0,128.91 L474.0,128.12 L473.0,127.33 L472.0,126.53 L471.0,125.72 L470.0,124.91 L469.0,124.09 L468.0,123.26 L467.0,122.43 L466.0,121.59 L465.0,120.74 L464.0,119.89 L463.0,119.02 L462.0,118.16 L461.0,117.28 L460.0,116.40 L459.0,115.51 L458.0,114.61 L457.0,113.70 L456.0,112.79 L455.0,111.87 L454.0,110.94 L453.0,110.01 L452.0,109.07 L451.0,108.12 L450.0,107.16 L449.0,106.19 L448.0,105.22 L447.0,104.24 L446.0,103.25 L445.0,102.25 L444.0,101.24 L443.0,100.23 L442.0,99.21 L441.0,98.18 L440.0,97.14 L439.0,96.09 L438.0,95.04 L437.0,93.97 L436.0,92.90 L435.0,91.82 L434.0,90.73 L433.0,89.63 L432.0,88.53 L431.0,87.41 L430.0,86.29 L429.0,85.15 L428.0,84.01 L427.0,82.86 L426.0,81.70 L425.0,80.53 L424.0,79.35 L423.0,78.16 L422.0,76.97 L421.0,75.76 L420.0,74.54 L419.0,73.32 L418.0,72.08 L417.0,70.84 L416.0,69.58 L415.0,68.32 L414.0,67.04 L413.0,65.76 L412.0,64.46 L411.0,63.16 L410.0,61.84 L409.0,60.52 L408.0,59.18 L407.0,57.84 L406.0,56.48 L405.0,55.12 L404.0,53.74 L403.0,52.35 L402.0,50.95 L401.0,49.54 Z" fill="#1ec8e6"/>
<path d="M401.0,39.25 L402.0,40.68 L403.0,42.11 L404.0,43.52 L405.0,44.93 L406.0,46.33 L407.0,47.72 L408.0,49.11 L409.0,50.49 L410.0,51.86 L411.0,53.22 L412.0,54.58 L413.0,55.93 L414.0,57.27 L415.0,58.60 L416.0,59.92 L417.0,61.24 L418.0,62.54 L419.0,63.84 L420.0,65.13 L421.0,66.42 L422.0,67.69 L423.0,68.95 L424.0,70.21 L425.0,71.46 L426.0,72.70 L427.0,73.93 L428.0,75.15 L429.0,76.36 L430.0,77.57 L431.0,78.76 L432.0,79.95 L433.0,81.13 L434.0,82.30 L435.0,83.46 L436.0,84.61 L437.0,85.75 L438.0,86.88 L439.0,88.01 L440.0,89.12 L441.0,90.23 L442.0,91.33 L443.0,92.42 L444.0,93.50 L445.0,94.57 L446.0,95.63 L447.0,96.68 L448.0,97.73 L449.0,98.77 L450.0,99.79 L451.0,100.81 L452.0,101.82 L453.0,102.83 L454.0,103.82 L455.0,104.80 L456.0,105.78 L457.0,106.75 L458.0,107.71 L459.0,108.66 L460.0,109.60 L461.0,110.54 L462.0,111.46 L463.0,112.38 L464.0,113.29 L465.0,114.19 L466.0,115.09 L467.0,115.97 L468.0,116.85 L469.0,117.72 L470.0,118.58 L471.0,119.44 L472.0,120.28 L473.0,121.12 L474.0,121.95 L475.0,122.78 L476.0,123.60 L477.0,124.40 L478.0,125.21 L479.0,126.00 L480.0,126.79 L481.0,127.57 L482.0,128.34 L483.0,129.11 L484.0,129.87 L485.0,130.62 L486.0,131.36 L487.0,132.10 L488.0,132.84 L489.0,133.56 L490.0,134.28 L491.0,134.99 L492.0,135.70 L493.0,136.40 L494.0,137.09 L495.0,137.78 L496.0,138.46 L497.0,139.13 L498.0,139.80 L499.0,140.46 L500.0,141.12 L501.0,141.77 L502.0,142.41 L503.0,143.05 L504.0,143.69 L505.0,144.32 L506.0,144.94 L507.0,145.55 L508.0,146.17 L509.0,146.77 L510.0,147.37 L511.0,147.97 L512.0,148.56 L513.0,149.14 L514.0,149.72 L515.0,150.30 L516.0,150.87 L517.0,151.44 L518.0,152.00 L519.0,152.55 L520.0,153.10 L521.0,153.65 L522.0,154.19 L523.0,154.73 L524.0,155.26 L525.0,155.79 L526.0,156.32 L527.0,156.84 L528.0,157.35 L529.0,157.86 L530.0,158.37 L531.0,158.87 L532.0,159.37 L533.0,159.87 L534.0,160.36 L535.0,160.84 L536.0,161.33 L537.0,161.81 L538.0,162.28 L539.0,162.75 L540.0,163.22 L541.0,163.68 L542.0,164.15 L543.0,164.60 L544.0,165.05 L545.0,165.50 L546.0,165.95 L547.0,166.39 L548.0,166.83 L549.0,167.27 L550.0,167.70 L551.0,168.13 L552.0,168.55 L553.0,168.98 L554.0,169.39 L555.0,169.81 L556.0,170.22 L557.0,170.63 L558.0,171.04 L559.0,171.44 L560.0,171.84 L561.0,172.24 L562.0,172.63 L563.0,173.02 L564.0,173.41 L565.0,173.79 L566.0,174.17 L567.0,174.55 L568.0,174.92 L569.0,175.29 L570.0,175.66 L571.0,176.03 L572.0,176.39 L573.0,176.75 L574.0,177.11 L575.0,177.46 L576.0,177.81 L577.0,178.16 L578.0,178.51 L579.0,178.85 L580.0,179.19 L581.0,179.52 L582.0,179.86 L583.0,180.19 L584.0,180.51 L585.0,180.84 L586.0,181.16 L587.0,181.48 L588.0,181.79 L589.0,182.11 L590.0,182.42 L591.0,182.72 L592.0,183.03 L593.0,183.33 L594.0,183.62 L595.0,183.92 L596.0,184.21 L597.0,184.50 L598.0,184.78 L599.0,185.07 L600.0,185.35 L601.0,185.62 L602.0,185.90 L603.0,186.17 L604.0,186.44 L605.0,186.70 L606.0,186.96 L607.0,187.22 L608.0,187.48 L609.0,187.73 L610.0,187.98 L611.0,188.22 L612.0,188.47 L613.0,188.71 L614.0,188.94 L615.0,189.18 L616.0,189.41 L617.0,189.63 L618.0,189.86 L619.0,190.08 L620.0,190.30 L621.0,190.51 L622.0,190.72 L623.0,190.93 L624.0,191.14 L625.0,191.34 L626.0,191.54 L627.0,191.73 L628.0,191.92 L629.0,192.11 L630.0,192.30 L631.0,192.48 L632.0,192.66 L633.0,192.84 L634.0,193.01 L635.0,193.18 L636.0,193.35 L637.0,193.51 L638.0,193.67 L639.0,193.83 L640.0,193.98 L641.0,194.13 L642.0,194.28 L643.0,194.42 L644.0,194.56 L645.0,194.70 L646.0,194.83 L647.0,194.96 L648.0,195.09 L649.0,195.22 L650.0,195.34 L651.0,195.46 L652.0,195.58 L653.0,195.69 L654.0,195.80 L655.0,195.91 L656.0,196.01 L657.0,196.11 L658.0,196.21 L659.0,196.31 L660.0,196.40 L661.0,196.49 L662.0,196.58 L663.0,196.67 L664.0,196.75 L665.0,196.83 L666.0,196.91 L667.0,196.99 L668.0,197.06 L669.0,197.13 L670.0,197.20 L671.0,197.27 L672.0,197.33 L673.0,197.40 L674.0,197.46 L675.0,197.52 L676.0,197.58 L677.0,197.64 L678.0,197.69 L679.0,197.75 L680.0,197.80 L681.0,197.85 L682.0,197.90 L683.0,197.95 L684.0,198.00 L685.0,198.05 L685.0,198.32 L684.0,198.32 L683.0,198.31 L682.0,198.30 L681.0,198.29 L680.0,198.27 L679.0,198.25 L678.0,198.23 L677.0,198.21 L676.0,198.18 L675.0,198.15 L674.0,198.11 L673.0,198.07 L672.0,198.03 L671.0,197.99 L670.0,197.95 L669.0,197.90 L668.0,197.85 L667.0,197.79 L666.0,197.73 L665.0,197.67 L664.0,197.61 L663.0,197.54 L662.0,197.47 L661.0,197.40 L660.0,197.33 L659.0,197.25 L658.0,197.17 L657.0,197.09 L656.0,197.00 L655.0,196.92 L654.0,196.82 L653.0,196.73 L652.0,196.63 L651.0,196.54 L650.0,196.43 L649.0,196.33 L648.0,196.22 L647.0,196.11 L646.0,196.00 L645.0,195.89 L644.0,195.77 L643.0,195.65 L642.0,195.52 L641.0,195.40 L640.0,195.27 L639.0,195.14 L638.0,195.01 L637.0,194.87 L636.0,194.73 L635.0,194.59 L634.0,194.45 L633.0,194.30 L632.0,194.15 L631.0,194.00 L630.0,193.84 L629.0,193.68 L628.0,193.52 L627.0,193.36 L626.0,193.20 L625.0,193.03 L624.0,192.86 L623.0,192.68 L622.0,192.51 L621.0,192.33 L620.0,192.15 L619.0,191.96 L618.0,191.78 L617.0,191.59 L616.0,191.40 L615.0,191.20 L614.0,191.00 L613.0,190.80 L612.0,190.60 L611.0,190.40 L610.0,190.19 L609.0,189.98 L608.0,189.76 L607.0,189.54 L606.0,189.33 L605.0,189.10 L604.0,188.88 L603.0,188.65 L602.0,188.42 L601.0,188.18 L600.0,187.95 L599.0,187.71 L598.0,187.47 L597.0,187.22 L596.0,186.97 L595.0,186.72 L594.0,186.47 L593.0,186.21 L592.0,185.95 L591.0,185.69 L590.0,185.42 L589.0,185.15 L588.0,184.88 L587.0,184.61 L586.0,184.33 L585.0,184.05 L584.0,183.76 L583.0,183.48 L582.0,183.19 L581.0,182.89 L580.0,182.60 L579.0,182.30 L578.0,181.99 L577.0,181.69 L576.0,181.38 L575.0,181.07 L574.0,180.75 L573.0,180.43 L572.0,180.11 L571.0,179.78 L570.0,179.45 L569.0,179.12 L568.0,178.78 L567.0,178.45 L566.0,178.10 L565.0,177.76 L564.0,177.41 L563.0,177.05 L562.0,176.70 L561.0,176.34 L560.0,175.97 L559.0,175.60 L558.0,175.23 L557.0,174.86 L556.0,174.48 L555.0,174.10 L554.0,173.71 L553.0,173.32 L552.0,172.93 L551.0,172.53 L550.0,172.13 L549.0,171.73 L548.0,171.32 L547.0,170.90 L546.0,170.49 L545.0,170.07 L544.0,169.64 L543.0,169.21 L542.0,168.78 L541.0,168.35 L540.0,167.91 L539.0,167.46 L538.0,167.01 L537.0,166.56 L536.0,166.10 L535.0,165.64 L534.0,165.17 L533.0,164.70 L532.0,164.23 L531.0,163.75 L530.0,163.27 L529.0,162.78 L528.0,162.29 L527.0,161.79 L526.0,161.29 L525.0,160.78 L524.0,160.27 L523.0,159.76 L522.0,159.24 L521.0,158.71 L520.0,158.19 L519.0,157.65 L518.0,157.11 L517.0,156.57 L516.0,156.02 L515.0,155.47 L514.0,154.91 L513.0,154.35 L512.0,153.78 L511.0,153.21 L510.0,152.63 L509.0,152.05 L508.0,151.46 L507.0,150.87 L506.0,150.27 L505.0,149.66 L504.0,149.05 L503.0,148.44 L502.0,147.82 L501.0,147.19 L500.0,146.56 L499.0,145.93 L498.0,145.29 L497.0,144.64 L496.0,143.99 L495.0,143.33 L494.0,142.66 L493.0,141.99 L492.0,141.32 L491.0,140.64 L490.0,139.95 L489.0,139.26 L488.0,138.56 L487.0,137.85 L486.0,137.14 L485.0,136.42 L484.0,135.70 L483.0,134.97 L482.0,134.23 L481.0,133.49 L480.0,132.74 L479.0,131.99 L478.0,131.23 L477.0,130.46 L476.0,129.69 L475.0,128.91 L474.0,128.12 L473.0,127.33 L472.0,126.53 L471.0,125.72 L470.0,124.91 L469.0,124.09 L468.0,123.26 L467.0,122.43 L466.0,121.59 L465.0,120.74 L464.0,119.89 L463.0,119.02 L462.0,118.16 L461.0,117.28 L460.0,116.40 L459.0,115.51 L458.0,114.61 L457.0,113.70 L456.0,112.79 L455.0,111.87 L454.0,110.94 L453.0,110.01 L452.0,109.07 L451.0,108.12 L450.0,107.16 L449.0,106.19 L448.0,105.22 L447.0,104.24 L446.0,103.25 L445.0,102.25 L444.0,101.24 L443.0,100.23 L442.0,99.21 L441.0,98.18 L440.0,97.14 L439.0,96.09 L438.0,95.04 L437.0,93.97 L436.0,92.90 L435.0,91.82 L434.0,90.73 L433.0,89.63 L432.0,88.53 L431.0,87.41 L430.0,86.29 L429.0,85.15 L428.0,84.01 L427.0,82.86 L426.0,81.70 L425.0,80.53 L424.0,79.35 L423.0,78.16 L422.0,76.97 L421.0,75.76 L420.0,74.54 L419.0,73.32 L418.0,72.08 L417.0,70.84 L416.0,69.58 L415.0,68.32 L414.0,67.04 L413.0,65.76 L412.0,64.46 L411.0,63.16 L410.0,61.84 L409.0,60.52 L408.0,59.18 L407.0,57.84 L406.0,56.48 L405.0,55.12 L404.0,53.74 L403.0,52.35 L402.0,50.95 L401.0,49.54 Z" fill="url(#hatchC)" clip-path="url(#cRuc)"/>
<path d="M401.0,39.25 L402.0,40.68 L403.0,42.11 L404.0,43.52 L405.0,44.93 L406.0,46.33 L407.0,47.72 L408.0,49.11 L409.0,50.49 L410.0,51.86 L411.0,53.22 L412.0,54.58 L413.0,55.93 L414.0,57.27 L415.0,58.60 L416.0,59.92 L417.0,61.24 L418.0,62.54 L419.0,63.84 L420.0,65.13 L421.0,66.42 L422.0,67.69 L423.0,68.95 L424.0,70.21 L425.0,71.46 L426.0,72.70 L427.0,73.93 L428.0,75.15 L429.0,76.36 L430.0,77.57 L431.0,78.76 L432.0,79.95 L433.0,81.13 L434.0,82.30 L435.0,83.46 L436.0,84.61 L437.0,85.75 L438.0,86.88 L439.0,88.01 L440.0,89.12 L441.0,90.23 L442.0,91.33 L443.0,92.42 L444.0,93.50 L445.0,94.57 L446.0,95.63 L447.0,96.68 L448.0,97.73 L449.0,98.77 L450.0,99.79 L451.0,100.81 L452.0,101.82 L453.0,102.83 L454.0,103.82 L455.0,104.80 L456.0,105.78 L457.0,106.75 L458.0,107.71 L459.0,108.66 L460.0,109.60 L461.0,110.54 L462.0,111.46 L463.0,112.38 L464.0,113.29 L465.0,114.19 L466.0,115.09 L467.0,115.97 L468.0,116.85 L469.0,117.72 L470.0,118.58 L471.0,119.44 L472.0,120.28 L473.0,121.12 L474.0,121.95 L475.0,122.78 L476.0,123.60 L477.0,124.40 L478.0,125.21 L479.0,126.00 L480.0,126.79 L481.0,127.57 L482.0,128.34 L483.0,129.11 L484.0,129.87 L485.0,130.62 L486.0,131.36 L487.0,132.10 L488.0,132.84 L489.0,133.56 L490.0,134.28 L491.0,134.99 L492.0,135.70 L493.0,136.40 L494.0,137.09 L495.0,137.78 L496.0,138.46 L497.0,139.13 L498.0,139.80 L499.0,140.46 L500.0,141.12 L501.0,141.77 L502.0,142.41 L503.0,143.05 L504.0,143.69 L505.0,144.32 L506.0,144.94 L507.0,145.55 L508.0,146.17 L509.0,146.77 L510.0,147.37 L511.0,147.97 L512.0,148.56 L513.0,149.14 L514.0,149.72 L515.0,150.30 L516.0,150.87 L517.0,151.44 L518.0,152.00 L519.0,152.55 L520.0,153.10 L521.0,153.65 L522.0,154.19 L523.0,154.73 L524.0,155.26 L525.0,155.79 L526.0,156.32 L527.0,156.84 L528.0,157.35 L529.0,157.86 L530.0,158.37 L531.0,158.87 L532.0,159.37 L533.0,159.87 L534.0,160.36 L535.0,160.84 L536.0,161.33 L537.0,161.81 L538.0,162.28 L539.0,162.75 L540.0,163.22 L541.0,163.68 L542.0,164.15 L543.0,164.60 L544.0,165.05 L545.0,165.50 L546.0,165.95 L547.0,166.39 L548.0,166.83 L549.0,167.27 L550.0,167.70 L551.0,168.13 L552.0,168.55 L553.0,168.98 L554.0,169.39 L555.0,169.81 L556.0,170.22 L557.0,170.63 L558.0,171.04 L559.0,171.44 L560.0,171.84 L561.0,172.24 L562.0,172.63 L563.0,173.02 L564.0,173.41 L565.0,173.79 L566.0,174.17 L567.0,174.55 L568.0,174.92 L569.0,175.29 L570.0,175.66 L571.0,176.03 L572.0,176.39 L573.0,176.75 L574.0,177.11 L575.0,177.46 L576.0,177.81 L577.0,178.16 L578.0,178.51 L579.0,178.85 L580.0,179.19 L581.0,179.52 L582.0,179.86 L583.0,180.19 L584.0,180.51 L585.0,180.84 L586.0,181.16 L587.0,181.48 L588.0,181.79 L589.0,182.11 L590.0,182.42 L591.0,182.72 L592.0,183.03 L593.0,183.33 L594.0,183.62 L595.0,183.92 L596.0,184.21 L597.0,184.50 L598.0,184.78 L599.0,185.07 L600.0,185.35 L601.0,185.62 L602.0,185.90 L603.0,186.17 L604.0,186.44 L605.0,186.70 L606.0,186.96 L607.0,187.22 L608.0,187.48 L609.0,187.73 L610.0,187.98 L611.0,188.22 L612.0,188.47 L613.0,188.71 L614.0,188.94 L615.0,189.18 L616.0,189.41 L617.0,189.63 L618.0,189.86 L619.0,190.08 L620.0,190.30 L621.0,190.51 L622.0,190.72 L623.0,190.93 L624.0,191.14 L625.0,191.34 L626.0,191.54 L627.0,191.73 L628.0,191.92 L629.0,192.11 L630.0,192.30 L631.0,192.48 L632.0,192.66 L633.0,192.84 L634.0,193.01 L635.0,193.18 L636.0,193.35 L637.0,193.51 L638.0,193.67 L639.0,193.83 L640.0,193.98 L641.0,194.13 L642.0,194.28 L643.0,194.42 L644.0,194.56 L645.0,194.70 L646.0,194.83 L647.0,194.96 L648.0,195.09 L649.0,195.22 L650.0,195.34 L651.0,195.46 L652.0,195.58 L653.0,195.69 L654.0,195.80 L655.0,195.91 L656.0,196.01 L657.0,196.11 L658.0,196.21 L659.0,196.31 L660.0,196.40 L661.0,196.49 L662.0,196.58 L663.0,196.67 L664.0,196.75 L665.0,196.83 L666.0,196.91 L667.0,196.99 L668.0,197.06 L669.0,197.13 L670.0,197.20 L671.0,197.27 L672.0,197.33 L673.0,197.40 L674.0,197.46 L675.0,197.52 L676.0,197.58 L677.0,197.64 L678.0,197.69 L679.0,197.75 L680.0,197.80 L681.0,197.85 L682.0,197.90 L683.0,197.95 L684.0,198.00 L685.0,198.05" fill="none" stroke="#1010ff" stroke-width="0.9"/>
<path d="M401.0,49.54 L402.0,50.95 L403.0,52.35 L404.0,53.74 L405.0,55.12 L406.0,56.48 L407.0,57.84 L408.0,59.18 L409.0,60.52 L410.0,61.84 L411.0,63.16 L412.0,64.46 L413.0,65.76 L414.0,67.04 L415.0,68.32 L416.0,69.58 L417.0,70.84 L418.0,72.08 L419.0,73.32 L420.0,74.54 L421.0,75.76 L422.0,76.97 L423.0,78.16 L424.0,79.35 L425.0,80.53 L426.0,81.70 L427.0,82.86 L428.0,84.01 L429.0,85.15 L430.0,86.29 L431.0,87.41 L432.0,88.53 L433.0,89.63 L434.0,90.73 L435.0,91.82 L436.0,92.90 L437.0,93.97 L438.0,95.04 L439.0,96.09 L440.0,97.14 L441.0,98.18 L442.0,99.21 L443.0,100.23 L444.0,101.24 L445.0,102.25 L446.0,103.25 L447.0,104.24 L448.0,105.22 L449.0,106.19 L450.0,107.16 L451.0,108.12 L452.0,109.07 L453.0,110.01 L454.0,110.94 L455.0,111.87 L456.0,112.79 L457.0,113.70 L458.0,114.61 L459.0,115.51 L460.0,116.40 L461.0,117.28 L462.0,118.16 L463.0,119.02 L464.0,119.89 L465.0,120.74 L466.0,121.59 L467.0,122.43 L468.0,123.26 L469.0,124.09 L470.0,124.91 L471.0,125.72 L472.0,126.53 L473.0,127.33 L474.0,128.12 L475.0,128.91 L476.0,129.69 L477.0,130.46 L478.0,131.23 L479.0,131.99 L480.0,132.74 L481.0,133.49 L482.0,134.23 L483.0,134.97 L484.0,135.70 L485.0,136.42 L486.0,137.14 L487.0,137.85 L488.0,138.56 L489.0,139.26 L490.0,139.95 L491.0,140.64 L492.0,141.32 L493.0,141.99 L494.0,142.66 L495.0,143.33 L496.0,143.99 L497.0,144.64 L498.0,145.29 L499.0,145.93 L500.0,146.56 L501.0,147.19 L502.0,147.82 L503.0,148.44 L504.0,149.05 L505.0,149.66 L506.0,150.27 L507.0,150.87 L508.0,151.46 L509.0,152.05 L510.0,152.63 L511.0,153.21 L512.0,153.78 L513.0,154.35 L514.0,154.91 L515.0,155.47 L516.0,156.02 L517.0,156.57 L518.0,157.11 L519.0,157.65 L520.0,158.19 L521.0,158.71 L522.0,159.24 L523.0,159.76 L524.0,160.27 L525.0,160.78 L526.0,161.29 L527.0,161.79 L528.0,162.29 L529.0,162.78 L530.0,163.27 L531.0,163.75 L532.0,164.23 L533.0,164.70 L534.0,165.17 L535.0,165.64 L536.0,166.10 L537.0,166.56 L538.0,167.01 L539.0,167.46 L540.0,167.91 L541.0,168.35 L542.0,168.78 L543.0,169.21 L544.0,169.64 L545.0,170.07 L546.0,170.49 L547.0,170.90 L548.0,171.32 L549.0,171.73 L550.0,172.13 L551.0,172.53 L552.0,172.93 L553.0,173.32 L554.0,173.71 L555.0,174.10 L556.0,174.48 L557.0,174.86 L558.0,175.23 L559.0,175.60 L560.0,175.97 L561.0,176.34 L562.0,176.70 L563.0,177.05 L564.0,177.41 L565.0,177.76 L566.0,178.10 L567.0,178.45 L568.0,178.78 L569.0,179.12 L570.0,179.45 L571.0,179.78 L572.0,180.11 L573.0,180.43 L574.0,180.75 L575.0,181.07 L576.0,181.38 L577.0,181.69 L578.0,181.99 L579.0,182.30 L580.0,182.60 L581.0,182.89 L582.0,183.19 L583.0,183.48 L584.0,183.76 L585.0,184.05 L586.0,184.33 L587.0,184.61 L588.0,184.88 L589.0,185.15 L590.0,185.42 L591.0,185.69 L592.0,185.95 L593.0,186.21 L594.0,186.47 L595.0,186.72 L596.0,186.97 L597.0,187.22 L598.0,187.47 L599.0,187.71 L600.0,187.95 L601.0,188.18 L602.0,188.42 L603.0,188.65 L604.0,188.88 L605.0,189.10 L606.0,189.33 L607.0,189.54 L608.0,189.76 L609.0,189.98 L610.0,190.19 L611.0,190.40 L612.0,190.60 L613.0,190.80 L614.0,191.00 L615.0,191.20 L616.0,191.40 L617.0,191.59 L618.0,191.78 L619.0,191.96 L620.0,192.15 L621.0,192.33 L622.0,192.51 L623.0,192.68 L624.0,192.86 L625.0,193.03 L626.0,193.20 L627.0,193.36 L628.0,193.52 L629.0,193.68 L630.0,193.84 L631.0,194.00 L632.0,194.15 L633.0,194.30 L634.0,194.45 L635.0,194.59 L636.0,194.73 L637.0,194.87 L638.0,195.01 L639.0,195.14 L640.0,195.27 L641.0,195.40 L642.0,195.52 L643.0,195.65 L644.0,195.77 L645.0,195.89 L646.0,196.00 L647.0,196.11 L648.0,196.22 L649.0,196.33 L650.0,196.43 L651.0,196.54 L652.0,196.63 L653.0,196.73 L654.0,196.82 L655.0,196.92 L656.0,197.00 L657.0,197.09 L658.0,197.17 L659.0,197.25 L660.0,197.33 L661.0,197.40 L662.0,197.47 L663.0,197.54 L664.0,197.61 L665.0,197.67 L666.0,197.73 L667.0,197.79 L668.0,197.85 L669.0,197.90 L670.0,197.95 L671.0,197.99 L672.0,198.03 L673.0,198.07 L674.0,198.11 L675.0,198.15 L676.0,198.18 L677.0,198.21 L678.0,198.23 L679.0,198.25 L680.0,198.27 L681.0,198.29 L682.0,198.30 L683.0,198.31 L684.0,198.32 L685.0,198.32" fill="none" stroke="#1010ff" stroke-width="0.9"/>
</g>
<clipPath id="cRlc"><path d="M401.0,233.30 L402.0,234.28 L403.0,235.28 L404.0,235.79 L405.0,235.80 L406.0,235.78 L407.0,235.76 L408.0,235.73 L409.0,235.69 L410.0,235.65 L411.0,235.60 L412.0,235.55 L413.0,235.49 L414.0,235.44 L415.0,235.38 L416.0,235.32 L417.0,235.27 L418.0,235.21 L419.0,235.16 L420.0,235.12 L421.0,235.08 L422.0,235.04 L423.0,235.00 L424.0,234.96 L425.0,234.92 L426.0,234.89 L427.0,234.85 L428.0,234.82 L429.0,234.78 L430.0,234.75 L431.0,234.71 L432.0,234.68 L433.0,234.64 L434.0,234.60 L435.0,234.56 L436.0,234.52 L437.0,234.48 L438.0,234.44 L439.0,234.39 L440.0,234.34 L441.0,234.29 L442.0,234.24 L443.0,234.19 L444.0,234.13 L445.0,234.07 L446.0,234.00 L447.0,233.94 L448.0,233.87 L449.0,233.80 L450.0,233.72 L451.0,233.65 L452.0,233.57 L453.0,233.49 L454.0,233.41 L455.0,233.33 L456.0,233.25 L457.0,233.17 L458.0,233.08 L459.0,233.00 L460.0,232.91 L461.0,232.83 L462.0,232.74 L463.0,232.65 L464.0,232.56 L465.0,232.46 L466.0,232.36 L467.0,232.26 L468.0,232.16 L469.0,232.05 L470.0,231.94 L471.0,231.83 L472.0,231.72 L473.0,231.61 L474.0,231.50 L475.0,231.39 L476.0,231.27 L477.0,231.16 L478.0,231.04 L479.0,230.93 L480.0,230.81 L481.0,230.70 L482.0,230.59 L483.0,230.47 L484.0,230.36 L485.0,230.25 L486.0,230.14 L487.0,230.03 L488.0,229.93 L489.0,229.82 L490.0,229.72 L491.0,229.62 L492.0,229.52 L493.0,229.42 L494.0,229.32 L495.0,229.22 L496.0,229.12 L497.0,229.02 L498.0,228.93 L499.0,228.83 L500.0,228.74 L501.0,228.64 L502.0,228.55 L503.0,228.45 L504.0,228.36 L505.0,228.26 L506.0,228.16 L507.0,228.07 L508.0,227.97 L509.0,227.87 L510.0,227.77 L511.0,227.67 L512.0,227.57 L513.0,227.47 L514.0,227.37 L515.0,227.26 L516.0,227.16 L517.0,227.05 L518.0,226.94 L519.0,226.83 L520.0,226.72 L521.0,226.61 L522.0,226.49 L523.0,226.37 L524.0,226.25 L525.0,226.13 L526.0,226.00 L527.0,225.88 L528.0,225.75 L529.0,225.63 L530.0,225.50 L531.0,225.37 L532.0,225.24 L533.0,225.11 L534.0,224.98 L535.0,224.85 L536.0,224.72 L537.0,224.59 L538.0,224.46 L539.0,224.33 L540.0,224.20 L541.0,224.08 L542.0,223.95 L543.0,223.83 L544.0,223.70 L545.0,223.58 L546.0,223.46 L547.0,223.34 L548.0,223.23 L549.0,223.11 L550.0,223.00 L551.0,222.89 L552.0,222.78 L553.0,222.67 L554.0,222.57 L555.0,222.46 L556.0,222.36 L557.0,222.26 L558.0,222.16 L559.0,222.06 L560.0,221.96 L561.0,221.86 L562.0,221.76 L563.0,221.66 L564.0,221.56 L565.0,221.46 L566.0,221.36 L567.0,221.27 L568.0,221.17 L569.0,221.07 L570.0,220.98 L571.0,220.88 L572.0,220.79 L573.0,220.70 L574.0,220.60 L575.0,220.51 L576.0,220.41 L577.0,220.32 L578.0,220.22 L579.0,220.12 L580.0,220.02 L581.0,219.92 L582.0,219.82 L583.0,219.73 L584.0,219.63 L585.0,219.53 L586.0,219.43 L587.0,219.33 L588.0,219.23 L589.0,219.12 L590.0,219.02 L591.0,218.91 L592.0,218.80 L593.0,218.69 L594.0,218.58 L595.0,218.46 L596.0,218.34 L597.0,218.22 L598.0,218.10 L599.0,217.98 L600.0,217.85 L601.0,217.73 L602.0,217.60 L603.0,217.46 L604.0,217.33 L605.0,217.19 L606.0,217.05 L607.0,216.91 L608.0,216.76 L609.0,216.61 L610.0,216.46 L611.0,216.31 L612.0,216.16 L613.0,216.01 L614.0,215.85 L615.0,215.68 L616.0,215.51 L617.0,215.33 L618.0,215.13 L619.0,214.92 L620.0,214.70 L621.0,214.46 L622.0,214.19 L623.0,213.91 L624.0,213.60 L625.0,213.26 L626.0,212.91 L627.0,212.53 L628.0,212.13 L629.0,211.71 L630.0,211.26 L631.0,210.75 L632.0,210.19 L633.0,209.58 L634.0,208.91 L635.0,208.17 L636.0,207.27 L637.0,206.23 L638.0,205.12 L639.0,204.00 L640.0,202.92 L641.0,201.82 L642.0,200.59 L643.0,199.11 L644.0,197.16 L645.0,195.00 L646.0,192.75 L647.0,190.37 L648.0,188.00 L650.0,150.00 L700.0,150.00 L700.0,340.00 L650.0,340.00 L647.0,298.00 L646.0,296.40 L645.0,294.92 L644.0,293.78 L643.0,292.78 L642.0,291.88 L641.0,291.03 L640.0,290.23 L639.0,289.47 L638.0,288.75 L637.0,288.07 L636.0,287.44 L635.0,286.83 L634.0,286.25 L633.0,285.69 L632.0,285.16 L631.0,284.65 L630.0,284.16 L629.0,283.69 L628.0,283.24 L627.0,282.80 L626.0,282.37 L625.0,281.95 L624.0,281.55 L623.0,281.17 L622.0,280.82 L621.0,280.49 L620.0,280.20 L619.0,279.94 L618.0,279.69 L617.0,279.46 L616.0,279.24 L615.0,279.03 L614.0,278.83 L613.0,278.64 L612.0,278.45 L611.0,278.27 L610.0,278.09 L609.0,277.91 L608.0,277.73 L607.0,277.55 L606.0,277.37 L605.0,277.19 L604.0,277.02 L603.0,276.85 L602.0,276.68 L601.0,276.52 L600.0,276.36 L599.0,276.20 L598.0,276.04 L597.0,275.89 L596.0,275.73 L595.0,275.58 L594.0,275.43 L593.0,275.28 L592.0,275.14 L591.0,274.99 L590.0,274.85 L589.0,274.71 L588.0,274.57 L587.0,274.44 L586.0,274.30 L585.0,274.17 L584.0,274.04 L583.0,273.90 L582.0,273.77 L581.0,273.64 L580.0,273.51 L579.0,273.37 L578.0,273.24 L577.0,273.10 L576.0,272.97 L575.0,272.83 L574.0,272.70 L573.0,272.56 L572.0,272.43 L571.0,272.30 L570.0,272.17 L569.0,272.04 L568.0,271.91 L567.0,271.79 L566.0,271.66 L565.0,271.55 L564.0,271.43 L563.0,271.32 L562.0,271.21 L561.0,271.11 L560.0,271.00 L559.0,270.90 L558.0,270.80 L557.0,270.70 L556.0,270.60 L555.0,270.50 L554.0,270.40 L553.0,270.30 L552.0,270.20 L551.0,270.10 L550.0,270.00 L549.0,269.90 L548.0,269.79 L547.0,269.69 L546.0,269.58 L545.0,269.48 L544.0,269.37 L543.0,269.27 L542.0,269.16 L541.0,269.06 L540.0,268.95 L539.0,268.85 L538.0,268.74 L537.0,268.64 L536.0,268.53 L535.0,268.43 L534.0,268.32 L533.0,268.22 L532.0,268.11 L531.0,268.01 L530.0,267.90 L529.0,267.80 L528.0,267.69 L527.0,267.59 L526.0,267.48 L525.0,267.38 L524.0,267.28 L523.0,267.17 L522.0,267.07 L521.0,266.97 L520.0,266.86 L519.0,266.76 L518.0,266.66 L517.0,266.56 L516.0,266.45 L515.0,266.35 L514.0,266.25 L513.0,266.14 L512.0,266.04 L511.0,265.94 L510.0,265.83 L509.0,265.73 L508.0,265.62 L507.0,265.52 L506.0,265.42 L505.0,265.31 L504.0,265.21 L503.0,265.11 L502.0,265.01 L501.0,264.91 L500.0,264.81 L499.0,264.71 L498.0,264.61 L497.0,264.51 L496.0,264.42 L495.0,264.32 L494.0,264.23 L493.0,264.14 L492.0,264.05 L491.0,263.96 L490.0,263.87 L489.0,263.78 L488.0,263.70 L487.0,263.62 L486.0,263.53 L485.0,263.45 L484.0,263.37 L483.0,263.29 L482.0,263.22 L481.0,263.14 L480.0,263.06 L479.0,262.99 L478.0,262.91 L477.0,262.84 L476.0,262.77 L475.0,262.69 L474.0,262.62 L473.0,262.55 L472.0,262.48 L471.0,262.40 L470.0,262.33 L469.0,262.26 L468.0,262.19 L467.0,262.12 L466.0,262.04 L465.0,261.97 L464.0,261.90 L463.0,261.83 L462.0,261.75 L461.0,261.68 L460.0,261.60 L459.0,261.53 L458.0,261.45 L457.0,261.38 L456.0,261.30 L455.0,261.23 L454.0,261.15 L453.0,261.08 L452.0,261.00 L451.0,260.93 L450.0,260.85 L449.0,260.78 L448.0,260.70 L447.0,260.63 L446.0,260.56 L445.0,260.49 L444.0,260.42 L443.0,260.35 L442.0,260.28 L441.0,260.21 L440.0,260.14 L439.0,260.07 L438.0,260.00 L437.0,259.94 L436.0,259.87 L435.0,259.80 L434.0,259.74 L433.0,259.67 L432.0,259.60 L431.0,259.54 L430.0,259.47 L429.0,259.41 L428.0,259.35 L427.0,259.29 L426.0,259.23 L425.0,259.16 L424.0,259.11 L423.0,259.05 L422.0,258.99 L421.0,258.93 L420.0,258.88 L419.0,258.82 L418.0,258.76 L417.0,258.69 L416.0,258.63 L415.0,258.56 L414.0,258.50 L413.0,258.43 L412.0,258.37 L411.0,258.32 L410.0,258.26 L409.0,258.22 L408.0,258.18 L407.0,258.14 L406.0,258.12 L405.0,258.10 L404.0,258.11 L403.0,258.76 L402.0,260.04 L401.0,261.30 Z"/></clipPath>
<g clip-path="url(#cRl)">
<path d="M401.0,228.60 L402.0,229.62 L403.0,230.66 L404.0,231.19 L405.0,231.19 L406.0,231.18 L407.0,231.14 L408.0,231.10 L409.0,231.05 L410.0,230.99 L411.0,230.93 L412.0,230.85 L413.0,230.78 L414.0,230.70 L415.0,230.62 L416.0,230.54 L417.0,230.45 L418.0,230.37 L419.0,230.30 L420.0,230.23 L421.0,230.16 L422.0,230.09 L423.0,230.02 L424.0,229.96 L425.0,229.89 L426.0,229.82 L427.0,229.75 L428.0,229.68 L429.0,229.60 L430.0,229.53 L431.0,229.46 L432.0,229.39 L433.0,229.31 L434.0,229.24 L435.0,229.16 L436.0,229.08 L437.0,229.01 L438.0,228.93 L439.0,228.85 L440.0,228.77 L441.0,228.69 L442.0,228.61 L443.0,228.53 L444.0,228.45 L445.0,228.38 L446.0,228.30 L447.0,228.22 L448.0,228.14 L449.0,228.05 L450.0,227.97 L451.0,227.89 L452.0,227.80 L453.0,227.72 L454.0,227.63 L455.0,227.54 L456.0,227.44 L457.0,227.35 L458.0,227.25 L459.0,227.15 L460.0,227.04 L461.0,226.93 L462.0,226.82 L463.0,226.70 L464.0,226.57 L465.0,226.44 L466.0,226.30 L467.0,226.16 L468.0,226.01 L469.0,225.86 L470.0,225.70 L471.0,225.54 L472.0,225.38 L473.0,225.21 L474.0,225.04 L475.0,224.87 L476.0,224.70 L477.0,224.53 L478.0,224.35 L479.0,224.18 L480.0,224.01 L481.0,223.83 L482.0,223.66 L483.0,223.49 L484.0,223.33 L485.0,223.16 L486.0,223.00 L487.0,222.84 L488.0,222.68 L489.0,222.53 L490.0,222.38 L491.0,222.23 L492.0,222.09 L493.0,221.95 L494.0,221.80 L495.0,221.66 L496.0,221.52 L497.0,221.38 L498.0,221.24 L499.0,221.10 L500.0,220.97 L501.0,220.83 L502.0,220.69 L503.0,220.55 L504.0,220.42 L505.0,220.28 L506.0,220.14 L507.0,220.01 L508.0,219.87 L509.0,219.73 L510.0,219.59 L511.0,219.46 L512.0,219.32 L513.0,219.18 L514.0,219.03 L515.0,218.89 L516.0,218.75 L517.0,218.60 L518.0,218.46 L519.0,218.31 L520.0,218.16 L521.0,218.02 L522.0,217.87 L523.0,217.73 L524.0,217.58 L525.0,217.43 L526.0,217.29 L527.0,217.14 L528.0,216.99 L529.0,216.84 L530.0,216.70 L531.0,216.55 L532.0,216.40 L533.0,216.25 L534.0,216.10 L535.0,215.95 L536.0,215.79 L537.0,215.64 L538.0,215.48 L539.0,215.33 L540.0,215.17 L541.0,215.01 L542.0,214.85 L543.0,214.69 L544.0,214.52 L545.0,214.36 L546.0,214.19 L547.0,214.02 L548.0,213.85 L549.0,213.68 L550.0,213.50 L551.0,213.32 L552.0,213.14 L553.0,212.95 L554.0,212.75 L555.0,212.55 L556.0,212.35 L557.0,212.15 L558.0,211.95 L559.0,211.74 L560.0,211.54 L561.0,211.33 L562.0,211.12 L563.0,210.92 L564.0,210.72 L565.0,210.52 L566.0,210.32 L567.0,210.12 L568.0,209.92 L569.0,209.72 L570.0,209.51 L571.0,209.31 L572.0,209.11 L573.0,208.91 L574.0,208.71 L575.0,208.51 L576.0,208.31 L577.0,208.12 L578.0,207.93 L579.0,207.74 L580.0,207.55 L581.0,207.36 L582.0,207.18 L583.0,206.99 L584.0,206.80 L585.0,206.62 L586.0,206.44 L587.0,206.26 L588.0,206.08 L589.0,205.90 L590.0,205.73 L591.0,205.56 L592.0,205.39 L593.0,205.23 L594.0,205.07 L595.0,204.91 L596.0,204.76 L597.0,204.61 L598.0,204.46 L599.0,204.31 L600.0,204.17 L601.0,204.02 L602.0,203.88 L603.0,203.74 L604.0,203.60 L605.0,203.47 L606.0,203.33 L607.0,203.19 L608.0,203.05 L609.0,202.92 L610.0,202.78 L611.0,202.65 L612.0,202.52 L613.0,202.39 L614.0,202.26 L615.0,202.13 L616.0,202.00 L617.0,201.87 L618.0,201.74 L619.0,201.61 L620.0,201.49 L621.0,201.36 L622.0,201.23 L623.0,201.10 L624.0,200.97 L625.0,200.84 L626.0,200.72 L627.0,200.59 L628.0,200.46 L629.0,200.34 L630.0,200.21 L631.0,200.08 L632.0,199.95 L633.0,199.82 L634.0,199.69 L635.0,199.56 L636.0,199.43 L637.0,199.29 L638.0,199.15 L639.0,199.01 L640.0,198.88 L641.0,198.74 L642.0,198.60 L643.0,198.46 L644.0,198.31 L645.0,198.16 L646.0,198.01 L647.0,197.87 L648.0,197.73 L649.0,197.61 L650.0,197.50 L651.0,197.40 L652.0,197.31 L653.0,197.22 L654.0,197.13 L655.0,197.05 L656.0,196.97 L657.0,196.90 L658.0,196.82 L659.0,196.75 L660.0,196.68 L661.0,196.62 L662.0,196.55 L663.0,196.48 L664.0,196.42 L665.0,196.35 L666.0,196.28 L667.0,196.21 L668.0,196.15 L669.0,196.07 L670.0,196.00 L700.0,150.00 L700.0,340.00 L650.0,296.00 L649.0,295.60 L648.0,295.19 L647.0,294.77 L646.0,294.37 L645.0,293.98 L644.0,293.61 L643.0,293.27 L642.0,292.94 L641.0,292.62 L640.0,292.32 L639.0,292.02 L638.0,291.74 L637.0,291.47 L636.0,291.21 L635.0,290.97 L634.0,290.74 L633.0,290.52 L632.0,290.32 L631.0,290.12 L630.0,289.92 L629.0,289.74 L628.0,289.56 L627.0,289.38 L626.0,289.21 L625.0,289.04 L624.0,288.87 L623.0,288.70 L622.0,288.53 L621.0,288.37 L620.0,288.22 L619.0,288.06 L618.0,287.91 L617.0,287.76 L616.0,287.62 L615.0,287.47 L614.0,287.33 L613.0,287.18 L612.0,287.04 L611.0,286.89 L610.0,286.74 L609.0,286.59 L608.0,286.44 L607.0,286.28 L606.0,286.13 L605.0,285.98 L604.0,285.82 L603.0,285.67 L602.0,285.51 L601.0,285.35 L600.0,285.20 L599.0,285.04 L598.0,284.88 L597.0,284.72 L596.0,284.56 L595.0,284.40 L594.0,284.23 L593.0,284.07 L592.0,283.90 L591.0,283.73 L590.0,283.56 L589.0,283.39 L588.0,283.22 L587.0,283.05 L586.0,282.88 L585.0,282.70 L584.0,282.53 L583.0,282.36 L582.0,282.18 L581.0,282.01 L580.0,281.84 L579.0,281.67 L578.0,281.49 L577.0,281.32 L576.0,281.15 L575.0,280.98 L574.0,280.81 L573.0,280.64 L572.0,280.47 L571.0,280.30 L570.0,280.13 L569.0,279.96 L568.0,279.79 L567.0,279.62 L566.0,279.44 L565.0,279.27 L564.0,279.09 L563.0,278.92 L562.0,278.74 L561.0,278.56 L560.0,278.38 L559.0,278.19 L558.0,278.01 L557.0,277.83 L556.0,277.65 L555.0,277.47 L554.0,277.29 L553.0,277.11 L552.0,276.94 L551.0,276.77 L550.0,276.60 L549.0,276.44 L548.0,276.27 L547.0,276.11 L546.0,275.95 L545.0,275.79 L544.0,275.63 L543.0,275.47 L542.0,275.31 L541.0,275.16 L540.0,275.00 L539.0,274.85 L538.0,274.69 L537.0,274.54 L536.0,274.39 L535.0,274.24 L534.0,274.08 L533.0,273.93 L532.0,273.79 L531.0,273.64 L530.0,273.49 L529.0,273.34 L528.0,273.19 L527.0,273.05 L526.0,272.90 L525.0,272.75 L524.0,272.61 L523.0,272.46 L522.0,272.32 L521.0,272.17 L520.0,272.03 L519.0,271.89 L518.0,271.74 L517.0,271.60 L516.0,271.45 L515.0,271.30 L514.0,271.16 L513.0,271.01 L512.0,270.86 L511.0,270.71 L510.0,270.56 L509.0,270.41 L508.0,270.26 L507.0,270.12 L506.0,269.97 L505.0,269.82 L504.0,269.68 L503.0,269.53 L502.0,269.39 L501.0,269.25 L500.0,269.12 L499.0,268.98 L498.0,268.85 L497.0,268.71 L496.0,268.59 L495.0,268.46 L494.0,268.34 L493.0,268.22 L492.0,268.10 L491.0,267.99 L490.0,267.88 L489.0,267.78 L488.0,267.68 L487.0,267.58 L486.0,267.48 L485.0,267.39 L484.0,267.30 L483.0,267.20 L482.0,267.12 L481.0,267.03 L480.0,266.94 L479.0,266.86 L478.0,266.77 L477.0,266.69 L476.0,266.61 L475.0,266.53 L474.0,266.45 L473.0,266.38 L472.0,266.30 L471.0,266.22 L470.0,266.15 L469.0,266.07 L468.0,266.00 L467.0,265.92 L466.0,265.85 L465.0,265.77 L464.0,265.70 L463.0,265.63 L462.0,265.55 L461.0,265.48 L460.0,265.40 L459.0,265.33 L458.0,265.26 L457.0,265.19 L456.0,265.12 L455.0,265.05 L454.0,264.98 L453.0,264.91 L452.0,264.85 L451.0,264.78 L450.0,264.71 L449.0,264.64 L448.0,264.58 L447.0,264.51 L446.0,264.44 L445.0,264.38 L444.0,264.31 L443.0,264.24 L442.0,264.17 L441.0,264.11 L440.0,264.04 L439.0,263.97 L438.0,263.90 L437.0,263.83 L436.0,263.76 L435.0,263.69 L434.0,263.62 L433.0,263.55 L432.0,263.48 L431.0,263.41 L430.0,263.34 L429.0,263.28 L428.0,263.21 L427.0,263.14 L426.0,263.07 L425.0,263.00 L424.0,262.94 L423.0,262.87 L422.0,262.80 L421.0,262.74 L420.0,262.67 L419.0,262.60 L418.0,262.53 L417.0,262.45 L416.0,262.37 L415.0,262.29 L414.0,262.21 L413.0,262.13 L412.0,262.05 L411.0,261.98 L410.0,261.91 L409.0,261.85 L408.0,261.80 L407.0,261.76 L406.0,261.72 L405.0,261.71 L404.0,261.71 L403.0,262.49 L402.0,264.01 L401.0,265.50 Z" fill="url(#hatch)"/>
<path d="M401.0,233.30 L402.0,234.28 L403.0,235.28 L404.0,235.79 L405.0,235.80 L406.0,235.78 L407.0,235.76 L408.0,235.73 L409.0,235.69 L410.0,235.65 L411.0,235.60 L412.0,235.55 L413.0,235.49 L414.0,235.44 L415.0,235.38 L416.0,235.32 L417.0,235.27 L418.0,235.21 L419.0,235.16 L420.0,235.12 L421.0,235.08 L422.0,235.04 L423.0,235.00 L424.0,234.96 L425.0,234.92 L426.0,234.89 L427.0,234.85 L428.0,234.82 L429.0,234.78 L430.0,234.75 L431.0,234.71 L432.0,234.68 L433.0,234.64 L434.0,234.60 L435.0,234.56 L436.0,234.52 L437.0,234.48 L438.0,234.44 L439.0,234.39 L440.0,234.34 L441.0,234.29 L442.0,234.24 L443.0,234.19 L444.0,234.13 L445.0,234.07 L446.0,234.00 L447.0,233.94 L448.0,233.87 L449.0,233.80 L450.0,233.72 L451.0,233.65 L452.0,233.57 L453.0,233.49 L454.0,233.41 L455.0,233.33 L456.0,233.25 L457.0,233.17 L458.0,233.08 L459.0,233.00 L460.0,232.91 L461.0,232.83 L462.0,232.74 L463.0,232.65 L464.0,232.56 L465.0,232.46 L466.0,232.36 L467.0,232.26 L468.0,232.16 L469.0,232.05 L470.0,231.94 L471.0,231.83 L472.0,231.72 L473.0,231.61 L474.0,231.50 L475.0,231.39 L476.0,231.27 L477.0,231.16 L478.0,231.04 L479.0,230.93 L480.0,230.81 L481.0,230.70 L482.0,230.59 L483.0,230.47 L484.0,230.36 L485.0,230.25 L486.0,230.14 L487.0,230.03 L488.0,229.93 L489.0,229.82 L490.0,229.72 L491.0,229.62 L492.0,229.52 L493.0,229.42 L494.0,229.32 L495.0,229.22 L496.0,229.12 L497.0,229.02 L498.0,228.93 L499.0,228.83 L500.0,228.74 L501.0,228.64 L502.0,228.55 L503.0,228.45 L504.0,228.36 L505.0,228.26 L506.0,228.16 L507.0,228.07 L508.0,227.97 L509.0,227.87 L510.0,227.77 L511.0,227.67 L512.0,227.57 L513.0,227.47 L514.0,227.37 L515.0,227.26 L516.0,227.16 L517.0,227.05 L518.0,226.94 L519.0,226.83 L520.0,226.72 L521.0,226.61 L522.0,226.49 L523.0,226.37 L524.0,226.25 L525.0,226.13 L526.0,226.00 L527.0,225.88 L528.0,225.75 L529.0,225.63 L530.0,225.50 L531.0,225.37 L532.0,225.24 L533.0,225.11 L534.0,224.98 L535.0,224.85 L536.0,224.72 L537.0,224.59 L538.0,224.46 L539.0,224.33 L540.0,224.20 L541.0,224.08 L542.0,223.95 L543.0,223.83 L544.0,223.70 L545.0,223.58 L546.0,223.46 L547.0,223.34 L548.0,223.23 L549.0,223.11 L550.0,223.00 L551.0,222.89 L552.0,222.78 L553.0,222.67 L554.0,222.57 L555.0,222.46 L556.0,222.36 L557.0,222.26 L558.0,222.16 L559.0,222.06 L560.0,221.96 L561.0,221.86 L562.0,221.76 L563.0,221.66 L564.0,221.56 L565.0,221.46 L566.0,221.36 L567.0,221.27 L568.0,221.17 L569.0,221.07 L570.0,220.98 L571.0,220.88 L572.0,220.79 L573.0,220.70 L574.0,220.60 L575.0,220.51 L576.0,220.41 L577.0,220.32 L578.0,220.22 L579.0,220.12 L580.0,220.02 L581.0,219.92 L582.0,219.82 L583.0,219.73 L584.0,219.63 L585.0,219.53 L586.0,219.43 L587.0,219.33 L588.0,219.23 L589.0,219.12 L590.0,219.02 L591.0,218.91 L592.0,218.80 L593.0,218.69 L594.0,218.58 L595.0,218.46 L596.0,218.34 L597.0,218.22 L598.0,218.10 L599.0,217.98 L600.0,217.85 L601.0,217.73 L602.0,217.60 L603.0,217.46 L604.0,217.33 L605.0,217.19 L606.0,217.05 L607.0,216.91 L608.0,216.76 L609.0,216.61 L610.0,216.46 L611.0,216.31 L612.0,216.16 L613.0,216.01 L614.0,215.85 L615.0,215.68 L616.0,215.51 L617.0,215.33 L618.0,215.13 L619.0,214.92 L620.0,214.70 L621.0,214.46 L622.0,214.19 L623.0,213.91 L624.0,213.60 L625.0,213.26 L626.0,212.91 L627.0,212.53 L628.0,212.13 L629.0,211.71 L630.0,211.26 L631.0,210.75 L632.0,210.19 L633.0,209.58 L634.0,208.91 L635.0,208.17 L636.0,207.27 L637.0,206.23 L638.0,205.12 L639.0,204.00 L640.0,202.92 L641.0,201.82 L642.0,200.59 L643.0,199.11 L644.0,197.16 L645.0,195.00 L646.0,192.75 L647.0,190.37 L648.0,188.00 L650.0,150.00 L700.0,150.00 L700.0,340.00 L650.0,340.00 L647.0,298.00 L646.0,296.40 L645.0,294.92 L644.0,293.78 L643.0,292.78 L642.0,291.88 L641.0,291.03 L640.0,290.23 L639.0,289.47 L638.0,288.75 L637.0,288.07 L636.0,287.44 L635.0,286.83 L634.0,286.25 L633.0,285.69 L632.0,285.16 L631.0,284.65 L630.0,284.16 L629.0,283.69 L628.0,283.24 L627.0,282.80 L626.0,282.37 L625.0,281.95 L624.0,281.55 L623.0,281.17 L622.0,280.82 L621.0,280.49 L620.0,280.20 L619.0,279.94 L618.0,279.69 L617.0,279.46 L616.0,279.24 L615.0,279.03 L614.0,278.83 L613.0,278.64 L612.0,278.45 L611.0,278.27 L610.0,278.09 L609.0,277.91 L608.0,277.73 L607.0,277.55 L606.0,277.37 L605.0,277.19 L604.0,277.02 L603.0,276.85 L602.0,276.68 L601.0,276.52 L600.0,276.36 L599.0,276.20 L598.0,276.04 L597.0,275.89 L596.0,275.73 L595.0,275.58 L594.0,275.43 L593.0,275.28 L592.0,275.14 L591.0,274.99 L590.0,274.85 L589.0,274.71 L588.0,274.57 L587.0,274.44 L586.0,274.30 L585.0,274.17 L584.0,274.04 L583.0,273.90 L582.0,273.77 L581.0,273.64 L580.0,273.51 L579.0,273.37 L578.0,273.24 L577.0,273.10 L576.0,272.97 L575.0,272.83 L574.0,272.70 L573.0,272.56 L572.0,272.43 L571.0,272.30 L570.0,272.17 L569.0,272.04 L568.0,271.91 L567.0,271.79 L566.0,271.66 L565.0,271.55 L564.0,271.43 L563.0,271.32 L562.0,271.21 L561.0,271.11 L560.0,271.00 L559.0,270.90 L558.0,270.80 L557.0,270.70 L556.0,270.60 L555.0,270.50 L554.0,270.40 L553.0,270.30 L552.0,270.20 L551.0,270.10 L550.0,270.00 L549.0,269.90 L548.0,269.79 L547.0,269.69 L546.0,269.58 L545.0,269.48 L544.0,269.37 L543.0,269.27 L542.0,269.16 L541.0,269.06 L540.0,268.95 L539.0,268.85 L538.0,268.74 L537.0,268.64 L536.0,268.53 L535.0,268.43 L534.0,268.32 L533.0,268.22 L532.0,268.11 L531.0,268.01 L530.0,267.90 L529.0,267.80 L528.0,267.69 L527.0,267.59 L526.0,267.48 L525.0,267.38 L524.0,267.28 L523.0,267.17 L522.0,267.07 L521.0,266.97 L520.0,266.86 L519.0,266.76 L518.0,266.66 L517.0,266.56 L516.0,266.45 L515.0,266.35 L514.0,266.25 L513.0,266.14 L512.0,266.04 L511.0,265.94 L510.0,265.83 L509.0,265.73 L508.0,265.62 L507.0,265.52 L506.0,265.42 L505.0,265.31 L504.0,265.21 L503.0,265.11 L502.0,265.01 L501.0,264.91 L500.0,264.81 L499.0,264.71 L498.0,264.61 L497.0,264.51 L496.0,264.42 L495.0,264.32 L494.0,264.23 L493.0,264.14 L492.0,264.05 L491.0,263.96 L490.0,263.87 L489.0,263.78 L488.0,263.70 L487.0,263.62 L486.0,263.53 L485.0,263.45 L484.0,263.37 L483.0,263.29 L482.0,263.22 L481.0,263.14 L480.0,263.06 L479.0,262.99 L478.0,262.91 L477.0,262.84 L476.0,262.77 L475.0,262.69 L474.0,262.62 L473.0,262.55 L472.0,262.48 L471.0,262.40 L470.0,262.33 L469.0,262.26 L468.0,262.19 L467.0,262.12 L466.0,262.04 L465.0,261.97 L464.0,261.90 L463.0,261.83 L462.0,261.75 L461.0,261.68 L460.0,261.60 L459.0,261.53 L458.0,261.45 L457.0,261.38 L456.0,261.30 L455.0,261.23 L454.0,261.15 L453.0,261.08 L452.0,261.00 L451.0,260.93 L450.0,260.85 L449.0,260.78 L448.0,260.70 L447.0,260.63 L446.0,260.56 L445.0,260.49 L444.0,260.42 L443.0,260.35 L442.0,260.28 L441.0,260.21 L440.0,260.14 L439.0,260.07 L438.0,260.00 L437.0,259.94 L436.0,259.87 L435.0,259.80 L434.0,259.74 L433.0,259.67 L432.0,259.60 L431.0,259.54 L430.0,259.47 L429.0,259.41 L428.0,259.35 L427.0,259.29 L426.0,259.23 L425.0,259.16 L424.0,259.11 L423.0,259.05 L422.0,258.99 L421.0,258.93 L420.0,258.88 L419.0,258.82 L418.0,258.76 L417.0,258.69 L416.0,258.63 L415.0,258.56 L414.0,258.50 L413.0,258.43 L412.0,258.37 L411.0,258.32 L410.0,258.26 L409.0,258.22 L408.0,258.18 L407.0,258.14 L406.0,258.12 L405.0,258.10 L404.0,258.11 L403.0,258.76 L402.0,260.04 L401.0,261.30 Z" fill="#1ec8e6"/>
<path d="M401.0,228.60 L402.0,229.62 L403.0,230.66 L404.0,231.19 L405.0,231.19 L406.0,231.18 L407.0,231.14 L408.0,231.10 L409.0,231.05 L410.0,230.99 L411.0,230.93 L412.0,230.85 L413.0,230.78 L414.0,230.70 L415.0,230.62 L416.0,230.54 L417.0,230.45 L418.0,230.37 L419.0,230.30 L420.0,230.23 L421.0,230.16 L422.0,230.09 L423.0,230.02 L424.0,229.96 L425.0,229.89 L426.0,229.82 L427.0,229.75 L428.0,229.68 L429.0,229.60 L430.0,229.53 L431.0,229.46 L432.0,229.39 L433.0,229.31 L434.0,229.24 L435.0,229.16 L436.0,229.08 L437.0,229.01 L438.0,228.93 L439.0,228.85 L440.0,228.77 L441.0,228.69 L442.0,228.61 L443.0,228.53 L444.0,228.45 L445.0,228.38 L446.0,228.30 L447.0,228.22 L448.0,228.14 L449.0,228.05 L450.0,227.97 L451.0,227.89 L452.0,227.80 L453.0,227.72 L454.0,227.63 L455.0,227.54 L456.0,227.44 L457.0,227.35 L458.0,227.25 L459.0,227.15 L460.0,227.04 L461.0,226.93 L462.0,226.82 L463.0,226.70 L464.0,226.57 L465.0,226.44 L466.0,226.30 L467.0,226.16 L468.0,226.01 L469.0,225.86 L470.0,225.70 L471.0,225.54 L472.0,225.38 L473.0,225.21 L474.0,225.04 L475.0,224.87 L476.0,224.70 L477.0,224.53 L478.0,224.35 L479.0,224.18 L480.0,224.01 L481.0,223.83 L482.0,223.66 L483.0,223.49 L484.0,223.33 L485.0,223.16 L486.0,223.00 L487.0,222.84 L488.0,222.68 L489.0,222.53 L490.0,222.38 L491.0,222.23 L492.0,222.09 L493.0,221.95 L494.0,221.80 L495.0,221.66 L496.0,221.52 L497.0,221.38 L498.0,221.24 L499.0,221.10 L500.0,220.97 L501.0,220.83 L502.0,220.69 L503.0,220.55 L504.0,220.42 L505.0,220.28 L506.0,220.14 L507.0,220.01 L508.0,219.87 L509.0,219.73 L510.0,219.59 L511.0,219.46 L512.0,219.32 L513.0,219.18 L514.0,219.03 L515.0,218.89 L516.0,218.75 L517.0,218.60 L518.0,218.46 L519.0,218.31 L520.0,218.16 L521.0,218.02 L522.0,217.87 L523.0,217.73 L524.0,217.58 L525.0,217.43 L526.0,217.29 L527.0,217.14 L528.0,216.99 L529.0,216.84 L530.0,216.70 L531.0,216.55 L532.0,216.40 L533.0,216.25 L534.0,216.10 L535.0,215.95 L536.0,215.79 L537.0,215.64 L538.0,215.48 L539.0,215.33 L540.0,215.17 L541.0,215.01 L542.0,214.85 L543.0,214.69 L544.0,214.52 L545.0,214.36 L546.0,214.19 L547.0,214.02 L548.0,213.85 L549.0,213.68 L550.0,213.50 L551.0,213.32 L552.0,213.14 L553.0,212.95 L554.0,212.75 L555.0,212.55 L556.0,212.35 L557.0,212.15 L558.0,211.95 L559.0,211.74 L560.0,211.54 L561.0,211.33 L562.0,211.12 L563.0,210.92 L564.0,210.72 L565.0,210.52 L566.0,210.32 L567.0,210.12 L568.0,209.92 L569.0,209.72 L570.0,209.51 L571.0,209.31 L572.0,209.11 L573.0,208.91 L574.0,208.71 L575.0,208.51 L576.0,208.31 L577.0,208.12 L578.0,207.93 L579.0,207.74 L580.0,207.55 L581.0,207.36 L582.0,207.18 L583.0,206.99 L584.0,206.80 L585.0,206.62 L586.0,206.44 L587.0,206.26 L588.0,206.08 L589.0,205.90 L590.0,205.73 L591.0,205.56 L592.0,205.39 L593.0,205.23 L594.0,205.07 L595.0,204.91 L596.0,204.76 L597.0,204.61 L598.0,204.46 L599.0,204.31 L600.0,204.17 L601.0,204.02 L602.0,203.88 L603.0,203.74 L604.0,203.60 L605.0,203.47 L606.0,203.33 L607.0,203.19 L608.0,203.05 L609.0,202.92 L610.0,202.78 L611.0,202.65 L612.0,202.52 L613.0,202.39 L614.0,202.26 L615.0,202.13 L616.0,202.00 L617.0,201.87 L618.0,201.74 L619.0,201.61 L620.0,201.49 L621.0,201.36 L622.0,201.23 L623.0,201.10 L624.0,200.97 L625.0,200.84 L626.0,200.72 L627.0,200.59 L628.0,200.46 L629.0,200.34 L630.0,200.21 L631.0,200.08 L632.0,199.95 L633.0,199.82 L634.0,199.69 L635.0,199.56 L636.0,199.43 L637.0,199.29 L638.0,199.15 L639.0,199.01 L640.0,198.88 L641.0,198.74 L642.0,198.60 L643.0,198.46 L644.0,198.31 L645.0,198.16 L646.0,198.01 L647.0,197.87 L648.0,197.73 L649.0,197.61 L650.0,197.50 L651.0,197.40 L652.0,197.31 L653.0,197.22 L654.0,197.13 L655.0,197.05 L656.0,196.97 L657.0,196.90 L658.0,196.82 L659.0,196.75 L660.0,196.68 L661.0,196.62 L662.0,196.55 L663.0,196.48 L664.0,196.42 L665.0,196.35 L666.0,196.28 L667.0,196.21 L668.0,196.15 L669.0,196.07 L670.0,196.00 L700.0,150.00 L700.0,340.00 L650.0,296.00 L649.0,295.60 L648.0,295.19 L647.0,294.77 L646.0,294.37 L645.0,293.98 L644.0,293.61 L643.0,293.27 L642.0,292.94 L641.0,292.62 L640.0,292.32 L639.0,292.02 L638.0,291.74 L637.0,291.47 L636.0,291.21 L635.0,290.97 L634.0,290.74 L633.0,290.52 L632.0,290.32 L631.0,290.12 L630.0,289.92 L629.0,289.74 L628.0,289.56 L627.0,289.38 L626.0,289.21 L625.0,289.04 L624.0,288.87 L623.0,288.70 L622.0,288.53 L621.0,288.37 L620.0,288.22 L619.0,288.06 L618.0,287.91 L617.0,287.76 L616.0,287.62 L615.0,287.47 L614.0,287.33 L613.0,287.18 L612.0,287.04 L611.0,286.89 L610.0,286.74 L609.0,286.59 L608.0,286.44 L607.0,286.28 L606.0,286.13 L605.0,285.98 L604.0,285.82 L603.0,285.67 L602.0,285.51 L601.0,285.35 L600.0,285.20 L599.0,285.04 L598.0,284.88 L597.0,284.72 L596.0,284.56 L595.0,284.40 L594.0,284.23 L593.0,284.07 L592.0,283.90 L591.0,283.73 L590.0,283.56 L589.0,283.39 L588.0,283.22 L587.0,283.05 L586.0,282.88 L585.0,282.70 L584.0,282.53 L583.0,282.36 L582.0,282.18 L581.0,282.01 L580.0,281.84 L579.0,281.67 L578.0,281.49 L577.0,281.32 L576.0,281.15 L575.0,280.98 L574.0,280.81 L573.0,280.64 L572.0,280.47 L571.0,280.30 L570.0,280.13 L569.0,279.96 L568.0,279.79 L567.0,279.62 L566.0,279.44 L565.0,279.27 L564.0,279.09 L563.0,278.92 L562.0,278.74 L561.0,278.56 L560.0,278.38 L559.0,278.19 L558.0,278.01 L557.0,277.83 L556.0,277.65 L555.0,277.47 L554.0,277.29 L553.0,277.11 L552.0,276.94 L551.0,276.77 L550.0,276.60 L549.0,276.44 L548.0,276.27 L547.0,276.11 L546.0,275.95 L545.0,275.79 L544.0,275.63 L543.0,275.47 L542.0,275.31 L541.0,275.16 L540.0,275.00 L539.0,274.85 L538.0,274.69 L537.0,274.54 L536.0,274.39 L535.0,274.24 L534.0,274.08 L533.0,273.93 L532.0,273.79 L531.0,273.64 L530.0,273.49 L529.0,273.34 L528.0,273.19 L527.0,273.05 L526.0,272.90 L525.0,272.75 L524.0,272.61 L523.0,272.46 L522.0,272.32 L521.0,272.17 L520.0,272.03 L519.0,271.89 L518.0,271.74 L517.0,271.60 L516.0,271.45 L515.0,271.30 L514.0,271.16 L513.0,271.01 L512.0,270.86 L511.0,270.71 L510.0,270.56 L509.0,270.41 L508.0,270.26 L507.0,270.12 L506.0,269.97 L505.0,269.82 L504.0,269.68 L503.0,269.53 L502.0,269.39 L501.0,269.25 L500.0,269.12 L499.0,268.98 L498.0,268.85 L497.0,268.71 L496.0,268.59 L495.0,268.46 L494.0,268.34 L493.0,268.22 L492.0,268.10 L491.0,267.99 L490.0,267.88 L489.0,267.78 L488.0,267.68 L487.0,267.58 L486.0,267.48 L485.0,267.39 L484.0,267.30 L483.0,267.20 L482.0,267.12 L481.0,267.03 L480.0,266.94 L479.0,266.86 L478.0,266.77 L477.0,266.69 L476.0,266.61 L475.0,266.53 L474.0,266.45 L473.0,266.38 L472.0,266.30 L471.0,266.22 L470.0,266.15 L469.0,266.07 L468.0,266.00 L467.0,265.92 L466.0,265.85 L465.0,265.77 L464.0,265.70 L463.0,265.63 L462.0,265.55 L461.0,265.48 L460.0,265.40 L459.0,265.33 L458.0,265.26 L457.0,265.19 L456.0,265.12 L455.0,265.05 L454.0,264.98 L453.0,264.91 L452.0,264.85 L451.0,264.78 L450.0,264.71 L449.0,264.64 L448.0,264.58 L447.0,264.51 L446.0,264.44 L445.0,264.38 L444.0,264.31 L443.0,264.24 L442.0,264.17 L441.0,264.11 L440.0,264.04 L439.0,263.97 L438.0,263.90 L437.0,263.83 L436.0,263.76 L435.0,263.69 L434.0,263.62 L433.0,263.55 L432.0,263.48 L431.0,263.41 L430.0,263.34 L429.0,263.28 L428.0,263.21 L427.0,263.14 L426.0,263.07 L425.0,263.00 L424.0,262.94 L423.0,262.87 L422.0,262.80 L421.0,262.74 L420.0,262.67 L419.0,262.60 L418.0,262.53 L417.0,262.45 L416.0,262.37 L415.0,262.29 L414.0,262.21 L413.0,262.13 L412.0,262.05 L411.0,261.98 L410.0,261.91 L409.0,261.85 L408.0,261.80 L407.0,261.76 L406.0,261.72 L405.0,261.71 L404.0,261.71 L403.0,262.49 L402.0,264.01 L401.0,265.50 Z" fill="url(#hatchC)" clip-path="url(#cRlc)"/>
<path d="M401.0,228.60 L402.0,229.62 L403.0,230.66 L404.0,231.19 L405.0,231.19 L406.0,231.18 L407.0,231.14 L408.0,231.10 L409.0,231.05 L410.0,230.99 L411.0,230.93 L412.0,230.85 L413.0,230.78 L414.0,230.70 L415.0,230.62 L416.0,230.54 L417.0,230.45 L418.0,230.37 L419.0,230.30 L420.0,230.23 L421.0,230.16 L422.0,230.09 L423.0,230.02 L424.0,229.96 L425.0,229.89 L426.0,229.82 L427.0,229.75 L428.0,229.68 L429.0,229.60 L430.0,229.53 L431.0,229.46 L432.0,229.39 L433.0,229.31 L434.0,229.24 L435.0,229.16 L436.0,229.08 L437.0,229.01 L438.0,228.93 L439.0,228.85 L440.0,228.77 L441.0,228.69 L442.0,228.61 L443.0,228.53 L444.0,228.45 L445.0,228.38 L446.0,228.30 L447.0,228.22 L448.0,228.14 L449.0,228.05 L450.0,227.97 L451.0,227.89 L452.0,227.80 L453.0,227.72 L454.0,227.63 L455.0,227.54 L456.0,227.44 L457.0,227.35 L458.0,227.25 L459.0,227.15 L460.0,227.04 L461.0,226.93 L462.0,226.82 L463.0,226.70 L464.0,226.57 L465.0,226.44 L466.0,226.30 L467.0,226.16 L468.0,226.01 L469.0,225.86 L470.0,225.70 L471.0,225.54 L472.0,225.38 L473.0,225.21 L474.0,225.04 L475.0,224.87 L476.0,224.70 L477.0,224.53 L478.0,224.35 L479.0,224.18 L480.0,224.01 L481.0,223.83 L482.0,223.66 L483.0,223.49 L484.0,223.33 L485.0,223.16 L486.0,223.00 L487.0,222.84 L488.0,222.68 L489.0,222.53 L490.0,222.38 L491.0,222.23 L492.0,222.09 L493.0,221.95 L494.0,221.80 L495.0,221.66 L496.0,221.52 L497.0,221.38 L498.0,221.24 L499.0,221.10 L500.0,220.97 L501.0,220.83 L502.0,220.69 L503.0,220.55 L504.0,220.42 L505.0,220.28 L506.0,220.14 L507.0,220.01 L508.0,219.87 L509.0,219.73 L510.0,219.59 L511.0,219.46 L512.0,219.32 L513.0,219.18 L514.0,219.03 L515.0,218.89 L516.0,218.75 L517.0,218.60 L518.0,218.46 L519.0,218.31 L520.0,218.16 L521.0,218.02 L522.0,217.87 L523.0,217.73 L524.0,217.58 L525.0,217.43 L526.0,217.29 L527.0,217.14 L528.0,216.99 L529.0,216.84 L530.0,216.70 L531.0,216.55 L532.0,216.40 L533.0,216.25 L534.0,216.10 L535.0,215.95 L536.0,215.79 L537.0,215.64 L538.0,215.48 L539.0,215.33 L540.0,215.17 L541.0,215.01 L542.0,214.85 L543.0,214.69 L544.0,214.52 L545.0,214.36 L546.0,214.19 L547.0,214.02 L548.0,213.85 L549.0,213.68 L550.0,213.50 L551.0,213.32 L552.0,213.14 L553.0,212.95 L554.0,212.75 L555.0,212.55 L556.0,212.35 L557.0,212.15 L558.0,211.95 L559.0,211.74 L560.0,211.54 L561.0,211.33 L562.0,211.12 L563.0,210.92 L564.0,210.72 L565.0,210.52 L566.0,210.32 L567.0,210.12 L568.0,209.92 L569.0,209.72 L570.0,209.51 L571.0,209.31 L572.0,209.11 L573.0,208.91 L574.0,208.71 L575.0,208.51 L576.0,208.31 L577.0,208.12 L578.0,207.93 L579.0,207.74 L580.0,207.55 L581.0,207.36 L582.0,207.18 L583.0,206.99 L584.0,206.80 L585.0,206.62 L586.0,206.44 L587.0,206.26 L588.0,206.08 L589.0,205.90 L590.0,205.73 L591.0,205.56 L592.0,205.39 L593.0,205.23 L594.0,205.07 L595.0,204.91 L596.0,204.76 L597.0,204.61 L598.0,204.46 L599.0,204.31 L600.0,204.17 L601.0,204.02 L602.0,203.88 L603.0,203.74 L604.0,203.60 L605.0,203.47 L606.0,203.33 L607.0,203.19 L608.0,203.05 L609.0,202.92 L610.0,202.78 L611.0,202.65 L612.0,202.52 L613.0,202.39 L614.0,202.26 L615.0,202.13 L616.0,202.00 L617.0,201.87 L618.0,201.74 L619.0,201.61 L620.0,201.49 L621.0,201.36 L622.0,201.23 L623.0,201.10 L624.0,200.97 L625.0,200.84 L626.0,200.72 L627.0,200.59 L628.0,200.46 L629.0,200.34 L630.0,200.21 L631.0,200.08 L632.0,199.95 L633.0,199.82 L634.0,199.69 L635.0,199.56 L636.0,199.43 L637.0,199.29 L638.0,199.15 L639.0,199.01 L640.0,198.88 L641.0,198.74 L642.0,198.60 L643.0,198.46 L644.0,198.31 L645.0,198.16 L646.0,198.01 L647.0,197.87 L648.0,197.73 L649.0,197.61 L650.0,197.50 L651.0,197.40 L652.0,197.31 L653.0,197.22 L654.0,197.13 L655.0,197.05 L656.0,196.97 L657.0,196.90 L658.0,196.82 L659.0,196.75 L660.0,196.68 L661.0,196.62 L662.0,196.55 L663.0,196.48 L664.0,196.42 L665.0,196.35 L666.0,196.28 L667.0,196.21 L668.0,196.15 L669.0,196.07 L670.0,196.00 L700.0,150.00" fill="none" stroke="#1010ff" stroke-width="0.9"/>
<path d="M401.0,265.50 L402.0,264.01 L403.0,262.49 L404.0,261.71 L405.0,261.71 L406.0,261.72 L407.0,261.76 L408.0,261.80 L409.0,261.85 L410.0,261.91 L411.0,261.98 L412.0,262.05 L413.0,262.13 L414.0,262.21 L415.0,262.29 L416.0,262.37 L417.0,262.45 L418.0,262.53 L419.0,262.60 L420.0,262.67 L421.0,262.74 L422.0,262.80 L423.0,262.87 L424.0,262.94 L425.0,263.00 L426.0,263.07 L427.0,263.14 L428.0,263.21 L429.0,263.28 L430.0,263.34 L431.0,263.41 L432.0,263.48 L433.0,263.55 L434.0,263.62 L435.0,263.69 L436.0,263.76 L437.0,263.83 L438.0,263.90 L439.0,263.97 L440.0,264.04 L441.0,264.11 L442.0,264.17 L443.0,264.24 L444.0,264.31 L445.0,264.38 L446.0,264.44 L447.0,264.51 L448.0,264.58 L449.0,264.64 L450.0,264.71 L451.0,264.78 L452.0,264.85 L453.0,264.91 L454.0,264.98 L455.0,265.05 L456.0,265.12 L457.0,265.19 L458.0,265.26 L459.0,265.33 L460.0,265.40 L461.0,265.48 L462.0,265.55 L463.0,265.63 L464.0,265.70 L465.0,265.77 L466.0,265.85 L467.0,265.92 L468.0,266.00 L469.0,266.07 L470.0,266.15 L471.0,266.22 L472.0,266.30 L473.0,266.38 L474.0,266.45 L475.0,266.53 L476.0,266.61 L477.0,266.69 L478.0,266.77 L479.0,266.86 L480.0,266.94 L481.0,267.03 L482.0,267.12 L483.0,267.20 L484.0,267.30 L485.0,267.39 L486.0,267.48 L487.0,267.58 L488.0,267.68 L489.0,267.78 L490.0,267.88 L491.0,267.99 L492.0,268.10 L493.0,268.22 L494.0,268.34 L495.0,268.46 L496.0,268.59 L497.0,268.71 L498.0,268.85 L499.0,268.98 L500.0,269.12 L501.0,269.25 L502.0,269.39 L503.0,269.53 L504.0,269.68 L505.0,269.82 L506.0,269.97 L507.0,270.12 L508.0,270.26 L509.0,270.41 L510.0,270.56 L511.0,270.71 L512.0,270.86 L513.0,271.01 L514.0,271.16 L515.0,271.30 L516.0,271.45 L517.0,271.60 L518.0,271.74 L519.0,271.89 L520.0,272.03 L521.0,272.17 L522.0,272.32 L523.0,272.46 L524.0,272.61 L525.0,272.75 L526.0,272.90 L527.0,273.05 L528.0,273.19 L529.0,273.34 L530.0,273.49 L531.0,273.64 L532.0,273.79 L533.0,273.93 L534.0,274.08 L535.0,274.24 L536.0,274.39 L537.0,274.54 L538.0,274.69 L539.0,274.85 L540.0,275.00 L541.0,275.16 L542.0,275.31 L543.0,275.47 L544.0,275.63 L545.0,275.79 L546.0,275.95 L547.0,276.11 L548.0,276.27 L549.0,276.44 L550.0,276.60 L551.0,276.77 L552.0,276.94 L553.0,277.11 L554.0,277.29 L555.0,277.47 L556.0,277.65 L557.0,277.83 L558.0,278.01 L559.0,278.19 L560.0,278.38 L561.0,278.56 L562.0,278.74 L563.0,278.92 L564.0,279.09 L565.0,279.27 L566.0,279.44 L567.0,279.62 L568.0,279.79 L569.0,279.96 L570.0,280.13 L571.0,280.30 L572.0,280.47 L573.0,280.64 L574.0,280.81 L575.0,280.98 L576.0,281.15 L577.0,281.32 L578.0,281.49 L579.0,281.67 L580.0,281.84 L581.0,282.01 L582.0,282.18 L583.0,282.36 L584.0,282.53 L585.0,282.70 L586.0,282.88 L587.0,283.05 L588.0,283.22 L589.0,283.39 L590.0,283.56 L591.0,283.73 L592.0,283.90 L593.0,284.07 L594.0,284.23 L595.0,284.40 L596.0,284.56 L597.0,284.72 L598.0,284.88 L599.0,285.04 L600.0,285.20 L601.0,285.35 L602.0,285.51 L603.0,285.67 L604.0,285.82 L605.0,285.98 L606.0,286.13 L607.0,286.28 L608.0,286.44 L609.0,286.59 L610.0,286.74 L611.0,286.89 L612.0,287.04 L613.0,287.18 L614.0,287.33 L615.0,287.47 L616.0,287.62 L617.0,287.76 L618.0,287.91 L619.0,288.06 L620.0,288.22 L621.0,288.37 L622.0,288.53 L623.0,288.70 L624.0,288.87 L625.0,289.04 L626.0,289.21 L627.0,289.38 L628.0,289.56 L629.0,289.74 L630.0,289.92 L631.0,290.12 L632.0,290.32 L633.0,290.52 L634.0,290.74 L635.0,290.97 L636.0,291.21 L637.0,291.47 L638.0,291.74 L639.0,292.02 L640.0,292.32 L641.0,292.62 L642.0,292.94 L643.0,293.27 L644.0,293.61 L645.0,293.98 L646.0,294.37 L647.0,294.77 L648.0,295.19 L649.0,295.60 L650.0,296.00 L700.0,340.00" fill="none" stroke="#1010ff" stroke-width="0.9"/>
</g>
<path d="M401.5,19V199" stroke="#222" stroke-width="1" fill="none"/>
<path d="M422.5,295.5v-3.5 M437.5,295.5v-3.5 M447.5,295.5v-3.5 M455.5,295.5v-3.5 M462.5,295.5v-3.5 M467.5,295.5v-3.5 M472.5,295.5v-3.5 M476.5,295.5v-3.5 M480.5,295.5v-7 M505.5,295.5v-3.5 M519.5,295.5v-3.5 M529.5,295.5v-3.5 M537.5,295.5v-3.5 M544.5,295.5v-3.5 M549.5,295.5v-3.5 M554.5,295.5v-3.5 M558.5,295.5v-3.5 M562.5,295.5v-7 M587.5,295.5v-3.5 M601.5,295.5v-3.5 M612.5,295.5v-3.5 M620.5,295.5v-3.5 M626.5,295.5v-3.5 M632.5,295.5v-3.5 M637.5,295.5v-3.5 M641.5,295.5v-3.5 M644.5,295.5v-7 M669.5,295.5v-3.5 M401.5,285.5h3.5 M401.5,275.5h3.5 M401.5,266.5h3.5 M401.5,256.5h3.5 M401.5,246.5h6.5 M401.5,237.5h3.5 M401.5,227.5h3.5 M401.5,217.5h3.5 M401.5,208.5h3.5" stroke="#222" stroke-width="1" fill="none"/>
<path d="M401.5,198V295.5H685" stroke="#222" stroke-width="1" fill="none"/>
<text x="394.0" y="57.75" text-anchor="end" class="ylab">3</text>
<text x="394.0" y="106.25" text-anchor="end" class="ylab">2</text>
<text x="394.0" y="154.75" text-anchor="end" class="ylab">1</text>
<text x="394.0" y="202.85" text-anchor="end" class="ylab">0.1</text>
<text x="394.0" y="251.10" text-anchor="end" class="ylab">0</text>
<text x="394.0" y="299.35" text-anchor="end" class="ylab">-0.1</text>
<text x="470.60" y="315.8" class="lab">10<tspan class="sup" dy="-5.4">-3</tspan></text>
<text x="552.90" y="315.8" class="lab">10<tspan class="sup" dy="-5.4">-2</tspan></text>
<text x="635.20" y="315.8" class="lab">10<tspan class="sup" dy="-5.4">-1</tspan></text>
<text transform="translate(675.9,325.8) scale(0.93,1)" class="ax">x</text>
<text x="398.3" y="10.25" class="t">CMS</text>
<text x="684.4" y="10.3" text-anchor="end" class="t2">Hessian uncetainties</text>
<text transform="translate(368.1,37.9) rotate(-90) scale(0.87,1)" class="ax">x</text>
<circle cx="363.0" cy="25.0" r="2.0" fill="#000"/>
<text transform="translate(368.1,18.6) rotate(-90) scale(0.94,1)" class="ax">s</text>
<text transform="translate(368.3,293.7) rotate(-90) scale(0.99,1)" class="ax">Fract. uncert.</text>
<rect x="356" y="9.2" width="1" height="10.4" fill="#c4c4c4"/>
<rect x="423.5" y="32.5" width="14" height="10" fill="#fff" stroke="#333" stroke-width="1"/>
<rect x="423.5" y="32.5" width="14" height="10" fill="url(#hatchL)"/>
<rect x="423.5" y="32.5" width="14" height="10" fill="none" stroke="#333" stroke-width="1"/>
<rect x="423.5" y="50.5" width="14" height="10" fill="#1ec8e6" stroke="#333" stroke-width="1"/>
<text x="445.4" y="41.7" class="lg">PRD 90 (2014) 032004</text>
<text x="445.4" y="59.6" class="lg">This analysis</text>
<text x="448.3" y="72.9" class="lg">parameterization of PRD 90 (2014) 032004</text>
<text x="251.8" y="41.0" class="mu">μ</text>
<text x="258.7" y="35.5" class="s2">2</text>
<text x="259.3" y="44.6" class="sf">f</text>
<text x="601.8" y="41.0" class="mu">μ</text>
<text x="608.7" y="35.5" class="s2">2</text>
<text x="609.3" y="44.6" class="sf">f</text>
<text x="266.4" y="40.7" class="eq">= 1.9 GeV</text>
<text x="326.6" y="34.2" class="sup2">2</text>
<text x="615.9" y="40.7" class="eq">= m</text>
<text transform="translate(639.8,44.8) scale(0.87,1)" class="sw">W</text>
<text x="641.4" y="35.8" class="s2b">2</text>
</svg>
</body></html>
